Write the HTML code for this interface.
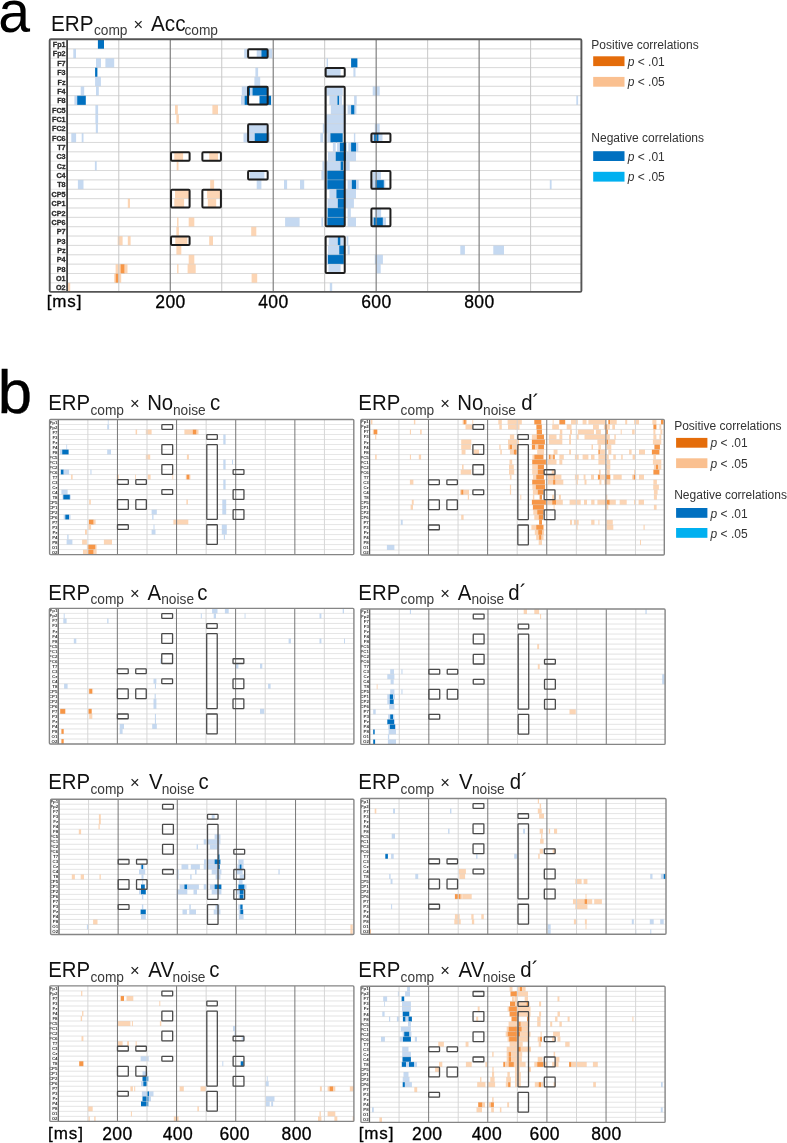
<!DOCTYPE html>
<html><head><meta charset="utf-8"><style>html,body{margin:0;padding:0;background:#fff;width:787px;height:1143px;overflow:hidden}svg{display:block;will-change:transform;font-family:"Liberation Sans",sans-serif}</style></head><body>
<svg width="787" height="1143" viewBox="0 0 787 1143">
<rect width="787" height="1143" fill="#fff"/>
<text x="-2.2" y="32.3" font-size="59" fill="#000" transform="translate(0.3 0) scale(0.97 1)">a</text>
<text transform="translate(50.9 0) scale(0.94 1)" x="0" y="30.7" font-size="22.05" fill="#111">ERP</text>
<text transform="translate(93.92 0) scale(0.955 1)" x="0" y="35.3" font-size="14.4" fill="#3a3a3a">comp</text>
<text transform="translate(133.45 0) scale(0.955 1)" x="0" y="29.7" font-size="17.32" fill="#222">×</text>
<text transform="translate(151.06 0) scale(0.94 1)" x="0" y="30.7" font-size="22.05" fill="#111">Acc</text>
<text transform="translate(184.42 0) scale(0.955 1)" x="0" y="35.3" font-size="14.4" fill="#3a3a3a">comp</text>
<rect x="49.7" y="39.2" width="531.7" height="252.7" fill="#fff"/>
<line x1="49.7" y1="48.86" x2="581.4" y2="48.86" stroke="#e4e4e4" stroke-width="1.0"/>
<line x1="49.7" y1="58.22" x2="581.4" y2="58.22" stroke="#e4e4e4" stroke-width="1.0"/>
<line x1="49.7" y1="67.58" x2="581.4" y2="67.58" stroke="#e4e4e4" stroke-width="1.0"/>
<line x1="49.7" y1="76.94" x2="581.4" y2="76.94" stroke="#e4e4e4" stroke-width="1.0"/>
<line x1="49.7" y1="86.3" x2="581.4" y2="86.3" stroke="#e4e4e4" stroke-width="1.0"/>
<line x1="49.7" y1="95.66" x2="581.4" y2="95.66" stroke="#e4e4e4" stroke-width="1.0"/>
<line x1="49.7" y1="105.01" x2="581.4" y2="105.01" stroke="#e4e4e4" stroke-width="1.0"/>
<line x1="49.7" y1="114.37" x2="581.4" y2="114.37" stroke="#e4e4e4" stroke-width="1.0"/>
<line x1="49.7" y1="123.73" x2="581.4" y2="123.73" stroke="#e4e4e4" stroke-width="1.0"/>
<line x1="49.7" y1="133.09" x2="581.4" y2="133.09" stroke="#e4e4e4" stroke-width="1.0"/>
<line x1="49.7" y1="142.45" x2="581.4" y2="142.45" stroke="#e4e4e4" stroke-width="1.0"/>
<line x1="49.7" y1="151.81" x2="581.4" y2="151.81" stroke="#e4e4e4" stroke-width="1.0"/>
<line x1="49.7" y1="161.17" x2="581.4" y2="161.17" stroke="#e4e4e4" stroke-width="1.0"/>
<line x1="49.7" y1="170.53" x2="581.4" y2="170.53" stroke="#e4e4e4" stroke-width="1.0"/>
<line x1="49.7" y1="179.89" x2="581.4" y2="179.89" stroke="#e4e4e4" stroke-width="1.0"/>
<line x1="49.7" y1="189.25" x2="581.4" y2="189.25" stroke="#e4e4e4" stroke-width="1.0"/>
<line x1="49.7" y1="198.61" x2="581.4" y2="198.61" stroke="#e4e4e4" stroke-width="1.0"/>
<line x1="49.7" y1="207.97" x2="581.4" y2="207.97" stroke="#e4e4e4" stroke-width="1.0"/>
<line x1="49.7" y1="217.33" x2="581.4" y2="217.33" stroke="#e4e4e4" stroke-width="1.0"/>
<line x1="49.7" y1="226.69" x2="581.4" y2="226.69" stroke="#e4e4e4" stroke-width="1.0"/>
<line x1="49.7" y1="236.04" x2="581.4" y2="236.04" stroke="#e4e4e4" stroke-width="1.0"/>
<line x1="49.7" y1="245.4" x2="581.4" y2="245.4" stroke="#e4e4e4" stroke-width="1.0"/>
<line x1="49.7" y1="254.76" x2="581.4" y2="254.76" stroke="#e4e4e4" stroke-width="1.0"/>
<line x1="49.7" y1="264.12" x2="581.4" y2="264.12" stroke="#e4e4e4" stroke-width="1.0"/>
<line x1="49.7" y1="273.48" x2="581.4" y2="273.48" stroke="#e4e4e4" stroke-width="1.0"/>
<line x1="49.7" y1="282.84" x2="581.4" y2="282.84" stroke="#e4e4e4" stroke-width="1.0"/>
<rect x="97.9" y="39.2" width="6.1" height="9.66" fill="#0070C0"/>
<rect x="73.3" y="48.86" width="2.7" height="9.36" fill="#C5D9F1"/>
<rect x="96" y="58.22" width="5" height="9.36" fill="#C5D9F1"/>
<rect x="105.4" y="58.22" width="8.8" height="9.36" fill="#C5D9F1"/>
<rect x="95.1" y="67.58" width="2.3" height="9.36" fill="#0070C0"/>
<rect x="95.1" y="76.94" width="5.8" height="9.36" fill="#C5D9F1"/>
<rect x="80.7" y="86.3" width="3.5" height="9.36" fill="#C5D9F1"/>
<rect x="96" y="86.3" width="2.8" height="9.36" fill="#C5D9F1"/>
<rect x="74.4" y="95.66" width="2.8" height="9.36" fill="#C5D9F1"/>
<rect x="77.2" y="95.66" width="8.6" height="9.36" fill="#0070C0"/>
<rect x="95.4" y="105.01" width="2.7" height="9.36" fill="#C5D9F1"/>
<rect x="95.4" y="114.37" width="2.7" height="9.36" fill="#C5D9F1"/>
<rect x="95.8" y="123.73" width="2.1" height="9.36" fill="#C5D9F1"/>
<rect x="71.3" y="133.09" width="4.8" height="9.36" fill="#C5D9F1"/>
<rect x="81.7" y="133.09" width="1.8" height="9.36" fill="#C5D9F1"/>
<rect x="94.9" y="161.17" width="1.8" height="9.36" fill="#C5D9F1"/>
<rect x="77.9" y="179.89" width="5.6" height="9.36" fill="#C5D9F1"/>
<rect x="127.8" y="198.61" width="2.2" height="9.36" fill="#FCD5B4"/>
<rect x="117.7" y="236.04" width="4.9" height="9.36" fill="#FCD5B4"/>
<rect x="127.8" y="236.04" width="2.8" height="9.36" fill="#FCD5B4"/>
<rect x="115.6" y="264.12" width="4.9" height="9.36" fill="#FCD5B4"/>
<rect x="120.5" y="264.12" width="4.2" height="9.36" fill="#F79646"/>
<rect x="124.7" y="264.12" width="2.8" height="9.36" fill="#FCD5B4"/>
<rect x="114.2" y="273.48" width="1.4" height="9.36" fill="#FCD5B4"/>
<rect x="115.6" y="273.48" width="3.2" height="9.36" fill="#F79646"/>
<rect x="118.8" y="273.48" width="2.4" height="9.36" fill="#FCD5B4"/>
<rect x="67.7" y="282.84" width="2.5" height="9.06" fill="#FCD5B4"/>
<rect x="244.2" y="48.86" width="2.8" height="9.36" fill="#C5D9F1"/>
<rect x="256.7" y="48.86" width="4.7" height="9.36" fill="#C5D9F1"/>
<rect x="261.4" y="48.86" width="6.1" height="9.36" fill="#0070C0"/>
<rect x="268.9" y="48.86" width="3.2" height="9.36" fill="#C5D9F1"/>
<rect x="255.4" y="67.58" width="2.7" height="9.36" fill="#C5D9F1"/>
<rect x="254.4" y="76.94" width="5.8" height="9.36" fill="#C5D9F1"/>
<rect x="241.8" y="86.3" width="5.2" height="9.36" fill="#C5D9F1"/>
<rect x="247" y="86.3" width="3" height="9.36" fill="#0070C0"/>
<rect x="250" y="86.3" width="2.5" height="9.36" fill="#C5D9F1"/>
<rect x="252.5" y="86.3" width="15.5" height="9.36" fill="#0070C0"/>
<rect x="241" y="95.66" width="3.6" height="9.36" fill="#C5D9F1"/>
<rect x="244.6" y="95.66" width="4.2" height="9.36" fill="#0070C0"/>
<rect x="259.5" y="95.66" width="11.6" height="9.36" fill="#0070C0"/>
<rect x="175" y="105.01" width="2.8" height="9.36" fill="#FCD5B4"/>
<rect x="212.4" y="105.01" width="5.6" height="9.36" fill="#FCD5B4"/>
<rect x="176.4" y="114.37" width="2.5" height="9.36" fill="#FCD5B4"/>
<rect x="249" y="123.73" width="18.5" height="9.36" fill="#C5D9F1"/>
<rect x="243.5" y="133.09" width="11.2" height="9.36" fill="#C5D9F1"/>
<rect x="254.7" y="133.09" width="12.3" height="9.36" fill="#0070C0"/>
<rect x="267" y="133.09" width="2.7" height="9.36" fill="#C5D9F1"/>
<rect x="174.3" y="151.81" width="8.8" height="9.36" fill="#FCD5B4"/>
<rect x="209.2" y="151.81" width="8.8" height="9.36" fill="#FCD5B4"/>
<rect x="176.7" y="161.17" width="1.8" height="9.36" fill="#FCD5B4"/>
<rect x="249.8" y="170.53" width="14.6" height="9.36" fill="#C5D9F1"/>
<rect x="210.2" y="179.89" width="3.9" height="9.36" fill="#FCD5B4"/>
<rect x="256.7" y="179.89" width="4.7" height="9.36" fill="#C5D9F1"/>
<rect x="175" y="189.25" width="14.2" height="9.36" fill="#FCD5B4"/>
<rect x="207.1" y="189.25" width="13.7" height="9.36" fill="#FCD5B4"/>
<rect x="174.3" y="198.61" width="9.8" height="9.36" fill="#FCD5B4"/>
<rect x="207.8" y="198.61" width="8.4" height="9.36" fill="#FCD5B4"/>
<rect x="177.1" y="217.33" width="1.4" height="9.36" fill="#FCD5B4"/>
<rect x="188.7" y="217.33" width="5.6" height="9.36" fill="#FCD5B4"/>
<rect x="176.4" y="226.69" width="2.5" height="9.36" fill="#FCD5B4"/>
<rect x="251.2" y="226.69" width="5.1" height="9.36" fill="#FCD5B4"/>
<rect x="175.3" y="236.04" width="12" height="9.36" fill="#FCD5B4"/>
<rect x="209.2" y="236.04" width="3.8" height="9.36" fill="#FCD5B4"/>
<rect x="176.4" y="245.4" width="4.9" height="9.36" fill="#FCD5B4"/>
<rect x="188.7" y="254.76" width="5.6" height="9.36" fill="#FCD5B4"/>
<rect x="177.1" y="264.12" width="1.4" height="9.36" fill="#FCD5B4"/>
<rect x="187.6" y="264.12" width="8.1" height="9.36" fill="#FCD5B4"/>
<rect x="251.6" y="273.48" width="5.6" height="9.36" fill="#FCD5B4"/>
<rect x="326.6" y="58.22" width="1.4" height="9.36" fill="#C5D9F1"/>
<rect x="351.1" y="58.22" width="6.3" height="9.36" fill="#0070C0"/>
<rect x="325.9" y="67.58" width="14.7" height="9.36" fill="#C5D9F1"/>
<rect x="353.4" y="67.58" width="2.1" height="9.36" fill="#C5D9F1"/>
<rect x="326.6" y="86.3" width="16.1" height="9.36" fill="#C5D9F1"/>
<rect x="372.7" y="86.3" width="7" height="9.36" fill="#C5D9F1"/>
<rect x="329.4" y="95.66" width="7.7" height="9.36" fill="#C5D9F1"/>
<rect x="337.4" y="95.66" width="1.8" height="9.36" fill="#0070C0"/>
<rect x="339.2" y="95.66" width="2.8" height="9.36" fill="#C5D9F1"/>
<rect x="354.1" y="95.66" width="2.6" height="9.36" fill="#C5D9F1"/>
<rect x="330.8" y="105.01" width="13.3" height="9.36" fill="#C5D9F1"/>
<rect x="347.6" y="105.01" width="3.5" height="9.36" fill="#C5D9F1"/>
<rect x="351.1" y="105.01" width="3.5" height="9.36" fill="#0070C0"/>
<rect x="354.6" y="105.01" width="1.8" height="9.36" fill="#C5D9F1"/>
<rect x="325.9" y="114.37" width="19.6" height="9.36" fill="#C5D9F1"/>
<rect x="322.8" y="123.73" width="21.3" height="9.36" fill="#C5D9F1"/>
<rect x="374.8" y="123.73" width="4.9" height="9.36" fill="#C5D9F1"/>
<rect x="320.3" y="133.09" width="2.8" height="9.36" fill="#C5D9F1"/>
<rect x="327.3" y="133.09" width="3.1" height="9.36" fill="#C5D9F1"/>
<rect x="330.4" y="133.09" width="12.3" height="9.36" fill="#0070C0"/>
<rect x="353.9" y="133.09" width="1.4" height="9.36" fill="#C5D9F1"/>
<rect x="372" y="133.09" width="2.1" height="9.36" fill="#C5D9F1"/>
<rect x="374.1" y="133.09" width="4.6" height="9.36" fill="#0070C0"/>
<rect x="378.7" y="133.09" width="3.8" height="9.36" fill="#C5D9F1"/>
<rect x="332.9" y="142.45" width="2.8" height="9.36" fill="#C5D9F1"/>
<rect x="337.1" y="142.45" width="2.8" height="9.36" fill="#C5D9F1"/>
<rect x="339.9" y="142.45" width="6.3" height="9.36" fill="#0070C0"/>
<rect x="348.3" y="142.45" width="2.8" height="9.36" fill="#C5D9F1"/>
<rect x="351.1" y="142.45" width="4.9" height="9.36" fill="#0070C0"/>
<rect x="356" y="142.45" width="2.3" height="9.36" fill="#C5D9F1"/>
<rect x="328" y="151.81" width="7.7" height="9.36" fill="#C5D9F1"/>
<rect x="335.7" y="151.81" width="10.5" height="9.36" fill="#0070C0"/>
<rect x="346.2" y="151.81" width="9.8" height="9.36" fill="#C5D9F1"/>
<rect x="322.4" y="161.17" width="18.2" height="9.36" fill="#C5D9F1"/>
<rect x="340.6" y="161.17" width="2.8" height="9.36" fill="#0070C0"/>
<rect x="343.4" y="161.17" width="6.3" height="9.36" fill="#C5D9F1"/>
<rect x="321.4" y="170.53" width="5.9" height="9.36" fill="#C5D9F1"/>
<rect x="327.3" y="170.53" width="16.8" height="9.36" fill="#0070C0"/>
<rect x="372.7" y="170.53" width="8.3" height="9.36" fill="#C5D9F1"/>
<rect x="284" y="179.89" width="3.1" height="9.36" fill="#C5D9F1"/>
<rect x="300" y="179.89" width="4.2" height="9.36" fill="#C5D9F1"/>
<rect x="323.8" y="179.89" width="3.5" height="9.36" fill="#C5D9F1"/>
<rect x="327.3" y="179.89" width="16.8" height="9.36" fill="#0070C0"/>
<rect x="347.6" y="179.89" width="4.2" height="9.36" fill="#C5D9F1"/>
<rect x="351.8" y="179.89" width="4.2" height="9.36" fill="#0070C0"/>
<rect x="356" y="179.89" width="2.7" height="9.36" fill="#C5D9F1"/>
<rect x="372" y="179.89" width="3.5" height="9.36" fill="#C5D9F1"/>
<rect x="375.5" y="179.89" width="8.4" height="9.36" fill="#0070C0"/>
<rect x="383.9" y="179.89" width="1.4" height="9.36" fill="#C5D9F1"/>
<rect x="329.4" y="189.25" width="7" height="9.36" fill="#C5D9F1"/>
<rect x="336.4" y="189.25" width="7.7" height="9.36" fill="#0070C0"/>
<rect x="344.1" y="189.25" width="11.9" height="9.36" fill="#C5D9F1"/>
<rect x="327.6" y="198.61" width="10.2" height="9.36" fill="#C5D9F1"/>
<rect x="337.8" y="198.61" width="6.3" height="9.36" fill="#0070C0"/>
<rect x="344.1" y="198.61" width="9.8" height="9.36" fill="#C5D9F1"/>
<rect x="327.6" y="207.97" width="16.8" height="9.36" fill="#0070C0"/>
<rect x="347.6" y="207.97" width="3.2" height="9.36" fill="#C5D9F1"/>
<rect x="374.8" y="207.97" width="6.3" height="9.36" fill="#C5D9F1"/>
<rect x="285.1" y="217.33" width="14.5" height="9.36" fill="#C5D9F1"/>
<rect x="321.4" y="217.33" width="1.7" height="9.36" fill="#C5D9F1"/>
<rect x="327.3" y="217.33" width="17.1" height="9.36" fill="#0070C0"/>
<rect x="347.6" y="217.33" width="8.4" height="9.36" fill="#C5D9F1"/>
<rect x="372" y="217.33" width="1.7" height="9.36" fill="#C5D9F1"/>
<rect x="373.7" y="217.33" width="9.2" height="9.36" fill="#0070C0"/>
<rect x="382.9" y="217.33" width="3.1" height="9.36" fill="#C5D9F1"/>
<rect x="328.7" y="236.04" width="9.1" height="9.36" fill="#C5D9F1"/>
<rect x="337.8" y="236.04" width="2.8" height="9.36" fill="#0070C0"/>
<rect x="340.6" y="236.04" width="3.2" height="9.36" fill="#C5D9F1"/>
<rect x="346.6" y="236.04" width="1.7" height="9.36" fill="#C5D9F1"/>
<rect x="328" y="245.4" width="11.2" height="9.36" fill="#C5D9F1"/>
<rect x="339.2" y="245.4" width="4.9" height="9.36" fill="#0070C0"/>
<rect x="347.6" y="245.4" width="2.1" height="9.36" fill="#C5D9F1"/>
<rect x="325.2" y="254.76" width="2.8" height="9.36" fill="#C5D9F1"/>
<rect x="328" y="254.76" width="15.8" height="9.36" fill="#0070C0"/>
<rect x="374.8" y="254.76" width="8.1" height="9.36" fill="#C5D9F1"/>
<rect x="328.4" y="264.12" width="12.2" height="9.36" fill="#C5D9F1"/>
<rect x="376.2" y="264.12" width="4.5" height="9.36" fill="#C5D9F1"/>
<rect x="329.8" y="282.84" width="2.4" height="9.06" fill="#C5D9F1"/>
<rect x="460.3" y="245.4" width="4.6" height="9.36" fill="#C5D9F1"/>
<rect x="493.3" y="245.4" width="10.7" height="9.36" fill="#C5D9F1"/>
<rect x="549.8" y="179.89" width="1.8" height="9.36" fill="#C5D9F1"/>
<rect x="576.3" y="95.66" width="1.8" height="9.36" fill="#C5D9F1"/>
<line x1="67.1" y1="48.86" x2="581.4" y2="48.86" stroke="rgba(200,200,200,0.35)" stroke-width="1.0"/>
<line x1="67.1" y1="58.22" x2="581.4" y2="58.22" stroke="rgba(200,200,200,0.35)" stroke-width="1.0"/>
<line x1="67.1" y1="67.58" x2="581.4" y2="67.58" stroke="rgba(200,200,200,0.35)" stroke-width="1.0"/>
<line x1="67.1" y1="76.94" x2="581.4" y2="76.94" stroke="rgba(200,200,200,0.35)" stroke-width="1.0"/>
<line x1="67.1" y1="86.3" x2="581.4" y2="86.3" stroke="rgba(200,200,200,0.35)" stroke-width="1.0"/>
<line x1="67.1" y1="95.66" x2="581.4" y2="95.66" stroke="rgba(200,200,200,0.35)" stroke-width="1.0"/>
<line x1="67.1" y1="105.01" x2="581.4" y2="105.01" stroke="rgba(200,200,200,0.35)" stroke-width="1.0"/>
<line x1="67.1" y1="114.37" x2="581.4" y2="114.37" stroke="rgba(200,200,200,0.35)" stroke-width="1.0"/>
<line x1="67.1" y1="123.73" x2="581.4" y2="123.73" stroke="rgba(200,200,200,0.35)" stroke-width="1.0"/>
<line x1="67.1" y1="133.09" x2="581.4" y2="133.09" stroke="rgba(200,200,200,0.35)" stroke-width="1.0"/>
<line x1="67.1" y1="142.45" x2="581.4" y2="142.45" stroke="rgba(200,200,200,0.35)" stroke-width="1.0"/>
<line x1="67.1" y1="151.81" x2="581.4" y2="151.81" stroke="rgba(200,200,200,0.35)" stroke-width="1.0"/>
<line x1="67.1" y1="161.17" x2="581.4" y2="161.17" stroke="rgba(200,200,200,0.35)" stroke-width="1.0"/>
<line x1="67.1" y1="170.53" x2="581.4" y2="170.53" stroke="rgba(200,200,200,0.35)" stroke-width="1.0"/>
<line x1="67.1" y1="179.89" x2="581.4" y2="179.89" stroke="rgba(200,200,200,0.35)" stroke-width="1.0"/>
<line x1="67.1" y1="189.25" x2="581.4" y2="189.25" stroke="rgba(200,200,200,0.35)" stroke-width="1.0"/>
<line x1="67.1" y1="198.61" x2="581.4" y2="198.61" stroke="rgba(200,200,200,0.35)" stroke-width="1.0"/>
<line x1="67.1" y1="207.97" x2="581.4" y2="207.97" stroke="rgba(200,200,200,0.35)" stroke-width="1.0"/>
<line x1="67.1" y1="217.33" x2="581.4" y2="217.33" stroke="rgba(200,200,200,0.35)" stroke-width="1.0"/>
<line x1="67.1" y1="226.69" x2="581.4" y2="226.69" stroke="rgba(200,200,200,0.35)" stroke-width="1.0"/>
<line x1="67.1" y1="236.04" x2="581.4" y2="236.04" stroke="rgba(200,200,200,0.35)" stroke-width="1.0"/>
<line x1="67.1" y1="245.4" x2="581.4" y2="245.4" stroke="rgba(200,200,200,0.35)" stroke-width="1.0"/>
<line x1="67.1" y1="254.76" x2="581.4" y2="254.76" stroke="rgba(200,200,200,0.35)" stroke-width="1.0"/>
<line x1="67.1" y1="264.12" x2="581.4" y2="264.12" stroke="rgba(200,200,200,0.35)" stroke-width="1.0"/>
<line x1="67.1" y1="273.48" x2="581.4" y2="273.48" stroke="rgba(200,200,200,0.35)" stroke-width="1.0"/>
<line x1="67.1" y1="282.84" x2="581.4" y2="282.84" stroke="rgba(200,200,200,0.35)" stroke-width="1.0"/>
<line x1="118.81" y1="39.2" x2="118.81" y2="291.9" stroke="#c8c8c8" stroke-width="1"/>
<line x1="170.28" y1="39.2" x2="170.28" y2="291.9" stroke="#808080" stroke-width="1.2"/>
<line x1="221.75" y1="39.2" x2="221.75" y2="291.9" stroke="#c8c8c8" stroke-width="1"/>
<line x1="273.23" y1="39.2" x2="273.23" y2="291.9" stroke="#808080" stroke-width="1.2"/>
<line x1="324.7" y1="39.2" x2="324.7" y2="291.9" stroke="#c8c8c8" stroke-width="1"/>
<line x1="376.18" y1="39.2" x2="376.18" y2="291.9" stroke="#808080" stroke-width="1.2"/>
<line x1="427.66" y1="39.2" x2="427.66" y2="291.9" stroke="#c8c8c8" stroke-width="1"/>
<line x1="479.13" y1="39.2" x2="479.13" y2="291.9" stroke="#808080" stroke-width="1.2"/>
<line x1="530.61" y1="39.2" x2="530.61" y2="291.9" stroke="#c8c8c8" stroke-width="1"/>
<rect x="248.1" y="49.36" width="19.58" height="8.36" fill="none" stroke="#1e1e1e" stroke-width="2.0" rx="1"/>
<rect x="325.66" y="68.08" width="19.06" height="8.36" fill="none" stroke="#1e1e1e" stroke-width="2.0" rx="1"/>
<rect x="248.1" y="86.8" width="19.58" height="17.72" fill="none" stroke="#1e1e1e" stroke-width="2.0" rx="1"/>
<rect x="248.1" y="124.23" width="19.58" height="17.72" fill="none" stroke="#1e1e1e" stroke-width="2.0" rx="1"/>
<rect x="371.38" y="133.59" width="19.06" height="8.36" fill="none" stroke="#1e1e1e" stroke-width="2.0" rx="1"/>
<rect x="171.04" y="152.31" width="18.55" height="8.36" fill="none" stroke="#1e1e1e" stroke-width="2.0" rx="1"/>
<rect x="202.38" y="152.31" width="18.55" height="8.36" fill="none" stroke="#1e1e1e" stroke-width="2.0" rx="1"/>
<rect x="248.1" y="171.03" width="19.58" height="8.36" fill="none" stroke="#1e1e1e" stroke-width="2.0" rx="1"/>
<rect x="371.38" y="171.03" width="19.06" height="17.72" fill="none" stroke="#1e1e1e" stroke-width="2.0" rx="1"/>
<rect x="171.04" y="189.75" width="18.55" height="17.72" fill="none" stroke="#1e1e1e" stroke-width="2.0" rx="1"/>
<rect x="202.38" y="189.75" width="18.55" height="17.72" fill="none" stroke="#1e1e1e" stroke-width="2.0" rx="1"/>
<rect x="325.66" y="86.8" width="19.06" height="139.39" fill="none" stroke="#1e1e1e" stroke-width="2.0" rx="1"/>
<rect x="371.38" y="208.47" width="19.06" height="17.72" fill="none" stroke="#1e1e1e" stroke-width="2.0" rx="1"/>
<rect x="171.04" y="236.54" width="18.55" height="8.36" fill="none" stroke="#1e1e1e" stroke-width="2.0" rx="1"/>
<rect x="325.66" y="236.54" width="19.06" height="36.44" fill="none" stroke="#1e1e1e" stroke-width="2.0" rx="1"/>
<line x1="67.1" y1="39.2" x2="67.1" y2="291.9" stroke="#454545" stroke-width="1.8"/>
<text x="65.6" y="46.93" font-size="7.2" font-weight="bold" text-anchor="end" fill="#2a2a2a" stroke="#2a2a2a" stroke-width="0.3">Fp1</text>
<text x="65.6" y="56.44" font-size="7.2" font-weight="bold" text-anchor="end" fill="#2a2a2a" stroke="#2a2a2a" stroke-width="0.3">Fp2</text>
<text x="65.6" y="65.8" font-size="7.2" font-weight="bold" text-anchor="end" fill="#2a2a2a" stroke="#2a2a2a" stroke-width="0.3">F7</text>
<text x="65.6" y="75.16" font-size="7.2" font-weight="bold" text-anchor="end" fill="#2a2a2a" stroke="#2a2a2a" stroke-width="0.3">F3</text>
<text x="65.6" y="84.52" font-size="7.2" font-weight="bold" text-anchor="end" fill="#2a2a2a" stroke="#2a2a2a" stroke-width="0.3">Fz</text>
<text x="65.6" y="93.88" font-size="7.2" font-weight="bold" text-anchor="end" fill="#2a2a2a" stroke="#2a2a2a" stroke-width="0.3">F4</text>
<text x="65.6" y="103.24" font-size="7.2" font-weight="bold" text-anchor="end" fill="#2a2a2a" stroke="#2a2a2a" stroke-width="0.3">F8</text>
<text x="65.6" y="112.59" font-size="7.2" font-weight="bold" text-anchor="end" fill="#2a2a2a" stroke="#2a2a2a" stroke-width="0.3">FC5</text>
<text x="65.6" y="121.95" font-size="7.2" font-weight="bold" text-anchor="end" fill="#2a2a2a" stroke="#2a2a2a" stroke-width="0.3">FC1</text>
<text x="65.6" y="131.31" font-size="7.2" font-weight="bold" text-anchor="end" fill="#2a2a2a" stroke="#2a2a2a" stroke-width="0.3">FC2</text>
<text x="65.6" y="140.67" font-size="7.2" font-weight="bold" text-anchor="end" fill="#2a2a2a" stroke="#2a2a2a" stroke-width="0.3">FC6</text>
<text x="65.6" y="150.03" font-size="7.2" font-weight="bold" text-anchor="end" fill="#2a2a2a" stroke="#2a2a2a" stroke-width="0.3">T7</text>
<text x="65.6" y="159.39" font-size="7.2" font-weight="bold" text-anchor="end" fill="#2a2a2a" stroke="#2a2a2a" stroke-width="0.3">C3</text>
<text x="65.6" y="168.75" font-size="7.2" font-weight="bold" text-anchor="end" fill="#2a2a2a" stroke="#2a2a2a" stroke-width="0.3">Cz</text>
<text x="65.6" y="178.11" font-size="7.2" font-weight="bold" text-anchor="end" fill="#2a2a2a" stroke="#2a2a2a" stroke-width="0.3">C4</text>
<text x="65.6" y="187.47" font-size="7.2" font-weight="bold" text-anchor="end" fill="#2a2a2a" stroke="#2a2a2a" stroke-width="0.3">T8</text>
<text x="65.6" y="196.83" font-size="7.2" font-weight="bold" text-anchor="end" fill="#2a2a2a" stroke="#2a2a2a" stroke-width="0.3">CP5</text>
<text x="65.6" y="206.19" font-size="7.2" font-weight="bold" text-anchor="end" fill="#2a2a2a" stroke="#2a2a2a" stroke-width="0.3">CP1</text>
<text x="65.6" y="215.55" font-size="7.2" font-weight="bold" text-anchor="end" fill="#2a2a2a" stroke="#2a2a2a" stroke-width="0.3">CP2</text>
<text x="65.6" y="224.91" font-size="7.2" font-weight="bold" text-anchor="end" fill="#2a2a2a" stroke="#2a2a2a" stroke-width="0.3">CP6</text>
<text x="65.6" y="234.26" font-size="7.2" font-weight="bold" text-anchor="end" fill="#2a2a2a" stroke="#2a2a2a" stroke-width="0.3">P7</text>
<text x="65.6" y="243.62" font-size="7.2" font-weight="bold" text-anchor="end" fill="#2a2a2a" stroke="#2a2a2a" stroke-width="0.3">P3</text>
<text x="65.6" y="252.98" font-size="7.2" font-weight="bold" text-anchor="end" fill="#2a2a2a" stroke="#2a2a2a" stroke-width="0.3">Pz</text>
<text x="65.6" y="262.34" font-size="7.2" font-weight="bold" text-anchor="end" fill="#2a2a2a" stroke="#2a2a2a" stroke-width="0.3">P4</text>
<text x="65.6" y="271.7" font-size="7.2" font-weight="bold" text-anchor="end" fill="#2a2a2a" stroke="#2a2a2a" stroke-width="0.3">P8</text>
<text x="65.6" y="281.06" font-size="7.2" font-weight="bold" text-anchor="end" fill="#2a2a2a" stroke="#2a2a2a" stroke-width="0.3">O1</text>
<text x="65.6" y="290.27" font-size="7.2" font-weight="bold" text-anchor="end" fill="#2a2a2a" stroke="#2a2a2a" stroke-width="0.3">O2</text>
<rect x="49.7" y="39.2" width="531.7" height="252.7" fill="none" stroke="#555" stroke-width="1.9" rx="1.2"/>
<text x="591.3" y="49" font-size="12" fill="#333">Positive correlations</text>
<text x="591.3" y="141.8" font-size="12" fill="#333">Negative correlations</text>
<rect x="593.2" y="56.3" width="31.3" height="9.8" fill="#E46C0A"/>
<text x="627.7" y="65.8" font-size="12" fill="#333"><tspan font-style="italic">p</tspan> &lt; .01</text>
<rect x="593.2" y="76.9" width="31.3" height="9.8" fill="#FAC090"/>
<text x="627.7" y="86.4" font-size="12" fill="#333"><tspan font-style="italic">p</tspan> &lt; .05</text>
<rect x="593.2" y="151.2" width="31.3" height="9.8" fill="#0070C0"/>
<text x="627.7" y="160.7" font-size="12" fill="#333"><tspan font-style="italic">p</tspan> &lt; .01</text>
<rect x="593.2" y="171.8" width="31.3" height="9.8" fill="#00B0F0"/>
<text x="627.7" y="181.3" font-size="12" fill="#333"><tspan font-style="italic">p</tspan> &lt; .05</text>
<text x="46.7" y="306.6" font-size="17" letter-spacing="0.9" fill="#000" stroke="#000" stroke-width="0.3">[ms]</text>
<text x="170.48" y="308.2" font-size="17.5" letter-spacing="0.4" fill="#000" stroke="#000" stroke-width="0.3" text-anchor="middle">200</text>
<text x="273.43" y="308.2" font-size="17.5" letter-spacing="0.4" fill="#000" stroke="#000" stroke-width="0.3" text-anchor="middle">400</text>
<text x="376.38" y="308.2" font-size="17.5" letter-spacing="0.4" fill="#000" stroke="#000" stroke-width="0.3" text-anchor="middle">600</text>
<text x="479.33" y="308.2" font-size="17.5" letter-spacing="0.4" fill="#000" stroke="#000" stroke-width="0.3" text-anchor="middle">800</text>
<text x="-2.2" y="413.2" font-size="61.6" fill="#000" stroke="#000" stroke-width="0.4">b</text>
<text transform="translate(48.13 0) scale(0.925 1)" x="0" y="410.4" font-size="22.05" fill="#111">ERP</text>
<text transform="translate(90.42 0) scale(0.955 1)" x="0" y="415" font-size="14.4" fill="#3a3a3a">comp</text>
<text transform="translate(130.05 0) scale(0.955 1)" x="0" y="409.4" font-size="17.32" fill="#222">×</text>
<text transform="translate(147.13 0) scale(0.925 1)" x="0" y="410.4" font-size="22.05" fill="#111">No</text>
<text transform="translate(172.89 0) scale(0.955 1)" x="0" y="415" font-size="14.4" fill="#3a3a3a">noise</text>
<text transform="translate(209.93 0) scale(0.925 1)" x="0" y="410.4" font-size="22.05" fill="#111">c</text>
<rect x="49.6" y="419.5" width="304.2" height="135.1" fill="#fff"/>
<line x1="49.6" y1="424.5" x2="353.8" y2="424.5" stroke="#ededed" stroke-width="0.8"/>
<line x1="49.6" y1="429.51" x2="353.8" y2="429.51" stroke="#ededed" stroke-width="0.8"/>
<line x1="49.6" y1="434.51" x2="353.8" y2="434.51" stroke="#ededed" stroke-width="0.8"/>
<line x1="49.6" y1="439.51" x2="353.8" y2="439.51" stroke="#ededed" stroke-width="0.8"/>
<line x1="49.6" y1="444.52" x2="353.8" y2="444.52" stroke="#ededed" stroke-width="0.8"/>
<line x1="49.6" y1="449.52" x2="353.8" y2="449.52" stroke="#ededed" stroke-width="0.8"/>
<line x1="49.6" y1="454.53" x2="353.8" y2="454.53" stroke="#ededed" stroke-width="0.8"/>
<line x1="49.6" y1="459.53" x2="353.8" y2="459.53" stroke="#ededed" stroke-width="0.8"/>
<line x1="49.6" y1="464.53" x2="353.8" y2="464.53" stroke="#ededed" stroke-width="0.8"/>
<line x1="49.6" y1="469.54" x2="353.8" y2="469.54" stroke="#ededed" stroke-width="0.8"/>
<line x1="49.6" y1="474.54" x2="353.8" y2="474.54" stroke="#ededed" stroke-width="0.8"/>
<line x1="49.6" y1="479.54" x2="353.8" y2="479.54" stroke="#ededed" stroke-width="0.8"/>
<line x1="49.6" y1="484.55" x2="353.8" y2="484.55" stroke="#ededed" stroke-width="0.8"/>
<line x1="49.6" y1="489.55" x2="353.8" y2="489.55" stroke="#ededed" stroke-width="0.8"/>
<line x1="49.6" y1="494.56" x2="353.8" y2="494.56" stroke="#ededed" stroke-width="0.8"/>
<line x1="49.6" y1="499.56" x2="353.8" y2="499.56" stroke="#ededed" stroke-width="0.8"/>
<line x1="49.6" y1="504.56" x2="353.8" y2="504.56" stroke="#ededed" stroke-width="0.8"/>
<line x1="49.6" y1="509.57" x2="353.8" y2="509.57" stroke="#ededed" stroke-width="0.8"/>
<line x1="49.6" y1="514.57" x2="353.8" y2="514.57" stroke="#ededed" stroke-width="0.8"/>
<line x1="49.6" y1="519.57" x2="353.8" y2="519.57" stroke="#ededed" stroke-width="0.8"/>
<line x1="49.6" y1="524.58" x2="353.8" y2="524.58" stroke="#ededed" stroke-width="0.8"/>
<line x1="49.6" y1="529.58" x2="353.8" y2="529.58" stroke="#ededed" stroke-width="0.8"/>
<line x1="49.6" y1="534.59" x2="353.8" y2="534.59" stroke="#ededed" stroke-width="0.8"/>
<line x1="49.6" y1="539.59" x2="353.8" y2="539.59" stroke="#ededed" stroke-width="0.8"/>
<line x1="49.6" y1="544.59" x2="353.8" y2="544.59" stroke="#ededed" stroke-width="0.8"/>
<line x1="49.6" y1="549.6" x2="353.8" y2="549.6" stroke="#ededed" stroke-width="0.8"/>
<rect x="107.8" y="419.5" width="0.8" height="5" fill="#C5D9F1"/>
<rect x="107.2" y="424.5" width="1.9" height="5" fill="#C5D9F1"/>
<rect x="135.6" y="429.51" width="1.5" height="5" fill="#FCD5B4"/>
<rect x="145.8" y="429.51" width="5.8" height="5" fill="#FCD5B4"/>
<rect x="184.4" y="429.51" width="8.3" height="5" fill="#FCD5B4"/>
<rect x="192.7" y="429.51" width="3.9" height="5" fill="#F79646"/>
<rect x="196.6" y="429.51" width="1.9" height="5" fill="#FCD5B4"/>
<rect x="66.3" y="444.52" width="0.8" height="5" fill="#C5D9F1"/>
<rect x="59.9" y="449.52" width="2.3" height="5" fill="#C5D9F1"/>
<rect x="62.2" y="449.52" width="6.4" height="5" fill="#0070C0"/>
<rect x="107.2" y="449.52" width="3.8" height="5" fill="#C5D9F1"/>
<rect x="145.8" y="454.53" width="4.4" height="5" fill="#FCD5B4"/>
<rect x="186.9" y="454.53" width="2" height="5" fill="#FCD5B4"/>
<rect x="60.8" y="469.54" width="2.9" height="5" fill="#0070C0"/>
<rect x="63.7" y="469.54" width="5.4" height="5" fill="#C5D9F1"/>
<rect x="90.4" y="469.54" width="1.1" height="5" fill="#C5D9F1"/>
<rect x="71.1" y="474.54" width="1.5" height="5" fill="#FCD5B4"/>
<rect x="116.8" y="474.54" width="2" height="5" fill="#FCD5B4"/>
<rect x="135.2" y="474.54" width="0.8" height="5" fill="#FCD5B4"/>
<rect x="147.7" y="474.54" width="2.9" height="5" fill="#FCD5B4"/>
<rect x="172.3" y="474.54" width="0.9" height="5" fill="#FCD5B4"/>
<rect x="185.8" y="474.54" width="0.8" height="5" fill="#FCD5B4"/>
<rect x="186.6" y="474.54" width="3" height="5" fill="#F79646"/>
<rect x="189.6" y="474.54" width="0.8" height="5" fill="#FCD5B4"/>
<rect x="61.4" y="489.55" width="6.2" height="5" fill="#C5D9F1"/>
<rect x="62.5" y="494.56" width="0.8" height="5" fill="#C5D9F1"/>
<rect x="63.3" y="494.56" width="6.6" height="5" fill="#0070C0"/>
<rect x="69.9" y="494.56" width="0.8" height="5" fill="#C5D9F1"/>
<rect x="89.2" y="499.56" width="1.6" height="5" fill="#FCD5B4"/>
<rect x="186.4" y="499.56" width="1.5" height="5" fill="#FCD5B4"/>
<rect x="151.6" y="509.57" width="5.2" height="5" fill="#C5D9F1"/>
<rect x="63.7" y="514.57" width="1.6" height="5" fill="#C5D9F1"/>
<rect x="65.3" y="514.57" width="3.8" height="5" fill="#0070C0"/>
<rect x="69.1" y="514.57" width="1.4" height="5" fill="#C5D9F1"/>
<rect x="152.2" y="514.57" width="1.3" height="5" fill="#C5D9F1"/>
<rect x="88.8" y="519.57" width="4.9" height="5" fill="#F79646"/>
<rect x="93.7" y="519.57" width="1.9" height="5" fill="#FCD5B4"/>
<rect x="173.4" y="519.57" width="14.9" height="5" fill="#FCD5B4"/>
<rect x="88.4" y="524.58" width="2.7" height="5" fill="#FCD5B4"/>
<rect x="153.5" y="524.58" width="1" height="5" fill="#C5D9F1"/>
<rect x="85" y="529.58" width="1.9" height="5" fill="#FCD5B4"/>
<rect x="151.6" y="529.58" width="3.9" height="5" fill="#C5D9F1"/>
<rect x="67.2" y="534.59" width="1.4" height="5" fill="#C5D9F1"/>
<rect x="66.6" y="539.59" width="5.8" height="5" fill="#C5D9F1"/>
<rect x="82.1" y="539.59" width="4.8" height="5" fill="#FCD5B4"/>
<rect x="103.9" y="539.59" width="8.1" height="5" fill="#FCD5B4"/>
<rect x="86.9" y="544.59" width="1" height="5" fill="#FCD5B4"/>
<rect x="87.9" y="544.59" width="7.7" height="5" fill="#F79646"/>
<rect x="95.6" y="544.59" width="1" height="5" fill="#FCD5B4"/>
<rect x="83" y="549.6" width="4.9" height="5" fill="#FCD5B4"/>
<rect x="87.9" y="549.6" width="5.8" height="5" fill="#F79646"/>
<rect x="93.7" y="549.6" width="2.9" height="5" fill="#FCD5B4"/>
<rect x="223.3" y="434.51" width="2.3" height="10.01" fill="#C5D9F1"/>
<rect x="223.3" y="459.53" width="2.3" height="10.01" fill="#C5D9F1"/>
<rect x="232" y="459.53" width="1" height="5" fill="#C5D9F1"/>
<rect x="223.3" y="479.54" width="2.3" height="10.01" fill="#C5D9F1"/>
<rect x="222.3" y="499.56" width="3.9" height="15.01" fill="#C5D9F1"/>
<rect x="221.8" y="524.58" width="5" height="10.01" fill="#C5D9F1"/>
<rect x="223.8" y="534.59" width="1.2" height="5" fill="#C5D9F1"/>
<line x1="58.3" y1="424.5" x2="353.8" y2="424.5" stroke="rgba(200,200,200,0.35)" stroke-width="0.8"/>
<line x1="58.3" y1="429.51" x2="353.8" y2="429.51" stroke="rgba(200,200,200,0.35)" stroke-width="0.8"/>
<line x1="58.3" y1="434.51" x2="353.8" y2="434.51" stroke="rgba(200,200,200,0.35)" stroke-width="0.8"/>
<line x1="58.3" y1="439.51" x2="353.8" y2="439.51" stroke="rgba(200,200,200,0.35)" stroke-width="0.8"/>
<line x1="58.3" y1="444.52" x2="353.8" y2="444.52" stroke="rgba(200,200,200,0.35)" stroke-width="0.8"/>
<line x1="58.3" y1="449.52" x2="353.8" y2="449.52" stroke="rgba(200,200,200,0.35)" stroke-width="0.8"/>
<line x1="58.3" y1="454.53" x2="353.8" y2="454.53" stroke="rgba(200,200,200,0.35)" stroke-width="0.8"/>
<line x1="58.3" y1="459.53" x2="353.8" y2="459.53" stroke="rgba(200,200,200,0.35)" stroke-width="0.8"/>
<line x1="58.3" y1="464.53" x2="353.8" y2="464.53" stroke="rgba(200,200,200,0.35)" stroke-width="0.8"/>
<line x1="58.3" y1="469.54" x2="353.8" y2="469.54" stroke="rgba(200,200,200,0.35)" stroke-width="0.8"/>
<line x1="58.3" y1="474.54" x2="353.8" y2="474.54" stroke="rgba(200,200,200,0.35)" stroke-width="0.8"/>
<line x1="58.3" y1="479.54" x2="353.8" y2="479.54" stroke="rgba(200,200,200,0.35)" stroke-width="0.8"/>
<line x1="58.3" y1="484.55" x2="353.8" y2="484.55" stroke="rgba(200,200,200,0.35)" stroke-width="0.8"/>
<line x1="58.3" y1="489.55" x2="353.8" y2="489.55" stroke="rgba(200,200,200,0.35)" stroke-width="0.8"/>
<line x1="58.3" y1="494.56" x2="353.8" y2="494.56" stroke="rgba(200,200,200,0.35)" stroke-width="0.8"/>
<line x1="58.3" y1="499.56" x2="353.8" y2="499.56" stroke="rgba(200,200,200,0.35)" stroke-width="0.8"/>
<line x1="58.3" y1="504.56" x2="353.8" y2="504.56" stroke="rgba(200,200,200,0.35)" stroke-width="0.8"/>
<line x1="58.3" y1="509.57" x2="353.8" y2="509.57" stroke="rgba(200,200,200,0.35)" stroke-width="0.8"/>
<line x1="58.3" y1="514.57" x2="353.8" y2="514.57" stroke="rgba(200,200,200,0.35)" stroke-width="0.8"/>
<line x1="58.3" y1="519.57" x2="353.8" y2="519.57" stroke="rgba(200,200,200,0.35)" stroke-width="0.8"/>
<line x1="58.3" y1="524.58" x2="353.8" y2="524.58" stroke="rgba(200,200,200,0.35)" stroke-width="0.8"/>
<line x1="58.3" y1="529.58" x2="353.8" y2="529.58" stroke="rgba(200,200,200,0.35)" stroke-width="0.8"/>
<line x1="58.3" y1="534.59" x2="353.8" y2="534.59" stroke="rgba(200,200,200,0.35)" stroke-width="0.8"/>
<line x1="58.3" y1="539.59" x2="353.8" y2="539.59" stroke="rgba(200,200,200,0.35)" stroke-width="0.8"/>
<line x1="58.3" y1="544.59" x2="353.8" y2="544.59" stroke="rgba(200,200,200,0.35)" stroke-width="0.8"/>
<line x1="58.3" y1="549.6" x2="353.8" y2="549.6" stroke="rgba(200,200,200,0.35)" stroke-width="0.8"/>
<line x1="87.87" y1="419.5" x2="87.87" y2="554.6" stroke="#d6d6d6" stroke-width="1"/>
<line x1="117.44" y1="419.5" x2="117.44" y2="554.6" stroke="#777" stroke-width="1.0"/>
<line x1="147.01" y1="419.5" x2="147.01" y2="554.6" stroke="#d6d6d6" stroke-width="1"/>
<line x1="176.58" y1="419.5" x2="176.58" y2="554.6" stroke="#777" stroke-width="1.0"/>
<line x1="206.15" y1="419.5" x2="206.15" y2="554.6" stroke="#d6d6d6" stroke-width="1"/>
<line x1="235.72" y1="419.5" x2="235.72" y2="554.6" stroke="#777" stroke-width="1.0"/>
<line x1="265.29" y1="419.5" x2="265.29" y2="554.6" stroke="#d6d6d6" stroke-width="1"/>
<line x1="294.86" y1="419.5" x2="294.86" y2="554.6" stroke="#777" stroke-width="1.0"/>
<line x1="324.43" y1="419.5" x2="324.43" y2="554.6" stroke="#d6d6d6" stroke-width="1"/>
<rect x="161.85" y="424.65" width="10.82" height="4.7" fill="none" stroke="#4a4a4a" stroke-width="1.3" rx="0.6"/>
<rect x="206.8" y="434.66" width="10.53" height="4.7" fill="none" stroke="#4a4a4a" stroke-width="1.3" rx="0.6"/>
<rect x="161.85" y="444.67" width="10.82" height="9.71" fill="none" stroke="#4a4a4a" stroke-width="1.3" rx="0.6"/>
<rect x="161.85" y="464.68" width="10.82" height="9.71" fill="none" stroke="#4a4a4a" stroke-width="1.3" rx="0.6"/>
<rect x="233.12" y="469.69" width="10.82" height="4.7" fill="none" stroke="#4a4a4a" stroke-width="1.3" rx="0.6"/>
<rect x="117.5" y="479.69" width="10.82" height="4.7" fill="none" stroke="#4a4a4a" stroke-width="1.3" rx="0.6"/>
<rect x="135.83" y="479.69" width="10.53" height="4.7" fill="none" stroke="#4a4a4a" stroke-width="1.3" rx="0.6"/>
<rect x="161.85" y="489.7" width="10.82" height="4.7" fill="none" stroke="#4a4a4a" stroke-width="1.3" rx="0.6"/>
<rect x="233.12" y="489.7" width="10.82" height="9.71" fill="none" stroke="#4a4a4a" stroke-width="1.3" rx="0.6"/>
<rect x="117.5" y="499.71" width="10.82" height="9.71" fill="none" stroke="#4a4a4a" stroke-width="1.3" rx="0.6"/>
<rect x="135.83" y="499.71" width="10.53" height="9.71" fill="none" stroke="#4a4a4a" stroke-width="1.3" rx="0.6"/>
<rect x="206.8" y="444.67" width="10.53" height="74.76" fill="none" stroke="#4a4a4a" stroke-width="1.3" rx="0.6"/>
<rect x="233.12" y="509.72" width="10.82" height="9.71" fill="none" stroke="#4a4a4a" stroke-width="1.3" rx="0.6"/>
<rect x="117.5" y="524.73" width="10.82" height="4.7" fill="none" stroke="#4a4a4a" stroke-width="1.3" rx="0.6"/>
<rect x="206.8" y="524.73" width="10.53" height="19.71" fill="none" stroke="#4a4a4a" stroke-width="1.3" rx="0.6"/>
<line x1="58.3" y1="419.5" x2="58.3" y2="554.6" stroke="#555" stroke-width="1.2"/>
<text x="57.5" y="423.5" font-size="4.4" font-weight="bold" text-anchor="end" fill="#333">Fp1</text>
<text x="57.5" y="428.51" font-size="4.4" font-weight="bold" text-anchor="end" fill="#333">Fp2</text>
<text x="57.5" y="433.51" font-size="4.4" font-weight="bold" text-anchor="end" fill="#333">F7</text>
<text x="57.5" y="438.51" font-size="4.4" font-weight="bold" text-anchor="end" fill="#333">F3</text>
<text x="57.5" y="443.52" font-size="4.4" font-weight="bold" text-anchor="end" fill="#333">Fz</text>
<text x="57.5" y="448.52" font-size="4.4" font-weight="bold" text-anchor="end" fill="#333">F4</text>
<text x="57.5" y="453.52" font-size="4.4" font-weight="bold" text-anchor="end" fill="#333">F8</text>
<text x="57.5" y="458.53" font-size="4.4" font-weight="bold" text-anchor="end" fill="#333">FC5</text>
<text x="57.5" y="463.53" font-size="4.4" font-weight="bold" text-anchor="end" fill="#333">FC1</text>
<text x="57.5" y="468.54" font-size="4.4" font-weight="bold" text-anchor="end" fill="#333">FC2</text>
<text x="57.5" y="473.54" font-size="4.4" font-weight="bold" text-anchor="end" fill="#333">FC6</text>
<text x="57.5" y="478.54" font-size="4.4" font-weight="bold" text-anchor="end" fill="#333">T7</text>
<text x="57.5" y="483.55" font-size="4.4" font-weight="bold" text-anchor="end" fill="#333">C3</text>
<text x="57.5" y="488.55" font-size="4.4" font-weight="bold" text-anchor="end" fill="#333">Cz</text>
<text x="57.5" y="493.55" font-size="4.4" font-weight="bold" text-anchor="end" fill="#333">C4</text>
<text x="57.5" y="498.56" font-size="4.4" font-weight="bold" text-anchor="end" fill="#333">T8</text>
<text x="57.5" y="503.56" font-size="4.4" font-weight="bold" text-anchor="end" fill="#333">CP5</text>
<text x="57.5" y="508.56" font-size="4.4" font-weight="bold" text-anchor="end" fill="#333">CP1</text>
<text x="57.5" y="513.57" font-size="4.4" font-weight="bold" text-anchor="end" fill="#333">CP2</text>
<text x="57.5" y="518.57" font-size="4.4" font-weight="bold" text-anchor="end" fill="#333">CP6</text>
<text x="57.5" y="523.58" font-size="4.4" font-weight="bold" text-anchor="end" fill="#333">P7</text>
<text x="57.5" y="528.58" font-size="4.4" font-weight="bold" text-anchor="end" fill="#333">P3</text>
<text x="57.5" y="533.58" font-size="4.4" font-weight="bold" text-anchor="end" fill="#333">Pz</text>
<text x="57.5" y="538.59" font-size="4.4" font-weight="bold" text-anchor="end" fill="#333">P4</text>
<text x="57.5" y="543.59" font-size="4.4" font-weight="bold" text-anchor="end" fill="#333">P8</text>
<text x="57.5" y="548.59" font-size="4.4" font-weight="bold" text-anchor="end" fill="#333">O1</text>
<text x="57.5" y="553.6" font-size="4.4" font-weight="bold" text-anchor="end" fill="#333">O2</text>
<rect x="49.6" y="419.5" width="304.2" height="135.1" fill="none" stroke="#858585" stroke-width="1.4" rx="1.0"/>
<text transform="translate(358.33 0) scale(0.925 1)" x="0" y="410.4" font-size="22.05" fill="#111">ERP</text>
<text transform="translate(400.62 0) scale(0.955 1)" x="0" y="415" font-size="14.4" fill="#3a3a3a">comp</text>
<text transform="translate(440.25 0) scale(0.955 1)" x="0" y="409.4" font-size="17.32" fill="#222">×</text>
<text transform="translate(457.33 0) scale(0.925 1)" x="0" y="410.4" font-size="22.05" fill="#111">No</text>
<text transform="translate(483.09 0) scale(0.955 1)" x="0" y="415" font-size="14.4" fill="#3a3a3a">noise</text>
<text transform="translate(521.14 0) scale(0.925 1)" x="0" y="410.4" font-size="22.05" fill="#111">d´</text>
<rect x="360.8" y="419.4" width="303.5" height="135.6" fill="#fff"/>
<line x1="360.8" y1="424.42" x2="664.3" y2="424.42" stroke="#ededed" stroke-width="0.8"/>
<line x1="360.8" y1="429.44" x2="664.3" y2="429.44" stroke="#ededed" stroke-width="0.8"/>
<line x1="360.8" y1="434.47" x2="664.3" y2="434.47" stroke="#ededed" stroke-width="0.8"/>
<line x1="360.8" y1="439.49" x2="664.3" y2="439.49" stroke="#ededed" stroke-width="0.8"/>
<line x1="360.8" y1="444.51" x2="664.3" y2="444.51" stroke="#ededed" stroke-width="0.8"/>
<line x1="360.8" y1="449.53" x2="664.3" y2="449.53" stroke="#ededed" stroke-width="0.8"/>
<line x1="360.8" y1="454.56" x2="664.3" y2="454.56" stroke="#ededed" stroke-width="0.8"/>
<line x1="360.8" y1="459.58" x2="664.3" y2="459.58" stroke="#ededed" stroke-width="0.8"/>
<line x1="360.8" y1="464.6" x2="664.3" y2="464.6" stroke="#ededed" stroke-width="0.8"/>
<line x1="360.8" y1="469.62" x2="664.3" y2="469.62" stroke="#ededed" stroke-width="0.8"/>
<line x1="360.8" y1="474.64" x2="664.3" y2="474.64" stroke="#ededed" stroke-width="0.8"/>
<line x1="360.8" y1="479.67" x2="664.3" y2="479.67" stroke="#ededed" stroke-width="0.8"/>
<line x1="360.8" y1="484.69" x2="664.3" y2="484.69" stroke="#ededed" stroke-width="0.8"/>
<line x1="360.8" y1="489.71" x2="664.3" y2="489.71" stroke="#ededed" stroke-width="0.8"/>
<line x1="360.8" y1="494.73" x2="664.3" y2="494.73" stroke="#ededed" stroke-width="0.8"/>
<line x1="360.8" y1="499.76" x2="664.3" y2="499.76" stroke="#ededed" stroke-width="0.8"/>
<line x1="360.8" y1="504.78" x2="664.3" y2="504.78" stroke="#ededed" stroke-width="0.8"/>
<line x1="360.8" y1="509.8" x2="664.3" y2="509.8" stroke="#ededed" stroke-width="0.8"/>
<line x1="360.8" y1="514.82" x2="664.3" y2="514.82" stroke="#ededed" stroke-width="0.8"/>
<line x1="360.8" y1="519.84" x2="664.3" y2="519.84" stroke="#ededed" stroke-width="0.8"/>
<line x1="360.8" y1="524.87" x2="664.3" y2="524.87" stroke="#ededed" stroke-width="0.8"/>
<line x1="360.8" y1="529.89" x2="664.3" y2="529.89" stroke="#ededed" stroke-width="0.8"/>
<line x1="360.8" y1="534.91" x2="664.3" y2="534.91" stroke="#ededed" stroke-width="0.8"/>
<line x1="360.8" y1="539.93" x2="664.3" y2="539.93" stroke="#ededed" stroke-width="0.8"/>
<line x1="360.8" y1="544.96" x2="664.3" y2="544.96" stroke="#ededed" stroke-width="0.8"/>
<line x1="360.8" y1="549.98" x2="664.3" y2="549.98" stroke="#ededed" stroke-width="0.8"/>
<rect x="370.9" y="419.4" width="1.5" height="5.02" fill="#FCD5B4"/>
<rect x="413.9" y="419.4" width="1.4" height="5.02" fill="#FCD5B4"/>
<rect x="462.6" y="419.4" width="1" height="5.02" fill="#FCD5B4"/>
<rect x="463.6" y="419.4" width="2.3" height="5.02" fill="#F79646"/>
<rect x="465.9" y="419.4" width="1.1" height="5.02" fill="#FCD5B4"/>
<rect x="472.3" y="419.4" width="0.9" height="5.02" fill="#FCD5B4"/>
<rect x="498.3" y="419.4" width="3.5" height="5.02" fill="#FCD5B4"/>
<rect x="507.6" y="419.4" width="14.2" height="5.02" fill="#FCD5B4"/>
<rect x="465.5" y="424.42" width="6.8" height="5.02" fill="#FCD5B4"/>
<rect x="499.3" y="424.42" width="2.5" height="5.02" fill="#FCD5B4"/>
<rect x="508" y="424.42" width="11.3" height="5.02" fill="#FCD5B4"/>
<rect x="372.8" y="429.44" width="1" height="5.02" fill="#FCD5B4"/>
<rect x="373.8" y="429.44" width="3.2" height="5.02" fill="#F79646"/>
<rect x="377" y="429.44" width="0.8" height="5.02" fill="#FCD5B4"/>
<rect x="409.9" y="429.44" width="1.1" height="5.02" fill="#FCD5B4"/>
<rect x="420.1" y="429.44" width="1.6" height="5.02" fill="#FCD5B4"/>
<rect x="375.1" y="434.47" width="1.2" height="5.02" fill="#FCD5B4"/>
<rect x="509.9" y="434.47" width="4.3" height="5.02" fill="#FCD5B4"/>
<rect x="461.2" y="439.49" width="10.1" height="5.02" fill="#FCD5B4"/>
<rect x="508" y="439.49" width="11" height="5.02" fill="#FCD5B4"/>
<rect x="461.2" y="444.51" width="9.7" height="5.02" fill="#FCD5B4"/>
<rect x="499.3" y="444.51" width="1.3" height="5.02" fill="#FCD5B4"/>
<rect x="508" y="444.51" width="1.5" height="5.02" fill="#FCD5B4"/>
<rect x="509.5" y="444.51" width="2.7" height="5.02" fill="#F79646"/>
<rect x="512.2" y="444.51" width="6.8" height="5.02" fill="#FCD5B4"/>
<rect x="461.6" y="449.53" width="3.9" height="5.02" fill="#FCD5B4"/>
<rect x="473.6" y="449.53" width="5.4" height="5.02" fill="#FCD5B4"/>
<rect x="500.3" y="449.53" width="1.5" height="5.02" fill="#FCD5B4"/>
<rect x="509.9" y="449.53" width="3.9" height="5.02" fill="#FCD5B4"/>
<rect x="513.8" y="449.53" width="2.9" height="5.02" fill="#F79646"/>
<rect x="375.1" y="454.56" width="1.6" height="5.02" fill="#FCD5B4"/>
<rect x="409.9" y="454.56" width="1.1" height="5.02" fill="#FCD5B4"/>
<rect x="418.8" y="454.56" width="2.3" height="5.02" fill="#FCD5B4"/>
<rect x="509.5" y="459.58" width="2.7" height="5.02" fill="#FCD5B4"/>
<rect x="462" y="464.6" width="1.6" height="5.02" fill="#FCD5B4"/>
<rect x="509" y="464.6" width="4.8" height="5.02" fill="#FCD5B4"/>
<rect x="460.7" y="469.62" width="10.6" height="5.02" fill="#FCD5B4"/>
<rect x="509" y="469.62" width="5.2" height="5.02" fill="#FCD5B4"/>
<rect x="509.9" y="474.64" width="1.6" height="5.02" fill="#FCD5B4"/>
<rect x="409.9" y="479.67" width="3.5" height="5.02" fill="#FCD5B4"/>
<rect x="509.9" y="484.69" width="1.2" height="5.02" fill="#FCD5B4"/>
<rect x="460.1" y="489.71" width="1.1" height="5.02" fill="#FCD5B4"/>
<rect x="461.2" y="489.71" width="2.4" height="5.02" fill="#F79646"/>
<rect x="463.6" y="489.71" width="5.4" height="5.02" fill="#FCD5B4"/>
<rect x="509.9" y="489.71" width="1.2" height="5.02" fill="#FCD5B4"/>
<rect x="467.8" y="494.73" width="1.2" height="5.02" fill="#FCD5B4"/>
<rect x="411.8" y="499.76" width="1.9" height="5.02" fill="#FCD5B4"/>
<rect x="410.6" y="504.78" width="2.4" height="5.02" fill="#FCD5B4"/>
<rect x="461.2" y="514.82" width="2.4" height="5.02" fill="#FCD5B4"/>
<rect x="400.8" y="519.84" width="1.9" height="5.02" fill="#C5D9F1"/>
<rect x="386.9" y="544.96" width="7.5" height="5.02" fill="#C5D9F1"/>
<rect x="534.3" y="419.4" width="7" height="5.02" fill="#F79646"/>
<rect x="552.7" y="419.4" width="0.9" height="5.02" fill="#FCD5B4"/>
<rect x="559.4" y="419.4" width="5.8" height="5.02" fill="#F79646"/>
<rect x="571" y="419.4" width="6.8" height="5.02" fill="#FCD5B4"/>
<rect x="582.6" y="419.4" width="3.9" height="5.02" fill="#FCD5B4"/>
<rect x="588.4" y="419.4" width="17" height="5.02" fill="#FCD5B4"/>
<rect x="515" y="424.42" width="4.3" height="5.02" fill="#FCD5B4"/>
<rect x="536.4" y="424.42" width="5.4" height="5.02" fill="#F79646"/>
<rect x="552.2" y="424.42" width="6.7" height="5.02" fill="#FCD5B4"/>
<rect x="566.7" y="424.42" width="4.8" height="5.02" fill="#FCD5B4"/>
<rect x="536.7" y="429.44" width="5.3" height="5.02" fill="#F79646"/>
<rect x="559.9" y="429.44" width="2.4" height="5.02" fill="#FCD5B4"/>
<rect x="570" y="429.44" width="2" height="5.02" fill="#FCD5B4"/>
<rect x="577.8" y="429.44" width="16.2" height="5.02" fill="#FCD5B4"/>
<rect x="531.9" y="434.47" width="4.8" height="5.02" fill="#FCD5B4"/>
<rect x="536.7" y="434.47" width="7.3" height="5.02" fill="#F79646"/>
<rect x="548.8" y="434.47" width="7.7" height="5.02" fill="#FCD5B4"/>
<rect x="559.4" y="434.47" width="2.9" height="5.02" fill="#FCD5B4"/>
<rect x="569.1" y="434.47" width="1.9" height="5.02" fill="#FCD5B4"/>
<rect x="576.8" y="434.47" width="1.9" height="5.02" fill="#FCD5B4"/>
<rect x="584.5" y="434.47" width="20.9" height="5.02" fill="#FCD5B4"/>
<rect x="515" y="439.49" width="2.9" height="5.02" fill="#FCD5B4"/>
<rect x="531.9" y="439.49" width="13" height="5.02" fill="#F79646"/>
<rect x="548.8" y="439.49" width="13.5" height="5.02" fill="#FCD5B4"/>
<rect x="569.1" y="439.49" width="1.9" height="5.02" fill="#FCD5B4"/>
<rect x="531.9" y="444.51" width="3.4" height="5.02" fill="#F79646"/>
<rect x="535.3" y="444.51" width="2.9" height="5.02" fill="#FCD5B4"/>
<rect x="538.2" y="444.51" width="5.8" height="5.02" fill="#F79646"/>
<rect x="515" y="449.53" width="1.4" height="5.02" fill="#F79646"/>
<rect x="537.2" y="449.53" width="6.8" height="5.02" fill="#FCD5B4"/>
<rect x="553.6" y="449.53" width="3.9" height="5.02" fill="#FCD5B4"/>
<rect x="569.1" y="449.53" width="1.9" height="5.02" fill="#FCD5B4"/>
<rect x="532.4" y="454.56" width="1.9" height="5.02" fill="#FCD5B4"/>
<rect x="534.3" y="454.56" width="9.2" height="5.02" fill="#F79646"/>
<rect x="548.8" y="454.56" width="1.9" height="5.02" fill="#F79646"/>
<rect x="550.7" y="454.56" width="2.4" height="5.02" fill="#FCD5B4"/>
<rect x="553.1" y="454.56" width="1.7" height="5.02" fill="#F79646"/>
<rect x="559.4" y="454.56" width="4.4" height="5.02" fill="#FCD5B4"/>
<rect x="574.9" y="454.56" width="3.8" height="5.02" fill="#FCD5B4"/>
<rect x="582.6" y="454.56" width="5.8" height="5.02" fill="#FCD5B4"/>
<rect x="532.2" y="459.58" width="13.7" height="5.02" fill="#F79646"/>
<rect x="547.8" y="459.58" width="8.7" height="5.02" fill="#FCD5B4"/>
<rect x="559.4" y="459.58" width="2.9" height="5.02" fill="#FCD5B4"/>
<rect x="532.2" y="464.6" width="5.5" height="5.02" fill="#FCD5B4"/>
<rect x="537.7" y="464.6" width="6.3" height="5.02" fill="#F79646"/>
<rect x="532.2" y="469.62" width="5.5" height="5.02" fill="#FCD5B4"/>
<rect x="537.7" y="469.62" width="6.3" height="5.02" fill="#F79646"/>
<rect x="551.7" y="469.62" width="2.9" height="5.02" fill="#FCD5B4"/>
<rect x="532.9" y="474.64" width="3.3" height="5.02" fill="#FCD5B4"/>
<rect x="536.2" y="474.64" width="7.8" height="5.02" fill="#F79646"/>
<rect x="547.8" y="474.64" width="5.8" height="5.02" fill="#FCD5B4"/>
<rect x="553.6" y="474.64" width="1.2" height="5.02" fill="#F79646"/>
<rect x="554.8" y="474.64" width="6.6" height="5.02" fill="#FCD5B4"/>
<rect x="574.9" y="474.64" width="3.8" height="5.02" fill="#FCD5B4"/>
<rect x="583.6" y="474.64" width="1.9" height="5.02" fill="#FCD5B4"/>
<rect x="532.2" y="479.67" width="12.7" height="5.02" fill="#F79646"/>
<rect x="547.8" y="479.67" width="5.3" height="5.02" fill="#FCD5B4"/>
<rect x="553.1" y="479.67" width="2.5" height="5.02" fill="#F79646"/>
<rect x="555.6" y="479.67" width="7.7" height="5.02" fill="#FCD5B4"/>
<rect x="575.8" y="479.67" width="2" height="5.02" fill="#FCD5B4"/>
<rect x="584.5" y="479.67" width="2" height="5.02" fill="#FCD5B4"/>
<rect x="532.4" y="484.69" width="3.4" height="5.02" fill="#FCD5B4"/>
<rect x="535.8" y="484.69" width="9.2" height="5.02" fill="#F79646"/>
<rect x="532.9" y="489.71" width="4.8" height="5.02" fill="#FCD5B4"/>
<rect x="537.7" y="489.71" width="5.8" height="5.02" fill="#F79646"/>
<rect x="520.3" y="494.73" width="1" height="5.02" fill="#FCD5B4"/>
<rect x="532.9" y="494.73" width="1.4" height="5.02" fill="#FCD5B4"/>
<rect x="539.6" y="494.73" width="2.4" height="5.02" fill="#F79646"/>
<rect x="552.2" y="494.73" width="1.9" height="5.02" fill="#FCD5B4"/>
<rect x="558.9" y="494.73" width="2" height="5.02" fill="#FCD5B4"/>
<rect x="531.9" y="499.76" width="14" height="5.02" fill="#F79646"/>
<rect x="547.4" y="499.76" width="4.8" height="5.02" fill="#FCD5B4"/>
<rect x="552.2" y="499.76" width="3.8" height="5.02" fill="#F79646"/>
<rect x="556" y="499.76" width="6.8" height="5.02" fill="#FCD5B4"/>
<rect x="569.6" y="499.76" width="11.1" height="5.02" fill="#FCD5B4"/>
<rect x="584" y="499.76" width="3" height="5.02" fill="#FCD5B4"/>
<rect x="532.9" y="504.78" width="11.1" height="5.02" fill="#F79646"/>
<rect x="553.6" y="504.78" width="1" height="5.02" fill="#FCD5B4"/>
<rect x="533.3" y="509.8" width="3.9" height="5.02" fill="#FCD5B4"/>
<rect x="537.2" y="509.8" width="6.3" height="5.02" fill="#F79646"/>
<rect x="534.3" y="514.82" width="4.4" height="5.02" fill="#FCD5B4"/>
<rect x="538.7" y="514.82" width="4.3" height="5.02" fill="#F79646"/>
<rect x="539.1" y="519.84" width="2.9" height="5.02" fill="#F79646"/>
<rect x="570" y="519.84" width="2" height="5.02" fill="#FCD5B4"/>
<rect x="573.9" y="519.84" width="4.8" height="5.02" fill="#FCD5B4"/>
<rect x="531.4" y="524.87" width="4.8" height="5.02" fill="#FCD5B4"/>
<rect x="536.2" y="524.87" width="7.3" height="5.02" fill="#F79646"/>
<rect x="576.3" y="524.87" width="1.3" height="5.02" fill="#FCD5B4"/>
<rect x="534.8" y="529.89" width="3.4" height="5.02" fill="#FCD5B4"/>
<rect x="538.2" y="529.89" width="4.3" height="5.02" fill="#F79646"/>
<rect x="542.5" y="529.89" width="1.5" height="5.02" fill="#FCD5B4"/>
<rect x="536.2" y="534.91" width="2.9" height="5.02" fill="#FCD5B4"/>
<rect x="539.1" y="534.91" width="2.5" height="5.02" fill="#F79646"/>
<rect x="541.6" y="534.91" width="1.9" height="5.02" fill="#FCD5B4"/>
<rect x="538.7" y="539.93" width="3.3" height="5.02" fill="#FCD5B4"/>
<rect x="608.3" y="419.4" width="2" height="5.02" fill="#F79646"/>
<rect x="610.3" y="419.4" width="6.4" height="5.02" fill="#FCD5B4"/>
<rect x="625.2" y="419.4" width="2" height="5.02" fill="#FCD5B4"/>
<rect x="634.1" y="419.4" width="4.9" height="5.02" fill="#FCD5B4"/>
<rect x="652.4" y="419.4" width="4" height="5.02" fill="#FCD5B4"/>
<rect x="660.9" y="419.4" width="2.6" height="5.02" fill="#F79646"/>
<rect x="593" y="424.42" width="5.9" height="5.02" fill="#FCD5B4"/>
<rect x="603.9" y="424.42" width="1.9" height="5.02" fill="#FCD5B4"/>
<rect x="605.8" y="424.42" width="1" height="5.02" fill="#F79646"/>
<rect x="606.8" y="424.42" width="3" height="5.02" fill="#FCD5B4"/>
<rect x="612.3" y="424.42" width="2.7" height="5.02" fill="#FCD5B4"/>
<rect x="653.4" y="424.42" width="3" height="5.02" fill="#F79646"/>
<rect x="659.4" y="424.42" width="1.9" height="5.02" fill="#FCD5B4"/>
<rect x="595.9" y="429.44" width="5" height="5.02" fill="#FCD5B4"/>
<rect x="606.3" y="429.44" width="1.5" height="5.02" fill="#F79646"/>
<rect x="620.7" y="429.44" width="1" height="5.02" fill="#FCD5B4"/>
<rect x="632.1" y="429.44" width="2.5" height="5.02" fill="#FCD5B4"/>
<rect x="653.4" y="429.44" width="2" height="5.02" fill="#FCD5B4"/>
<rect x="660.4" y="429.44" width="1.9" height="5.02" fill="#FCD5B4"/>
<rect x="606.3" y="434.47" width="3.5" height="5.02" fill="#FCD5B4"/>
<rect x="614.3" y="434.47" width="1.5" height="5.02" fill="#FCD5B4"/>
<rect x="653.4" y="434.47" width="3" height="5.02" fill="#FCD5B4"/>
<rect x="659.4" y="434.47" width="1.9" height="5.02" fill="#FCD5B4"/>
<rect x="597.4" y="439.49" width="9.4" height="5.02" fill="#FCD5B4"/>
<rect x="606.8" y="439.49" width="1.5" height="5.02" fill="#F79646"/>
<rect x="608.3" y="439.49" width="7" height="5.02" fill="#FCD5B4"/>
<rect x="652.9" y="439.49" width="8.4" height="5.02" fill="#FCD5B4"/>
<rect x="591.5" y="444.51" width="1.5" height="5.02" fill="#FCD5B4"/>
<rect x="598.4" y="444.51" width="2.5" height="5.02" fill="#FCD5B4"/>
<rect x="606.8" y="444.51" width="4.5" height="5.02" fill="#FCD5B4"/>
<rect x="654.4" y="444.51" width="5.5" height="5.02" fill="#F79646"/>
<rect x="598.4" y="449.53" width="1.5" height="5.02" fill="#F79646"/>
<rect x="599.9" y="449.53" width="5" height="5.02" fill="#FCD5B4"/>
<rect x="608.3" y="449.53" width="3" height="5.02" fill="#FCD5B4"/>
<rect x="629.1" y="449.53" width="2.5" height="5.02" fill="#FCD5B4"/>
<rect x="639" y="449.53" width="6" height="5.02" fill="#FCD5B4"/>
<rect x="651.9" y="449.53" width="7.5" height="5.02" fill="#F79646"/>
<rect x="591" y="454.56" width="3.5" height="5.02" fill="#FCD5B4"/>
<rect x="598.4" y="454.56" width="7" height="5.02" fill="#FCD5B4"/>
<rect x="606.8" y="454.56" width="2" height="5.02" fill="#FCD5B4"/>
<rect x="613.3" y="454.56" width="2.5" height="5.02" fill="#FCD5B4"/>
<rect x="621.2" y="454.56" width="1.5" height="5.02" fill="#FCD5B4"/>
<rect x="632.6" y="454.56" width="2.5" height="5.02" fill="#FCD5B4"/>
<rect x="653.4" y="454.56" width="2.5" height="5.02" fill="#FCD5B4"/>
<rect x="598.4" y="459.58" width="6.5" height="5.02" fill="#FCD5B4"/>
<rect x="606.8" y="459.58" width="3.5" height="5.02" fill="#FCD5B4"/>
<rect x="652.9" y="459.58" width="8.4" height="5.02" fill="#FCD5B4"/>
<rect x="606.3" y="464.6" width="4" height="5.02" fill="#FCD5B4"/>
<rect x="653.9" y="464.6" width="2" height="5.02" fill="#FCD5B4"/>
<rect x="655.9" y="464.6" width="2.1" height="5.02" fill="#F79646"/>
<rect x="658" y="464.6" width="3.3" height="5.02" fill="#FCD5B4"/>
<rect x="598.9" y="469.62" width="1.8" height="5.02" fill="#FCD5B4"/>
<rect x="606.8" y="469.62" width="3" height="5.02" fill="#FCD5B4"/>
<rect x="634.1" y="469.62" width="1" height="5.02" fill="#FCD5B4"/>
<rect x="653.4" y="469.62" width="6" height="5.02" fill="#F79646"/>
<rect x="591" y="474.64" width="3" height="5.02" fill="#FCD5B4"/>
<rect x="597.9" y="474.64" width="2.5" height="5.02" fill="#F79646"/>
<rect x="600.4" y="474.64" width="4.5" height="5.02" fill="#FCD5B4"/>
<rect x="606.3" y="474.64" width="4" height="5.02" fill="#F79646"/>
<rect x="613.3" y="474.64" width="8.4" height="5.02" fill="#FCD5B4"/>
<rect x="632.1" y="474.64" width="1.5" height="5.02" fill="#FCD5B4"/>
<rect x="633.6" y="474.64" width="2.5" height="5.02" fill="#F79646"/>
<rect x="639" y="474.64" width="5" height="5.02" fill="#FCD5B4"/>
<rect x="599.4" y="479.67" width="2" height="5.02" fill="#FCD5B4"/>
<rect x="604.4" y="479.67" width="5.9" height="5.02" fill="#FCD5B4"/>
<rect x="653.4" y="479.67" width="3.5" height="5.02" fill="#FCD5B4"/>
<rect x="653.2" y="484.69" width="5.7" height="5.02" fill="#FCD5B4"/>
<rect x="653.9" y="489.71" width="3.7" height="5.02" fill="#FCD5B4"/>
<rect x="606.3" y="494.73" width="1" height="5.02" fill="#FCD5B4"/>
<rect x="653.9" y="494.73" width="3" height="5.02" fill="#FCD5B4"/>
<rect x="591.2" y="499.76" width="3.3" height="5.02" fill="#FCD5B4"/>
<rect x="597.4" y="499.76" width="8.4" height="5.02" fill="#FCD5B4"/>
<rect x="606.6" y="499.76" width="3.2" height="5.02" fill="#F79646"/>
<rect x="609.8" y="499.76" width="6" height="5.02" fill="#FCD5B4"/>
<rect x="619.7" y="499.76" width="7" height="5.02" fill="#FCD5B4"/>
<rect x="634.1" y="499.76" width="2" height="5.02" fill="#FCD5B4"/>
<rect x="638.6" y="499.76" width="5.4" height="5.02" fill="#FCD5B4"/>
<rect x="606.6" y="504.78" width="1.7" height="5.02" fill="#FCD5B4"/>
<rect x="653.9" y="504.78" width="2.7" height="5.02" fill="#FCD5B4"/>
<rect x="591.2" y="519.84" width="3.3" height="5.02" fill="#FCD5B4"/>
<rect x="598.4" y="519.84" width="1" height="5.02" fill="#FCD5B4"/>
<rect x="606.6" y="519.84" width="6.2" height="5.02" fill="#FCD5B4"/>
<rect x="606.6" y="524.87" width="6.7" height="5.02" fill="#FCD5B4"/>
<rect x="643.5" y="524.87" width="1.2" height="5.02" fill="#FCD5B4"/>
<rect x="640" y="539.93" width="1" height="5.02" fill="#FCD5B4"/>
<line x1="369.6" y1="424.42" x2="664.3" y2="424.42" stroke="rgba(200,200,200,0.35)" stroke-width="0.8"/>
<line x1="369.6" y1="429.44" x2="664.3" y2="429.44" stroke="rgba(200,200,200,0.35)" stroke-width="0.8"/>
<line x1="369.6" y1="434.47" x2="664.3" y2="434.47" stroke="rgba(200,200,200,0.35)" stroke-width="0.8"/>
<line x1="369.6" y1="439.49" x2="664.3" y2="439.49" stroke="rgba(200,200,200,0.35)" stroke-width="0.8"/>
<line x1="369.6" y1="444.51" x2="664.3" y2="444.51" stroke="rgba(200,200,200,0.35)" stroke-width="0.8"/>
<line x1="369.6" y1="449.53" x2="664.3" y2="449.53" stroke="rgba(200,200,200,0.35)" stroke-width="0.8"/>
<line x1="369.6" y1="454.56" x2="664.3" y2="454.56" stroke="rgba(200,200,200,0.35)" stroke-width="0.8"/>
<line x1="369.6" y1="459.58" x2="664.3" y2="459.58" stroke="rgba(200,200,200,0.35)" stroke-width="0.8"/>
<line x1="369.6" y1="464.6" x2="664.3" y2="464.6" stroke="rgba(200,200,200,0.35)" stroke-width="0.8"/>
<line x1="369.6" y1="469.62" x2="664.3" y2="469.62" stroke="rgba(200,200,200,0.35)" stroke-width="0.8"/>
<line x1="369.6" y1="474.64" x2="664.3" y2="474.64" stroke="rgba(200,200,200,0.35)" stroke-width="0.8"/>
<line x1="369.6" y1="479.67" x2="664.3" y2="479.67" stroke="rgba(200,200,200,0.35)" stroke-width="0.8"/>
<line x1="369.6" y1="484.69" x2="664.3" y2="484.69" stroke="rgba(200,200,200,0.35)" stroke-width="0.8"/>
<line x1="369.6" y1="489.71" x2="664.3" y2="489.71" stroke="rgba(200,200,200,0.35)" stroke-width="0.8"/>
<line x1="369.6" y1="494.73" x2="664.3" y2="494.73" stroke="rgba(200,200,200,0.35)" stroke-width="0.8"/>
<line x1="369.6" y1="499.76" x2="664.3" y2="499.76" stroke="rgba(200,200,200,0.35)" stroke-width="0.8"/>
<line x1="369.6" y1="504.78" x2="664.3" y2="504.78" stroke="rgba(200,200,200,0.35)" stroke-width="0.8"/>
<line x1="369.6" y1="509.8" x2="664.3" y2="509.8" stroke="rgba(200,200,200,0.35)" stroke-width="0.8"/>
<line x1="369.6" y1="514.82" x2="664.3" y2="514.82" stroke="rgba(200,200,200,0.35)" stroke-width="0.8"/>
<line x1="369.6" y1="519.84" x2="664.3" y2="519.84" stroke="rgba(200,200,200,0.35)" stroke-width="0.8"/>
<line x1="369.6" y1="524.87" x2="664.3" y2="524.87" stroke="rgba(200,200,200,0.35)" stroke-width="0.8"/>
<line x1="369.6" y1="529.89" x2="664.3" y2="529.89" stroke="rgba(200,200,200,0.35)" stroke-width="0.8"/>
<line x1="369.6" y1="534.91" x2="664.3" y2="534.91" stroke="rgba(200,200,200,0.35)" stroke-width="0.8"/>
<line x1="369.6" y1="539.93" x2="664.3" y2="539.93" stroke="rgba(200,200,200,0.35)" stroke-width="0.8"/>
<line x1="369.6" y1="544.96" x2="664.3" y2="544.96" stroke="rgba(200,200,200,0.35)" stroke-width="0.8"/>
<line x1="369.6" y1="549.98" x2="664.3" y2="549.98" stroke="rgba(200,200,200,0.35)" stroke-width="0.8"/>
<line x1="398.91" y1="419.4" x2="398.91" y2="555" stroke="#d6d6d6" stroke-width="1"/>
<line x1="428.48" y1="419.4" x2="428.48" y2="555" stroke="#777" stroke-width="1.0"/>
<line x1="458.05" y1="419.4" x2="458.05" y2="555" stroke="#d6d6d6" stroke-width="1"/>
<line x1="487.62" y1="419.4" x2="487.62" y2="555" stroke="#777" stroke-width="1.0"/>
<line x1="517.19" y1="419.4" x2="517.19" y2="555" stroke="#d6d6d6" stroke-width="1"/>
<line x1="546.76" y1="419.4" x2="546.76" y2="555" stroke="#777" stroke-width="1.0"/>
<line x1="576.33" y1="419.4" x2="576.33" y2="555" stroke="#d6d6d6" stroke-width="1"/>
<line x1="605.9" y1="419.4" x2="605.9" y2="555" stroke="#777" stroke-width="1.0"/>
<line x1="635.47" y1="419.4" x2="635.47" y2="555" stroke="#d6d6d6" stroke-width="1"/>
<rect x="472.89" y="424.57" width="10.82" height="4.72" fill="none" stroke="#4a4a4a" stroke-width="1.3" rx="0.6"/>
<rect x="517.84" y="434.62" width="10.53" height="4.72" fill="none" stroke="#4a4a4a" stroke-width="1.3" rx="0.6"/>
<rect x="472.89" y="444.66" width="10.82" height="9.74" fill="none" stroke="#4a4a4a" stroke-width="1.3" rx="0.6"/>
<rect x="472.89" y="464.75" width="10.82" height="9.74" fill="none" stroke="#4a4a4a" stroke-width="1.3" rx="0.6"/>
<rect x="544.16" y="469.77" width="10.82" height="4.72" fill="none" stroke="#4a4a4a" stroke-width="1.3" rx="0.6"/>
<rect x="428.54" y="479.82" width="10.82" height="4.72" fill="none" stroke="#4a4a4a" stroke-width="1.3" rx="0.6"/>
<rect x="446.87" y="479.82" width="10.53" height="4.72" fill="none" stroke="#4a4a4a" stroke-width="1.3" rx="0.6"/>
<rect x="472.89" y="489.86" width="10.82" height="4.72" fill="none" stroke="#4a4a4a" stroke-width="1.3" rx="0.6"/>
<rect x="544.16" y="489.86" width="10.82" height="9.74" fill="none" stroke="#4a4a4a" stroke-width="1.3" rx="0.6"/>
<rect x="428.54" y="499.91" width="10.82" height="9.74" fill="none" stroke="#4a4a4a" stroke-width="1.3" rx="0.6"/>
<rect x="446.87" y="499.91" width="10.53" height="9.74" fill="none" stroke="#4a4a4a" stroke-width="1.3" rx="0.6"/>
<rect x="517.84" y="444.66" width="10.53" height="75.03" fill="none" stroke="#4a4a4a" stroke-width="1.3" rx="0.6"/>
<rect x="544.16" y="509.95" width="10.82" height="9.74" fill="none" stroke="#4a4a4a" stroke-width="1.3" rx="0.6"/>
<rect x="428.54" y="525.02" width="10.82" height="4.72" fill="none" stroke="#4a4a4a" stroke-width="1.3" rx="0.6"/>
<rect x="517.84" y="525.02" width="10.53" height="19.79" fill="none" stroke="#4a4a4a" stroke-width="1.3" rx="0.6"/>
<line x1="369.6" y1="419.4" x2="369.6" y2="555" stroke="#555" stroke-width="1.2"/>
<text x="368.8" y="423.41" font-size="4.4" font-weight="bold" text-anchor="end" fill="#333">Fp1</text>
<text x="368.8" y="428.43" font-size="4.4" font-weight="bold" text-anchor="end" fill="#333">Fp2</text>
<text x="368.8" y="433.46" font-size="4.4" font-weight="bold" text-anchor="end" fill="#333">F7</text>
<text x="368.8" y="438.48" font-size="4.4" font-weight="bold" text-anchor="end" fill="#333">F3</text>
<text x="368.8" y="443.5" font-size="4.4" font-weight="bold" text-anchor="end" fill="#333">Fz</text>
<text x="368.8" y="448.52" font-size="4.4" font-weight="bold" text-anchor="end" fill="#333">F4</text>
<text x="368.8" y="453.54" font-size="4.4" font-weight="bold" text-anchor="end" fill="#333">F8</text>
<text x="368.8" y="458.57" font-size="4.4" font-weight="bold" text-anchor="end" fill="#333">FC5</text>
<text x="368.8" y="463.59" font-size="4.4" font-weight="bold" text-anchor="end" fill="#333">FC1</text>
<text x="368.8" y="468.61" font-size="4.4" font-weight="bold" text-anchor="end" fill="#333">FC2</text>
<text x="368.8" y="473.63" font-size="4.4" font-weight="bold" text-anchor="end" fill="#333">FC6</text>
<text x="368.8" y="478.66" font-size="4.4" font-weight="bold" text-anchor="end" fill="#333">T7</text>
<text x="368.8" y="483.68" font-size="4.4" font-weight="bold" text-anchor="end" fill="#333">C3</text>
<text x="368.8" y="488.7" font-size="4.4" font-weight="bold" text-anchor="end" fill="#333">Cz</text>
<text x="368.8" y="493.72" font-size="4.4" font-weight="bold" text-anchor="end" fill="#333">C4</text>
<text x="368.8" y="498.74" font-size="4.4" font-weight="bold" text-anchor="end" fill="#333">T8</text>
<text x="368.8" y="503.77" font-size="4.4" font-weight="bold" text-anchor="end" fill="#333">CP5</text>
<text x="368.8" y="508.79" font-size="4.4" font-weight="bold" text-anchor="end" fill="#333">CP1</text>
<text x="368.8" y="513.81" font-size="4.4" font-weight="bold" text-anchor="end" fill="#333">CP2</text>
<text x="368.8" y="518.83" font-size="4.4" font-weight="bold" text-anchor="end" fill="#333">CP6</text>
<text x="368.8" y="523.86" font-size="4.4" font-weight="bold" text-anchor="end" fill="#333">P7</text>
<text x="368.8" y="528.88" font-size="4.4" font-weight="bold" text-anchor="end" fill="#333">P3</text>
<text x="368.8" y="533.9" font-size="4.4" font-weight="bold" text-anchor="end" fill="#333">Pz</text>
<text x="368.8" y="538.92" font-size="4.4" font-weight="bold" text-anchor="end" fill="#333">P4</text>
<text x="368.8" y="543.94" font-size="4.4" font-weight="bold" text-anchor="end" fill="#333">P8</text>
<text x="368.8" y="548.97" font-size="4.4" font-weight="bold" text-anchor="end" fill="#333">O1</text>
<text x="368.8" y="553.99" font-size="4.4" font-weight="bold" text-anchor="end" fill="#333">O2</text>
<rect x="360.8" y="419.4" width="303.5" height="135.6" fill="none" stroke="#858585" stroke-width="1.4" rx="1.0"/>
<text transform="translate(48.13 0) scale(0.925 1)" x="0" y="599.8" font-size="22.05" fill="#111">ERP</text>
<text transform="translate(90.42 0) scale(0.955 1)" x="0" y="604.4" font-size="14.4" fill="#3a3a3a">comp</text>
<text transform="translate(130.05 0) scale(0.955 1)" x="0" y="598.8" font-size="17.32" fill="#222">×</text>
<text transform="translate(147.56 0) scale(0.925 1)" x="0" y="599.8" font-size="22.05" fill="#111">A</text>
<text transform="translate(161.19 0) scale(0.955 1)" x="0" y="604.4" font-size="14.4" fill="#3a3a3a">noise</text>
<text transform="translate(197.13 0) scale(0.925 1)" x="0" y="599.8" font-size="22.05" fill="#111">c</text>
<rect x="49.4" y="608.4" width="304.5" height="135.6" fill="#fff"/>
<line x1="49.4" y1="613.42" x2="353.9" y2="613.42" stroke="#ededed" stroke-width="0.8"/>
<line x1="49.4" y1="618.44" x2="353.9" y2="618.44" stroke="#ededed" stroke-width="0.8"/>
<line x1="49.4" y1="623.47" x2="353.9" y2="623.47" stroke="#ededed" stroke-width="0.8"/>
<line x1="49.4" y1="628.49" x2="353.9" y2="628.49" stroke="#ededed" stroke-width="0.8"/>
<line x1="49.4" y1="633.51" x2="353.9" y2="633.51" stroke="#ededed" stroke-width="0.8"/>
<line x1="49.4" y1="638.53" x2="353.9" y2="638.53" stroke="#ededed" stroke-width="0.8"/>
<line x1="49.4" y1="643.56" x2="353.9" y2="643.56" stroke="#ededed" stroke-width="0.8"/>
<line x1="49.4" y1="648.58" x2="353.9" y2="648.58" stroke="#ededed" stroke-width="0.8"/>
<line x1="49.4" y1="653.6" x2="353.9" y2="653.6" stroke="#ededed" stroke-width="0.8"/>
<line x1="49.4" y1="658.62" x2="353.9" y2="658.62" stroke="#ededed" stroke-width="0.8"/>
<line x1="49.4" y1="663.64" x2="353.9" y2="663.64" stroke="#ededed" stroke-width="0.8"/>
<line x1="49.4" y1="668.67" x2="353.9" y2="668.67" stroke="#ededed" stroke-width="0.8"/>
<line x1="49.4" y1="673.69" x2="353.9" y2="673.69" stroke="#ededed" stroke-width="0.8"/>
<line x1="49.4" y1="678.71" x2="353.9" y2="678.71" stroke="#ededed" stroke-width="0.8"/>
<line x1="49.4" y1="683.73" x2="353.9" y2="683.73" stroke="#ededed" stroke-width="0.8"/>
<line x1="49.4" y1="688.76" x2="353.9" y2="688.76" stroke="#ededed" stroke-width="0.8"/>
<line x1="49.4" y1="693.78" x2="353.9" y2="693.78" stroke="#ededed" stroke-width="0.8"/>
<line x1="49.4" y1="698.8" x2="353.9" y2="698.8" stroke="#ededed" stroke-width="0.8"/>
<line x1="49.4" y1="703.82" x2="353.9" y2="703.82" stroke="#ededed" stroke-width="0.8"/>
<line x1="49.4" y1="708.84" x2="353.9" y2="708.84" stroke="#ededed" stroke-width="0.8"/>
<line x1="49.4" y1="713.87" x2="353.9" y2="713.87" stroke="#ededed" stroke-width="0.8"/>
<line x1="49.4" y1="718.89" x2="353.9" y2="718.89" stroke="#ededed" stroke-width="0.8"/>
<line x1="49.4" y1="723.91" x2="353.9" y2="723.91" stroke="#ededed" stroke-width="0.8"/>
<line x1="49.4" y1="728.93" x2="353.9" y2="728.93" stroke="#ededed" stroke-width="0.8"/>
<line x1="49.4" y1="733.96" x2="353.9" y2="733.96" stroke="#ededed" stroke-width="0.8"/>
<line x1="49.4" y1="738.98" x2="353.9" y2="738.98" stroke="#ededed" stroke-width="0.8"/>
<rect x="63.7" y="613.42" width="1" height="5.02" fill="#C5D9F1"/>
<rect x="200.8" y="613.42" width="1" height="5.02" fill="#C5D9F1"/>
<rect x="63.3" y="618.44" width="3.3" height="5.02" fill="#C5D9F1"/>
<rect x="107.2" y="618.44" width="1.3" height="5.02" fill="#C5D9F1"/>
<rect x="73.8" y="638.53" width="2.5" height="5.02" fill="#C5D9F1"/>
<rect x="160.3" y="658.62" width="1" height="5.02" fill="#C5D9F1"/>
<rect x="153.5" y="678.71" width="2.9" height="5.02" fill="#C5D9F1"/>
<rect x="64.1" y="683.73" width="3.5" height="5.02" fill="#C5D9F1"/>
<rect x="154.9" y="683.73" width="1.1" height="5.02" fill="#C5D9F1"/>
<rect x="88.6" y="688.76" width="0.8" height="5.02" fill="#FCD5B4"/>
<rect x="89.2" y="688.76" width="3.1" height="5.02" fill="#F79646"/>
<rect x="92.3" y="688.76" width="0.8" height="5.02" fill="#FCD5B4"/>
<rect x="154.6" y="693.78" width="1.2" height="5.02" fill="#C5D9F1"/>
<rect x="153.5" y="698.8" width="2.9" height="10.04" fill="#C5D9F1"/>
<rect x="60.2" y="708.84" width="5.1" height="5.02" fill="#F79646"/>
<rect x="88.4" y="708.84" width="3.3" height="5.02" fill="#F79646"/>
<rect x="89.2" y="713.87" width="3.1" height="5.02" fill="#FCD5B4"/>
<rect x="154.9" y="713.87" width="1.1" height="10.04" fill="#C5D9F1"/>
<rect x="119.7" y="723.91" width="4.3" height="5.02" fill="#C5D9F1"/>
<rect x="152.2" y="723.91" width="4.6" height="5.02" fill="#C5D9F1"/>
<rect x="61.4" y="728.93" width="2.3" height="5.02" fill="#F79646"/>
<rect x="119.7" y="728.93" width="2.9" height="5.02" fill="#C5D9F1"/>
<rect x="61.4" y="738.98" width="2.3" height="5.02" fill="#F79646"/>
<rect x="212.1" y="608.4" width="5.4" height="5.02" fill="#C5D9F1"/>
<rect x="224.9" y="608.4" width="3.8" height="5.02" fill="#C5D9F1"/>
<rect x="342.7" y="608.4" width="1.3" height="5.02" fill="#C5D9F1"/>
<rect x="213.7" y="613.42" width="2.3" height="5.02" fill="#C5D9F1"/>
<rect x="244.6" y="613.42" width="0.9" height="5.02" fill="#C5D9F1"/>
<rect x="319.5" y="613.42" width="1.9" height="5.02" fill="#C5D9F1"/>
<rect x="288.6" y="638.53" width="2.3" height="5.02" fill="#C5D9F1"/>
<rect x="319.5" y="638.53" width="1.9" height="5.02" fill="#C5D9F1"/>
<rect x="344" y="638.53" width="1" height="5.02" fill="#C5D9F1"/>
<rect x="235.9" y="663.64" width="2.5" height="5.02" fill="#C5D9F1"/>
<rect x="260" y="663.64" width="2.3" height="5.02" fill="#C5D9F1"/>
<rect x="268.1" y="683.73" width="2.5" height="5.02" fill="#C5D9F1"/>
<rect x="260" y="708.84" width="4.3" height="5.02" fill="#C5D9F1"/>
<line x1="58.2" y1="613.42" x2="353.9" y2="613.42" stroke="rgba(200,200,200,0.35)" stroke-width="0.8"/>
<line x1="58.2" y1="618.44" x2="353.9" y2="618.44" stroke="rgba(200,200,200,0.35)" stroke-width="0.8"/>
<line x1="58.2" y1="623.47" x2="353.9" y2="623.47" stroke="rgba(200,200,200,0.35)" stroke-width="0.8"/>
<line x1="58.2" y1="628.49" x2="353.9" y2="628.49" stroke="rgba(200,200,200,0.35)" stroke-width="0.8"/>
<line x1="58.2" y1="633.51" x2="353.9" y2="633.51" stroke="rgba(200,200,200,0.35)" stroke-width="0.8"/>
<line x1="58.2" y1="638.53" x2="353.9" y2="638.53" stroke="rgba(200,200,200,0.35)" stroke-width="0.8"/>
<line x1="58.2" y1="643.56" x2="353.9" y2="643.56" stroke="rgba(200,200,200,0.35)" stroke-width="0.8"/>
<line x1="58.2" y1="648.58" x2="353.9" y2="648.58" stroke="rgba(200,200,200,0.35)" stroke-width="0.8"/>
<line x1="58.2" y1="653.6" x2="353.9" y2="653.6" stroke="rgba(200,200,200,0.35)" stroke-width="0.8"/>
<line x1="58.2" y1="658.62" x2="353.9" y2="658.62" stroke="rgba(200,200,200,0.35)" stroke-width="0.8"/>
<line x1="58.2" y1="663.64" x2="353.9" y2="663.64" stroke="rgba(200,200,200,0.35)" stroke-width="0.8"/>
<line x1="58.2" y1="668.67" x2="353.9" y2="668.67" stroke="rgba(200,200,200,0.35)" stroke-width="0.8"/>
<line x1="58.2" y1="673.69" x2="353.9" y2="673.69" stroke="rgba(200,200,200,0.35)" stroke-width="0.8"/>
<line x1="58.2" y1="678.71" x2="353.9" y2="678.71" stroke="rgba(200,200,200,0.35)" stroke-width="0.8"/>
<line x1="58.2" y1="683.73" x2="353.9" y2="683.73" stroke="rgba(200,200,200,0.35)" stroke-width="0.8"/>
<line x1="58.2" y1="688.76" x2="353.9" y2="688.76" stroke="rgba(200,200,200,0.35)" stroke-width="0.8"/>
<line x1="58.2" y1="693.78" x2="353.9" y2="693.78" stroke="rgba(200,200,200,0.35)" stroke-width="0.8"/>
<line x1="58.2" y1="698.8" x2="353.9" y2="698.8" stroke="rgba(200,200,200,0.35)" stroke-width="0.8"/>
<line x1="58.2" y1="703.82" x2="353.9" y2="703.82" stroke="rgba(200,200,200,0.35)" stroke-width="0.8"/>
<line x1="58.2" y1="708.84" x2="353.9" y2="708.84" stroke="rgba(200,200,200,0.35)" stroke-width="0.8"/>
<line x1="58.2" y1="713.87" x2="353.9" y2="713.87" stroke="rgba(200,200,200,0.35)" stroke-width="0.8"/>
<line x1="58.2" y1="718.89" x2="353.9" y2="718.89" stroke="rgba(200,200,200,0.35)" stroke-width="0.8"/>
<line x1="58.2" y1="723.91" x2="353.9" y2="723.91" stroke="rgba(200,200,200,0.35)" stroke-width="0.8"/>
<line x1="58.2" y1="728.93" x2="353.9" y2="728.93" stroke="rgba(200,200,200,0.35)" stroke-width="0.8"/>
<line x1="58.2" y1="733.96" x2="353.9" y2="733.96" stroke="rgba(200,200,200,0.35)" stroke-width="0.8"/>
<line x1="58.2" y1="738.98" x2="353.9" y2="738.98" stroke="rgba(200,200,200,0.35)" stroke-width="0.8"/>
<line x1="87.77" y1="608.4" x2="87.77" y2="744" stroke="#d6d6d6" stroke-width="1"/>
<line x1="117.34" y1="608.4" x2="117.34" y2="744" stroke="#777" stroke-width="1.0"/>
<line x1="146.91" y1="608.4" x2="146.91" y2="744" stroke="#d6d6d6" stroke-width="1"/>
<line x1="176.48" y1="608.4" x2="176.48" y2="744" stroke="#777" stroke-width="1.0"/>
<line x1="206.05" y1="608.4" x2="206.05" y2="744" stroke="#d6d6d6" stroke-width="1"/>
<line x1="235.62" y1="608.4" x2="235.62" y2="744" stroke="#777" stroke-width="1.0"/>
<line x1="265.19" y1="608.4" x2="265.19" y2="744" stroke="#d6d6d6" stroke-width="1"/>
<line x1="294.76" y1="608.4" x2="294.76" y2="744" stroke="#777" stroke-width="1.0"/>
<line x1="324.33" y1="608.4" x2="324.33" y2="744" stroke="#d6d6d6" stroke-width="1"/>
<rect x="161.75" y="613.57" width="10.82" height="4.72" fill="none" stroke="#4a4a4a" stroke-width="1.3" rx="0.6"/>
<rect x="206.7" y="623.62" width="10.53" height="4.72" fill="none" stroke="#4a4a4a" stroke-width="1.3" rx="0.6"/>
<rect x="161.75" y="633.66" width="10.82" height="9.74" fill="none" stroke="#4a4a4a" stroke-width="1.3" rx="0.6"/>
<rect x="161.75" y="653.75" width="10.82" height="9.74" fill="none" stroke="#4a4a4a" stroke-width="1.3" rx="0.6"/>
<rect x="233.02" y="658.77" width="10.82" height="4.72" fill="none" stroke="#4a4a4a" stroke-width="1.3" rx="0.6"/>
<rect x="117.4" y="668.82" width="10.82" height="4.72" fill="none" stroke="#4a4a4a" stroke-width="1.3" rx="0.6"/>
<rect x="135.73" y="668.82" width="10.53" height="4.72" fill="none" stroke="#4a4a4a" stroke-width="1.3" rx="0.6"/>
<rect x="161.75" y="678.86" width="10.82" height="4.72" fill="none" stroke="#4a4a4a" stroke-width="1.3" rx="0.6"/>
<rect x="233.02" y="678.86" width="10.82" height="9.74" fill="none" stroke="#4a4a4a" stroke-width="1.3" rx="0.6"/>
<rect x="117.4" y="688.91" width="10.82" height="9.74" fill="none" stroke="#4a4a4a" stroke-width="1.3" rx="0.6"/>
<rect x="135.73" y="688.91" width="10.53" height="9.74" fill="none" stroke="#4a4a4a" stroke-width="1.3" rx="0.6"/>
<rect x="206.7" y="633.66" width="10.53" height="75.03" fill="none" stroke="#4a4a4a" stroke-width="1.3" rx="0.6"/>
<rect x="233.02" y="698.95" width="10.82" height="9.74" fill="none" stroke="#4a4a4a" stroke-width="1.3" rx="0.6"/>
<rect x="117.4" y="714.02" width="10.82" height="4.72" fill="none" stroke="#4a4a4a" stroke-width="1.3" rx="0.6"/>
<rect x="206.7" y="714.02" width="10.53" height="19.79" fill="none" stroke="#4a4a4a" stroke-width="1.3" rx="0.6"/>
<line x1="58.2" y1="608.4" x2="58.2" y2="744" stroke="#555" stroke-width="1.2"/>
<text x="57.4" y="612.41" font-size="4.4" font-weight="bold" text-anchor="end" fill="#333">Fp1</text>
<text x="57.4" y="617.43" font-size="4.4" font-weight="bold" text-anchor="end" fill="#333">Fp2</text>
<text x="57.4" y="622.46" font-size="4.4" font-weight="bold" text-anchor="end" fill="#333">F7</text>
<text x="57.4" y="627.48" font-size="4.4" font-weight="bold" text-anchor="end" fill="#333">F3</text>
<text x="57.4" y="632.5" font-size="4.4" font-weight="bold" text-anchor="end" fill="#333">Fz</text>
<text x="57.4" y="637.52" font-size="4.4" font-weight="bold" text-anchor="end" fill="#333">F4</text>
<text x="57.4" y="642.54" font-size="4.4" font-weight="bold" text-anchor="end" fill="#333">F8</text>
<text x="57.4" y="647.57" font-size="4.4" font-weight="bold" text-anchor="end" fill="#333">FC5</text>
<text x="57.4" y="652.59" font-size="4.4" font-weight="bold" text-anchor="end" fill="#333">FC1</text>
<text x="57.4" y="657.61" font-size="4.4" font-weight="bold" text-anchor="end" fill="#333">FC2</text>
<text x="57.4" y="662.63" font-size="4.4" font-weight="bold" text-anchor="end" fill="#333">FC6</text>
<text x="57.4" y="667.66" font-size="4.4" font-weight="bold" text-anchor="end" fill="#333">T7</text>
<text x="57.4" y="672.68" font-size="4.4" font-weight="bold" text-anchor="end" fill="#333">C3</text>
<text x="57.4" y="677.7" font-size="4.4" font-weight="bold" text-anchor="end" fill="#333">Cz</text>
<text x="57.4" y="682.72" font-size="4.4" font-weight="bold" text-anchor="end" fill="#333">C4</text>
<text x="57.4" y="687.74" font-size="4.4" font-weight="bold" text-anchor="end" fill="#333">T8</text>
<text x="57.4" y="692.77" font-size="4.4" font-weight="bold" text-anchor="end" fill="#333">CP5</text>
<text x="57.4" y="697.79" font-size="4.4" font-weight="bold" text-anchor="end" fill="#333">CP1</text>
<text x="57.4" y="702.81" font-size="4.4" font-weight="bold" text-anchor="end" fill="#333">CP2</text>
<text x="57.4" y="707.83" font-size="4.4" font-weight="bold" text-anchor="end" fill="#333">CP6</text>
<text x="57.4" y="712.86" font-size="4.4" font-weight="bold" text-anchor="end" fill="#333">P7</text>
<text x="57.4" y="717.88" font-size="4.4" font-weight="bold" text-anchor="end" fill="#333">P3</text>
<text x="57.4" y="722.9" font-size="4.4" font-weight="bold" text-anchor="end" fill="#333">Pz</text>
<text x="57.4" y="727.92" font-size="4.4" font-weight="bold" text-anchor="end" fill="#333">P4</text>
<text x="57.4" y="732.94" font-size="4.4" font-weight="bold" text-anchor="end" fill="#333">P8</text>
<text x="57.4" y="737.97" font-size="4.4" font-weight="bold" text-anchor="end" fill="#333">O1</text>
<text x="57.4" y="742.99" font-size="4.4" font-weight="bold" text-anchor="end" fill="#333">O2</text>
<rect x="49.4" y="608.4" width="304.5" height="135.6" fill="none" stroke="#858585" stroke-width="1.4" rx="1.0"/>
<text transform="translate(358.33 0) scale(0.925 1)" x="0" y="599.8" font-size="22.05" fill="#111">ERP</text>
<text transform="translate(400.62 0) scale(0.955 1)" x="0" y="604.4" font-size="14.4" fill="#3a3a3a">comp</text>
<text transform="translate(440.25 0) scale(0.955 1)" x="0" y="598.8" font-size="17.32" fill="#222">×</text>
<text transform="translate(457.76 0) scale(0.925 1)" x="0" y="599.8" font-size="22.05" fill="#111">A</text>
<text transform="translate(471.39 0) scale(0.955 1)" x="0" y="604.4" font-size="14.4" fill="#3a3a3a">noise</text>
<text transform="translate(508.34 0) scale(0.925 1)" x="0" y="599.8" font-size="22.05" fill="#111">d´</text>
<rect x="360.8" y="609" width="304.3" height="135.4" fill="#fff"/>
<line x1="360.8" y1="614.01" x2="665.1" y2="614.01" stroke="#ededed" stroke-width="0.8"/>
<line x1="360.8" y1="619.03" x2="665.1" y2="619.03" stroke="#ededed" stroke-width="0.8"/>
<line x1="360.8" y1="624.04" x2="665.1" y2="624.04" stroke="#ededed" stroke-width="0.8"/>
<line x1="360.8" y1="629.06" x2="665.1" y2="629.06" stroke="#ededed" stroke-width="0.8"/>
<line x1="360.8" y1="634.07" x2="665.1" y2="634.07" stroke="#ededed" stroke-width="0.8"/>
<line x1="360.8" y1="639.09" x2="665.1" y2="639.09" stroke="#ededed" stroke-width="0.8"/>
<line x1="360.8" y1="644.1" x2="665.1" y2="644.1" stroke="#ededed" stroke-width="0.8"/>
<line x1="360.8" y1="649.12" x2="665.1" y2="649.12" stroke="#ededed" stroke-width="0.8"/>
<line x1="360.8" y1="654.13" x2="665.1" y2="654.13" stroke="#ededed" stroke-width="0.8"/>
<line x1="360.8" y1="659.15" x2="665.1" y2="659.15" stroke="#ededed" stroke-width="0.8"/>
<line x1="360.8" y1="664.16" x2="665.1" y2="664.16" stroke="#ededed" stroke-width="0.8"/>
<line x1="360.8" y1="669.18" x2="665.1" y2="669.18" stroke="#ededed" stroke-width="0.8"/>
<line x1="360.8" y1="674.19" x2="665.1" y2="674.19" stroke="#ededed" stroke-width="0.8"/>
<line x1="360.8" y1="679.21" x2="665.1" y2="679.21" stroke="#ededed" stroke-width="0.8"/>
<line x1="360.8" y1="684.22" x2="665.1" y2="684.22" stroke="#ededed" stroke-width="0.8"/>
<line x1="360.8" y1="689.24" x2="665.1" y2="689.24" stroke="#ededed" stroke-width="0.8"/>
<line x1="360.8" y1="694.25" x2="665.1" y2="694.25" stroke="#ededed" stroke-width="0.8"/>
<line x1="360.8" y1="699.27" x2="665.1" y2="699.27" stroke="#ededed" stroke-width="0.8"/>
<line x1="360.8" y1="704.28" x2="665.1" y2="704.28" stroke="#ededed" stroke-width="0.8"/>
<line x1="360.8" y1="709.3" x2="665.1" y2="709.3" stroke="#ededed" stroke-width="0.8"/>
<line x1="360.8" y1="714.31" x2="665.1" y2="714.31" stroke="#ededed" stroke-width="0.8"/>
<line x1="360.8" y1="719.33" x2="665.1" y2="719.33" stroke="#ededed" stroke-width="0.8"/>
<line x1="360.8" y1="724.34" x2="665.1" y2="724.34" stroke="#ededed" stroke-width="0.8"/>
<line x1="360.8" y1="729.36" x2="665.1" y2="729.36" stroke="#ededed" stroke-width="0.8"/>
<line x1="360.8" y1="734.37" x2="665.1" y2="734.37" stroke="#ededed" stroke-width="0.8"/>
<line x1="360.8" y1="739.39" x2="665.1" y2="739.39" stroke="#ededed" stroke-width="0.8"/>
<rect x="409.9" y="609" width="1.1" height="5.01" fill="#C5D9F1"/>
<rect x="390.2" y="669.18" width="3.8" height="5.01" fill="#C5D9F1"/>
<rect x="401.4" y="669.18" width="1.1" height="5.01" fill="#C5D9F1"/>
<rect x="387.3" y="674.19" width="7.1" height="5.01" fill="#C5D9F1"/>
<rect x="390.6" y="679.21" width="3.1" height="5.01" fill="#C5D9F1"/>
<rect x="376.7" y="684.22" width="0.9" height="5.01" fill="#FCD5B4"/>
<rect x="390.2" y="689.24" width="4.2" height="5.01" fill="#C5D9F1"/>
<rect x="401.4" y="689.24" width="1.1" height="5.01" fill="#C5D9F1"/>
<rect x="387.3" y="694.25" width="2.5" height="5.01" fill="#C5D9F1"/>
<rect x="389.8" y="694.25" width="3.3" height="5.01" fill="#0070C0"/>
<rect x="393.1" y="694.25" width="1.9" height="5.01" fill="#C5D9F1"/>
<rect x="387.3" y="699.27" width="2.5" height="5.01" fill="#C5D9F1"/>
<rect x="389.8" y="699.27" width="3.9" height="5.01" fill="#0070C0"/>
<rect x="389.2" y="704.28" width="5.2" height="5.01" fill="#C5D9F1"/>
<rect x="373.2" y="709.3" width="2.5" height="5.01" fill="#C5D9F1"/>
<rect x="388.2" y="714.31" width="2" height="5.01" fill="#C5D9F1"/>
<rect x="390.2" y="714.31" width="2.9" height="5.01" fill="#0070C0"/>
<rect x="393.1" y="714.31" width="1.3" height="5.01" fill="#C5D9F1"/>
<rect x="387.3" y="719.33" width="6.7" height="5.01" fill="#0070C0"/>
<rect x="394" y="719.33" width="1" height="5.01" fill="#C5D9F1"/>
<rect x="388.2" y="724.34" width="1.6" height="5.01" fill="#C5D9F1"/>
<rect x="389.8" y="724.34" width="5.2" height="5.01" fill="#0070C0"/>
<rect x="395" y="724.34" width="1" height="5.01" fill="#C5D9F1"/>
<rect x="373.2" y="729.36" width="1.5" height="5.01" fill="#0070C0"/>
<rect x="388.6" y="729.36" width="7.4" height="5.01" fill="#C5D9F1"/>
<rect x="387.9" y="734.37" width="1.3" height="5.01" fill="#C5D9F1"/>
<rect x="373.2" y="739.39" width="1.9" height="5.01" fill="#0070C0"/>
<rect x="387.9" y="739.39" width="8.1" height="5.01" fill="#C5D9F1"/>
<rect x="523.7" y="609" width="3.3" height="5.01" fill="#FCD5B4"/>
<rect x="534.3" y="609" width="4.8" height="5.01" fill="#FCD5B4"/>
<rect x="645.4" y="609" width="1.3" height="5.01" fill="#C5D9F1"/>
<rect x="540.1" y="614.01" width="1" height="5.01" fill="#FCD5B4"/>
<rect x="537.2" y="644.1" width="1.9" height="5.01" fill="#FCD5B4"/>
<rect x="537.8" y="664.16" width="1.9" height="5.01" fill="#FCD5B4"/>
<rect x="662.2" y="674.19" width="2.5" height="10.03" fill="#C5D9F1"/>
<rect x="569.5" y="709.3" width="6.3" height="5.01" fill="#FCD5B4"/>
<line x1="369.7" y1="614.01" x2="665.1" y2="614.01" stroke="rgba(200,200,200,0.35)" stroke-width="0.8"/>
<line x1="369.7" y1="619.03" x2="665.1" y2="619.03" stroke="rgba(200,200,200,0.35)" stroke-width="0.8"/>
<line x1="369.7" y1="624.04" x2="665.1" y2="624.04" stroke="rgba(200,200,200,0.35)" stroke-width="0.8"/>
<line x1="369.7" y1="629.06" x2="665.1" y2="629.06" stroke="rgba(200,200,200,0.35)" stroke-width="0.8"/>
<line x1="369.7" y1="634.07" x2="665.1" y2="634.07" stroke="rgba(200,200,200,0.35)" stroke-width="0.8"/>
<line x1="369.7" y1="639.09" x2="665.1" y2="639.09" stroke="rgba(200,200,200,0.35)" stroke-width="0.8"/>
<line x1="369.7" y1="644.1" x2="665.1" y2="644.1" stroke="rgba(200,200,200,0.35)" stroke-width="0.8"/>
<line x1="369.7" y1="649.12" x2="665.1" y2="649.12" stroke="rgba(200,200,200,0.35)" stroke-width="0.8"/>
<line x1="369.7" y1="654.13" x2="665.1" y2="654.13" stroke="rgba(200,200,200,0.35)" stroke-width="0.8"/>
<line x1="369.7" y1="659.15" x2="665.1" y2="659.15" stroke="rgba(200,200,200,0.35)" stroke-width="0.8"/>
<line x1="369.7" y1="664.16" x2="665.1" y2="664.16" stroke="rgba(200,200,200,0.35)" stroke-width="0.8"/>
<line x1="369.7" y1="669.18" x2="665.1" y2="669.18" stroke="rgba(200,200,200,0.35)" stroke-width="0.8"/>
<line x1="369.7" y1="674.19" x2="665.1" y2="674.19" stroke="rgba(200,200,200,0.35)" stroke-width="0.8"/>
<line x1="369.7" y1="679.21" x2="665.1" y2="679.21" stroke="rgba(200,200,200,0.35)" stroke-width="0.8"/>
<line x1="369.7" y1="684.22" x2="665.1" y2="684.22" stroke="rgba(200,200,200,0.35)" stroke-width="0.8"/>
<line x1="369.7" y1="689.24" x2="665.1" y2="689.24" stroke="rgba(200,200,200,0.35)" stroke-width="0.8"/>
<line x1="369.7" y1="694.25" x2="665.1" y2="694.25" stroke="rgba(200,200,200,0.35)" stroke-width="0.8"/>
<line x1="369.7" y1="699.27" x2="665.1" y2="699.27" stroke="rgba(200,200,200,0.35)" stroke-width="0.8"/>
<line x1="369.7" y1="704.28" x2="665.1" y2="704.28" stroke="rgba(200,200,200,0.35)" stroke-width="0.8"/>
<line x1="369.7" y1="709.3" x2="665.1" y2="709.3" stroke="rgba(200,200,200,0.35)" stroke-width="0.8"/>
<line x1="369.7" y1="714.31" x2="665.1" y2="714.31" stroke="rgba(200,200,200,0.35)" stroke-width="0.8"/>
<line x1="369.7" y1="719.33" x2="665.1" y2="719.33" stroke="rgba(200,200,200,0.35)" stroke-width="0.8"/>
<line x1="369.7" y1="724.34" x2="665.1" y2="724.34" stroke="rgba(200,200,200,0.35)" stroke-width="0.8"/>
<line x1="369.7" y1="729.36" x2="665.1" y2="729.36" stroke="rgba(200,200,200,0.35)" stroke-width="0.8"/>
<line x1="369.7" y1="734.37" x2="665.1" y2="734.37" stroke="rgba(200,200,200,0.35)" stroke-width="0.8"/>
<line x1="369.7" y1="739.39" x2="665.1" y2="739.39" stroke="rgba(200,200,200,0.35)" stroke-width="0.8"/>
<line x1="399.27" y1="609" x2="399.27" y2="744.4" stroke="#d6d6d6" stroke-width="1"/>
<line x1="428.84" y1="609" x2="428.84" y2="744.4" stroke="#777" stroke-width="1.0"/>
<line x1="458.41" y1="609" x2="458.41" y2="744.4" stroke="#d6d6d6" stroke-width="1"/>
<line x1="487.98" y1="609" x2="487.98" y2="744.4" stroke="#777" stroke-width="1.0"/>
<line x1="517.55" y1="609" x2="517.55" y2="744.4" stroke="#d6d6d6" stroke-width="1"/>
<line x1="547.12" y1="609" x2="547.12" y2="744.4" stroke="#777" stroke-width="1.0"/>
<line x1="576.69" y1="609" x2="576.69" y2="744.4" stroke="#d6d6d6" stroke-width="1"/>
<line x1="606.26" y1="609" x2="606.26" y2="744.4" stroke="#777" stroke-width="1.0"/>
<line x1="635.83" y1="609" x2="635.83" y2="744.4" stroke="#d6d6d6" stroke-width="1"/>
<rect x="473.25" y="614.16" width="10.82" height="4.71" fill="none" stroke="#4a4a4a" stroke-width="1.3" rx="0.6"/>
<rect x="518.2" y="624.19" width="10.53" height="4.71" fill="none" stroke="#4a4a4a" stroke-width="1.3" rx="0.6"/>
<rect x="473.25" y="634.22" width="10.82" height="9.73" fill="none" stroke="#4a4a4a" stroke-width="1.3" rx="0.6"/>
<rect x="473.25" y="654.28" width="10.82" height="9.73" fill="none" stroke="#4a4a4a" stroke-width="1.3" rx="0.6"/>
<rect x="544.52" y="659.3" width="10.82" height="4.71" fill="none" stroke="#4a4a4a" stroke-width="1.3" rx="0.6"/>
<rect x="428.9" y="669.33" width="10.82" height="4.71" fill="none" stroke="#4a4a4a" stroke-width="1.3" rx="0.6"/>
<rect x="447.23" y="669.33" width="10.53" height="4.71" fill="none" stroke="#4a4a4a" stroke-width="1.3" rx="0.6"/>
<rect x="473.25" y="679.36" width="10.82" height="4.71" fill="none" stroke="#4a4a4a" stroke-width="1.3" rx="0.6"/>
<rect x="544.52" y="679.36" width="10.82" height="9.73" fill="none" stroke="#4a4a4a" stroke-width="1.3" rx="0.6"/>
<rect x="428.9" y="689.39" width="10.82" height="9.73" fill="none" stroke="#4a4a4a" stroke-width="1.3" rx="0.6"/>
<rect x="447.23" y="689.39" width="10.53" height="9.73" fill="none" stroke="#4a4a4a" stroke-width="1.3" rx="0.6"/>
<rect x="518.2" y="634.22" width="10.53" height="74.92" fill="none" stroke="#4a4a4a" stroke-width="1.3" rx="0.6"/>
<rect x="544.52" y="699.42" width="10.82" height="9.73" fill="none" stroke="#4a4a4a" stroke-width="1.3" rx="0.6"/>
<rect x="428.9" y="714.46" width="10.82" height="4.71" fill="none" stroke="#4a4a4a" stroke-width="1.3" rx="0.6"/>
<rect x="518.2" y="714.46" width="10.53" height="19.76" fill="none" stroke="#4a4a4a" stroke-width="1.3" rx="0.6"/>
<line x1="369.7" y1="609" x2="369.7" y2="744.4" stroke="#555" stroke-width="1.2"/>
<text x="368.9" y="613.01" font-size="4.4" font-weight="bold" text-anchor="end" fill="#333">Fp1</text>
<text x="368.9" y="618.02" font-size="4.4" font-weight="bold" text-anchor="end" fill="#333">Fp2</text>
<text x="368.9" y="623.04" font-size="4.4" font-weight="bold" text-anchor="end" fill="#333">F7</text>
<text x="368.9" y="628.05" font-size="4.4" font-weight="bold" text-anchor="end" fill="#333">F3</text>
<text x="368.9" y="633.07" font-size="4.4" font-weight="bold" text-anchor="end" fill="#333">Fz</text>
<text x="368.9" y="638.08" font-size="4.4" font-weight="bold" text-anchor="end" fill="#333">F4</text>
<text x="368.9" y="643.1" font-size="4.4" font-weight="bold" text-anchor="end" fill="#333">F8</text>
<text x="368.9" y="648.11" font-size="4.4" font-weight="bold" text-anchor="end" fill="#333">FC5</text>
<text x="368.9" y="653.13" font-size="4.4" font-weight="bold" text-anchor="end" fill="#333">FC1</text>
<text x="368.9" y="658.14" font-size="4.4" font-weight="bold" text-anchor="end" fill="#333">FC2</text>
<text x="368.9" y="663.16" font-size="4.4" font-weight="bold" text-anchor="end" fill="#333">FC6</text>
<text x="368.9" y="668.17" font-size="4.4" font-weight="bold" text-anchor="end" fill="#333">T7</text>
<text x="368.9" y="673.19" font-size="4.4" font-weight="bold" text-anchor="end" fill="#333">C3</text>
<text x="368.9" y="678.2" font-size="4.4" font-weight="bold" text-anchor="end" fill="#333">Cz</text>
<text x="368.9" y="683.21" font-size="4.4" font-weight="bold" text-anchor="end" fill="#333">C4</text>
<text x="368.9" y="688.23" font-size="4.4" font-weight="bold" text-anchor="end" fill="#333">T8</text>
<text x="368.9" y="693.24" font-size="4.4" font-weight="bold" text-anchor="end" fill="#333">CP5</text>
<text x="368.9" y="698.26" font-size="4.4" font-weight="bold" text-anchor="end" fill="#333">CP1</text>
<text x="368.9" y="703.27" font-size="4.4" font-weight="bold" text-anchor="end" fill="#333">CP2</text>
<text x="368.9" y="708.29" font-size="4.4" font-weight="bold" text-anchor="end" fill="#333">CP6</text>
<text x="368.9" y="713.3" font-size="4.4" font-weight="bold" text-anchor="end" fill="#333">P7</text>
<text x="368.9" y="718.32" font-size="4.4" font-weight="bold" text-anchor="end" fill="#333">P3</text>
<text x="368.9" y="723.33" font-size="4.4" font-weight="bold" text-anchor="end" fill="#333">Pz</text>
<text x="368.9" y="728.35" font-size="4.4" font-weight="bold" text-anchor="end" fill="#333">P4</text>
<text x="368.9" y="733.36" font-size="4.4" font-weight="bold" text-anchor="end" fill="#333">P8</text>
<text x="368.9" y="738.38" font-size="4.4" font-weight="bold" text-anchor="end" fill="#333">O1</text>
<text x="368.9" y="743.39" font-size="4.4" font-weight="bold" text-anchor="end" fill="#333">O2</text>
<rect x="360.8" y="609" width="304.3" height="135.4" fill="none" stroke="#858585" stroke-width="1.4" rx="1.0"/>
<text transform="translate(48.13 0) scale(0.925 1)" x="0" y="789.2" font-size="22.05" fill="#111">ERP</text>
<text transform="translate(90.42 0) scale(0.955 1)" x="0" y="793.8" font-size="14.4" fill="#3a3a3a">comp</text>
<text transform="translate(130.05 0) scale(0.955 1)" x="0" y="788.2" font-size="17.32" fill="#222">×</text>
<text transform="translate(148.91 0) scale(0.925 1)" x="0" y="789.2" font-size="22.05" fill="#111">V</text>
<text transform="translate(161.69 0) scale(0.955 1)" x="0" y="793.8" font-size="14.4" fill="#3a3a3a">noise</text>
<text transform="translate(198.53 0) scale(0.925 1)" x="0" y="789.2" font-size="22.05" fill="#111">c</text>
<rect x="50.6" y="799.2" width="303.3" height="135.3" fill="#fff"/>
<line x1="50.6" y1="804.21" x2="353.9" y2="804.21" stroke="#ededed" stroke-width="0.8"/>
<line x1="50.6" y1="809.22" x2="353.9" y2="809.22" stroke="#ededed" stroke-width="0.8"/>
<line x1="50.6" y1="814.23" x2="353.9" y2="814.23" stroke="#ededed" stroke-width="0.8"/>
<line x1="50.6" y1="819.24" x2="353.9" y2="819.24" stroke="#ededed" stroke-width="0.8"/>
<line x1="50.6" y1="824.26" x2="353.9" y2="824.26" stroke="#ededed" stroke-width="0.8"/>
<line x1="50.6" y1="829.27" x2="353.9" y2="829.27" stroke="#ededed" stroke-width="0.8"/>
<line x1="50.6" y1="834.28" x2="353.9" y2="834.28" stroke="#ededed" stroke-width="0.8"/>
<line x1="50.6" y1="839.29" x2="353.9" y2="839.29" stroke="#ededed" stroke-width="0.8"/>
<line x1="50.6" y1="844.3" x2="353.9" y2="844.3" stroke="#ededed" stroke-width="0.8"/>
<line x1="50.6" y1="849.31" x2="353.9" y2="849.31" stroke="#ededed" stroke-width="0.8"/>
<line x1="50.6" y1="854.32" x2="353.9" y2="854.32" stroke="#ededed" stroke-width="0.8"/>
<line x1="50.6" y1="859.33" x2="353.9" y2="859.33" stroke="#ededed" stroke-width="0.8"/>
<line x1="50.6" y1="864.34" x2="353.9" y2="864.34" stroke="#ededed" stroke-width="0.8"/>
<line x1="50.6" y1="869.36" x2="353.9" y2="869.36" stroke="#ededed" stroke-width="0.8"/>
<line x1="50.6" y1="874.37" x2="353.9" y2="874.37" stroke="#ededed" stroke-width="0.8"/>
<line x1="50.6" y1="879.38" x2="353.9" y2="879.38" stroke="#ededed" stroke-width="0.8"/>
<line x1="50.6" y1="884.39" x2="353.9" y2="884.39" stroke="#ededed" stroke-width="0.8"/>
<line x1="50.6" y1="889.4" x2="353.9" y2="889.4" stroke="#ededed" stroke-width="0.8"/>
<line x1="50.6" y1="894.41" x2="353.9" y2="894.41" stroke="#ededed" stroke-width="0.8"/>
<line x1="50.6" y1="899.42" x2="353.9" y2="899.42" stroke="#ededed" stroke-width="0.8"/>
<line x1="50.6" y1="904.43" x2="353.9" y2="904.43" stroke="#ededed" stroke-width="0.8"/>
<line x1="50.6" y1="909.44" x2="353.9" y2="909.44" stroke="#ededed" stroke-width="0.8"/>
<line x1="50.6" y1="914.46" x2="353.9" y2="914.46" stroke="#ededed" stroke-width="0.8"/>
<line x1="50.6" y1="919.47" x2="353.9" y2="919.47" stroke="#ededed" stroke-width="0.8"/>
<line x1="50.6" y1="924.48" x2="353.9" y2="924.48" stroke="#ededed" stroke-width="0.8"/>
<line x1="50.6" y1="929.49" x2="353.9" y2="929.49" stroke="#ededed" stroke-width="0.8"/>
<rect x="98.9" y="814.23" width="1.9" height="10.02" fill="#FCD5B4"/>
<rect x="98.5" y="824.26" width="1.2" height="5.01" fill="#FCD5B4"/>
<rect x="78.8" y="829.27" width="2.3" height="5.01" fill="#FCD5B4"/>
<rect x="196.6" y="844.3" width="1.4" height="5.01" fill="#C5D9F1"/>
<rect x="140.6" y="864.34" width="0.8" height="5.01" fill="#C5D9F1"/>
<rect x="141.4" y="864.34" width="1.9" height="5.01" fill="#0070C0"/>
<rect x="143.3" y="864.34" width="1.1" height="5.01" fill="#C5D9F1"/>
<rect x="181.5" y="864.34" width="6.8" height="5.01" fill="#C5D9F1"/>
<rect x="190.8" y="864.34" width="9.1" height="5.01" fill="#C5D9F1"/>
<rect x="139" y="869.36" width="6.2" height="5.01" fill="#C5D9F1"/>
<rect x="176.7" y="869.36" width="1.9" height="5.01" fill="#C5D9F1"/>
<rect x="195" y="869.36" width="1.6" height="5.01" fill="#C5D9F1"/>
<rect x="71.8" y="874.37" width="3.1" height="5.01" fill="#FCD5B4"/>
<rect x="80.7" y="874.37" width="3.3" height="5.01" fill="#FCD5B4"/>
<rect x="99.5" y="874.37" width="1.3" height="5.01" fill="#FCD5B4"/>
<rect x="141.5" y="874.37" width="2" height="5.01" fill="#C5D9F1"/>
<rect x="176.7" y="874.37" width="1.9" height="5.01" fill="#C5D9F1"/>
<rect x="190.2" y="874.37" width="1.4" height="5.01" fill="#C5D9F1"/>
<rect x="142.2" y="879.38" width="1" height="5.01" fill="#C5D9F1"/>
<rect x="141" y="884.39" width="3.8" height="5.01" fill="#0070C0"/>
<rect x="179.6" y="884.39" width="4.8" height="5.01" fill="#C5D9F1"/>
<rect x="184.4" y="884.39" width="2.9" height="5.01" fill="#0070C0"/>
<rect x="187.3" y="884.39" width="11.6" height="5.01" fill="#C5D9F1"/>
<rect x="139" y="889.4" width="2" height="5.01" fill="#C5D9F1"/>
<rect x="141" y="889.4" width="4.8" height="5.01" fill="#0070C0"/>
<rect x="176.7" y="889.4" width="10.6" height="5.01" fill="#C5D9F1"/>
<rect x="193.5" y="889.4" width="3.5" height="5.01" fill="#C5D9F1"/>
<rect x="141.9" y="894.41" width="1.4" height="5.01" fill="#C5D9F1"/>
<rect x="176.7" y="894.41" width="1.3" height="5.01" fill="#C5D9F1"/>
<rect x="141.9" y="904.43" width="1.4" height="5.01" fill="#C5D9F1"/>
<rect x="189.3" y="904.43" width="1.5" height="5.01" fill="#C5D9F1"/>
<rect x="140.6" y="909.44" width="5.2" height="5.01" fill="#0070C0"/>
<rect x="182.5" y="909.44" width="4.4" height="5.01" fill="#C5D9F1"/>
<rect x="189.3" y="909.44" width="6.7" height="5.01" fill="#C5D9F1"/>
<rect x="141" y="914.46" width="4.8" height="5.01" fill="#C5D9F1"/>
<rect x="93.1" y="919.47" width="4.4" height="5.01" fill="#FCD5B4"/>
<rect x="86.9" y="924.48" width="1.2" height="5.01" fill="#C5D9F1"/>
<rect x="203.7" y="839.29" width="4.3" height="5.01" fill="#C5D9F1"/>
<rect x="204.3" y="859.33" width="3.7" height="5.01" fill="#C5D9F1"/>
<rect x="203.7" y="864.34" width="4.3" height="5.01" fill="#C5D9F1"/>
<rect x="203.7" y="884.39" width="4.3" height="5.01" fill="#C5D9F1"/>
<rect x="211.7" y="814.23" width="2.9" height="5.01" fill="#C5D9F1"/>
<rect x="214.6" y="834.28" width="5.8" height="5.01" fill="#C5D9F1"/>
<rect x="204" y="839.29" width="16.4" height="5.01" fill="#C5D9F1"/>
<rect x="209.8" y="844.3" width="9.7" height="5.01" fill="#C5D9F1"/>
<rect x="217.5" y="849.31" width="2" height="5.01" fill="#C5D9F1"/>
<rect x="217.9" y="854.32" width="1.6" height="5.01" fill="#0070C0"/>
<rect x="204" y="859.33" width="10.6" height="5.01" fill="#C5D9F1"/>
<rect x="214.6" y="859.33" width="5.8" height="5.01" fill="#0070C0"/>
<rect x="238.4" y="859.33" width="5.2" height="5.01" fill="#C5D9F1"/>
<rect x="204" y="864.34" width="13.5" height="5.01" fill="#C5D9F1"/>
<rect x="217.9" y="864.34" width="1.9" height="5.01" fill="#0070C0"/>
<rect x="237.5" y="864.34" width="2.2" height="5.01" fill="#C5D9F1"/>
<rect x="239.7" y="864.34" width="2" height="5.01" fill="#0070C0"/>
<rect x="241.7" y="864.34" width="1.9" height="5.01" fill="#C5D9F1"/>
<rect x="211.7" y="869.36" width="9.7" height="5.01" fill="#C5D9F1"/>
<rect x="235.9" y="869.36" width="6.7" height="5.01" fill="#C5D9F1"/>
<rect x="278.4" y="869.36" width="1.3" height="5.01" fill="#C5D9F1"/>
<rect x="215.6" y="874.37" width="4.8" height="5.01" fill="#C5D9F1"/>
<rect x="239.7" y="874.37" width="4.9" height="5.01" fill="#C5D9F1"/>
<rect x="238.8" y="879.38" width="3.8" height="5.01" fill="#C5D9F1"/>
<rect x="204" y="884.39" width="2.9" height="5.01" fill="#C5D9F1"/>
<rect x="209.8" y="884.39" width="4.8" height="5.01" fill="#C5D9F1"/>
<rect x="214.6" y="884.39" width="6.8" height="5.01" fill="#0070C0"/>
<rect x="238.4" y="884.39" width="6.2" height="5.01" fill="#0070C0"/>
<rect x="244.6" y="884.39" width="1.9" height="5.01" fill="#C5D9F1"/>
<rect x="211.7" y="889.4" width="9.7" height="5.01" fill="#C5D9F1"/>
<rect x="236.8" y="889.4" width="2.9" height="5.01" fill="#C5D9F1"/>
<rect x="239.7" y="889.4" width="3.9" height="5.01" fill="#0070C0"/>
<rect x="238.5" y="894.41" width="1.2" height="5.01" fill="#C5D9F1"/>
<rect x="239.7" y="894.41" width="3.9" height="5.01" fill="#0070C0"/>
<rect x="243.6" y="894.41" width="0.9" height="5.01" fill="#C5D9F1"/>
<rect x="215.6" y="904.43" width="3.9" height="5.01" fill="#C5D9F1"/>
<rect x="238.4" y="904.43" width="1.9" height="5.01" fill="#C5D9F1"/>
<rect x="240.3" y="904.43" width="2.3" height="5.01" fill="#0070C0"/>
<rect x="213.7" y="909.44" width="6.7" height="5.01" fill="#C5D9F1"/>
<rect x="238.8" y="909.44" width="1.5" height="5.01" fill="#C5D9F1"/>
<rect x="240.3" y="909.44" width="2.7" height="5.01" fill="#0070C0"/>
<rect x="243" y="909.44" width="1" height="5.01" fill="#C5D9F1"/>
<rect x="238.8" y="914.46" width="4.8" height="5.01" fill="#C5D9F1"/>
<rect x="350.4" y="924.48" width="2.3" height="10.02" fill="#FCD5B4"/>
<line x1="59" y1="804.21" x2="353.9" y2="804.21" stroke="rgba(200,200,200,0.35)" stroke-width="0.8"/>
<line x1="59" y1="809.22" x2="353.9" y2="809.22" stroke="rgba(200,200,200,0.35)" stroke-width="0.8"/>
<line x1="59" y1="814.23" x2="353.9" y2="814.23" stroke="rgba(200,200,200,0.35)" stroke-width="0.8"/>
<line x1="59" y1="819.24" x2="353.9" y2="819.24" stroke="rgba(200,200,200,0.35)" stroke-width="0.8"/>
<line x1="59" y1="824.26" x2="353.9" y2="824.26" stroke="rgba(200,200,200,0.35)" stroke-width="0.8"/>
<line x1="59" y1="829.27" x2="353.9" y2="829.27" stroke="rgba(200,200,200,0.35)" stroke-width="0.8"/>
<line x1="59" y1="834.28" x2="353.9" y2="834.28" stroke="rgba(200,200,200,0.35)" stroke-width="0.8"/>
<line x1="59" y1="839.29" x2="353.9" y2="839.29" stroke="rgba(200,200,200,0.35)" stroke-width="0.8"/>
<line x1="59" y1="844.3" x2="353.9" y2="844.3" stroke="rgba(200,200,200,0.35)" stroke-width="0.8"/>
<line x1="59" y1="849.31" x2="353.9" y2="849.31" stroke="rgba(200,200,200,0.35)" stroke-width="0.8"/>
<line x1="59" y1="854.32" x2="353.9" y2="854.32" stroke="rgba(200,200,200,0.35)" stroke-width="0.8"/>
<line x1="59" y1="859.33" x2="353.9" y2="859.33" stroke="rgba(200,200,200,0.35)" stroke-width="0.8"/>
<line x1="59" y1="864.34" x2="353.9" y2="864.34" stroke="rgba(200,200,200,0.35)" stroke-width="0.8"/>
<line x1="59" y1="869.36" x2="353.9" y2="869.36" stroke="rgba(200,200,200,0.35)" stroke-width="0.8"/>
<line x1="59" y1="874.37" x2="353.9" y2="874.37" stroke="rgba(200,200,200,0.35)" stroke-width="0.8"/>
<line x1="59" y1="879.38" x2="353.9" y2="879.38" stroke="rgba(200,200,200,0.35)" stroke-width="0.8"/>
<line x1="59" y1="884.39" x2="353.9" y2="884.39" stroke="rgba(200,200,200,0.35)" stroke-width="0.8"/>
<line x1="59" y1="889.4" x2="353.9" y2="889.4" stroke="rgba(200,200,200,0.35)" stroke-width="0.8"/>
<line x1="59" y1="894.41" x2="353.9" y2="894.41" stroke="rgba(200,200,200,0.35)" stroke-width="0.8"/>
<line x1="59" y1="899.42" x2="353.9" y2="899.42" stroke="rgba(200,200,200,0.35)" stroke-width="0.8"/>
<line x1="59" y1="904.43" x2="353.9" y2="904.43" stroke="rgba(200,200,200,0.35)" stroke-width="0.8"/>
<line x1="59" y1="909.44" x2="353.9" y2="909.44" stroke="rgba(200,200,200,0.35)" stroke-width="0.8"/>
<line x1="59" y1="914.46" x2="353.9" y2="914.46" stroke="rgba(200,200,200,0.35)" stroke-width="0.8"/>
<line x1="59" y1="919.47" x2="353.9" y2="919.47" stroke="rgba(200,200,200,0.35)" stroke-width="0.8"/>
<line x1="59" y1="924.48" x2="353.9" y2="924.48" stroke="rgba(200,200,200,0.35)" stroke-width="0.8"/>
<line x1="59" y1="929.49" x2="353.9" y2="929.49" stroke="rgba(200,200,200,0.35)" stroke-width="0.8"/>
<line x1="88.57" y1="799.2" x2="88.57" y2="934.5" stroke="#d6d6d6" stroke-width="1"/>
<line x1="118.14" y1="799.2" x2="118.14" y2="934.5" stroke="#777" stroke-width="1.0"/>
<line x1="147.71" y1="799.2" x2="147.71" y2="934.5" stroke="#d6d6d6" stroke-width="1"/>
<line x1="177.28" y1="799.2" x2="177.28" y2="934.5" stroke="#777" stroke-width="1.0"/>
<line x1="206.85" y1="799.2" x2="206.85" y2="934.5" stroke="#d6d6d6" stroke-width="1"/>
<line x1="236.42" y1="799.2" x2="236.42" y2="934.5" stroke="#777" stroke-width="1.0"/>
<line x1="265.99" y1="799.2" x2="265.99" y2="934.5" stroke="#d6d6d6" stroke-width="1"/>
<line x1="295.56" y1="799.2" x2="295.56" y2="934.5" stroke="#777" stroke-width="1.0"/>
<line x1="325.13" y1="799.2" x2="325.13" y2="934.5" stroke="#d6d6d6" stroke-width="1"/>
<rect x="162.55" y="804.36" width="10.82" height="4.71" fill="none" stroke="#4a4a4a" stroke-width="1.3" rx="0.6"/>
<rect x="207.5" y="814.38" width="10.53" height="4.71" fill="none" stroke="#4a4a4a" stroke-width="1.3" rx="0.6"/>
<rect x="162.55" y="824.41" width="10.82" height="9.72" fill="none" stroke="#4a4a4a" stroke-width="1.3" rx="0.6"/>
<rect x="162.55" y="844.45" width="10.82" height="9.72" fill="none" stroke="#4a4a4a" stroke-width="1.3" rx="0.6"/>
<rect x="233.82" y="849.46" width="10.82" height="4.71" fill="none" stroke="#4a4a4a" stroke-width="1.3" rx="0.6"/>
<rect x="118.2" y="859.48" width="10.82" height="4.71" fill="none" stroke="#4a4a4a" stroke-width="1.3" rx="0.6"/>
<rect x="136.53" y="859.48" width="10.53" height="4.71" fill="none" stroke="#4a4a4a" stroke-width="1.3" rx="0.6"/>
<rect x="162.55" y="869.51" width="10.82" height="4.71" fill="none" stroke="#4a4a4a" stroke-width="1.3" rx="0.6"/>
<rect x="233.82" y="869.51" width="10.82" height="9.72" fill="none" stroke="#4a4a4a" stroke-width="1.3" rx="0.6"/>
<rect x="118.2" y="879.53" width="10.82" height="9.72" fill="none" stroke="#4a4a4a" stroke-width="1.3" rx="0.6"/>
<rect x="136.53" y="879.53" width="10.53" height="9.72" fill="none" stroke="#4a4a4a" stroke-width="1.3" rx="0.6"/>
<rect x="207.5" y="824.41" width="10.53" height="74.87" fill="none" stroke="#4a4a4a" stroke-width="1.3" rx="0.6"/>
<rect x="233.82" y="889.55" width="10.82" height="9.72" fill="none" stroke="#4a4a4a" stroke-width="1.3" rx="0.6"/>
<rect x="118.2" y="904.58" width="10.82" height="4.71" fill="none" stroke="#4a4a4a" stroke-width="1.3" rx="0.6"/>
<rect x="207.5" y="904.58" width="10.53" height="19.74" fill="none" stroke="#4a4a4a" stroke-width="1.3" rx="0.6"/>
<line x1="59" y1="799.2" x2="59" y2="934.5" stroke="#555" stroke-width="1.2"/>
<text x="58.2" y="803.21" font-size="4.4" font-weight="bold" text-anchor="end" fill="#333">Fp1</text>
<text x="58.2" y="808.22" font-size="4.4" font-weight="bold" text-anchor="end" fill="#333">Fp2</text>
<text x="58.2" y="813.23" font-size="4.4" font-weight="bold" text-anchor="end" fill="#333">F7</text>
<text x="58.2" y="818.24" font-size="4.4" font-weight="bold" text-anchor="end" fill="#333">F3</text>
<text x="58.2" y="823.25" font-size="4.4" font-weight="bold" text-anchor="end" fill="#333">Fz</text>
<text x="58.2" y="828.26" font-size="4.4" font-weight="bold" text-anchor="end" fill="#333">F4</text>
<text x="58.2" y="833.27" font-size="4.4" font-weight="bold" text-anchor="end" fill="#333">F8</text>
<text x="58.2" y="838.28" font-size="4.4" font-weight="bold" text-anchor="end" fill="#333">FC5</text>
<text x="58.2" y="843.29" font-size="4.4" font-weight="bold" text-anchor="end" fill="#333">FC1</text>
<text x="58.2" y="848.31" font-size="4.4" font-weight="bold" text-anchor="end" fill="#333">FC2</text>
<text x="58.2" y="853.32" font-size="4.4" font-weight="bold" text-anchor="end" fill="#333">FC6</text>
<text x="58.2" y="858.33" font-size="4.4" font-weight="bold" text-anchor="end" fill="#333">T7</text>
<text x="58.2" y="863.34" font-size="4.4" font-weight="bold" text-anchor="end" fill="#333">C3</text>
<text x="58.2" y="868.35" font-size="4.4" font-weight="bold" text-anchor="end" fill="#333">Cz</text>
<text x="58.2" y="873.36" font-size="4.4" font-weight="bold" text-anchor="end" fill="#333">C4</text>
<text x="58.2" y="878.37" font-size="4.4" font-weight="bold" text-anchor="end" fill="#333">T8</text>
<text x="58.2" y="883.38" font-size="4.4" font-weight="bold" text-anchor="end" fill="#333">CP5</text>
<text x="58.2" y="888.39" font-size="4.4" font-weight="bold" text-anchor="end" fill="#333">CP1</text>
<text x="58.2" y="893.41" font-size="4.4" font-weight="bold" text-anchor="end" fill="#333">CP2</text>
<text x="58.2" y="898.42" font-size="4.4" font-weight="bold" text-anchor="end" fill="#333">CP6</text>
<text x="58.2" y="903.43" font-size="4.4" font-weight="bold" text-anchor="end" fill="#333">P7</text>
<text x="58.2" y="908.44" font-size="4.4" font-weight="bold" text-anchor="end" fill="#333">P3</text>
<text x="58.2" y="913.45" font-size="4.4" font-weight="bold" text-anchor="end" fill="#333">Pz</text>
<text x="58.2" y="918.46" font-size="4.4" font-weight="bold" text-anchor="end" fill="#333">P4</text>
<text x="58.2" y="923.47" font-size="4.4" font-weight="bold" text-anchor="end" fill="#333">P8</text>
<text x="58.2" y="928.48" font-size="4.4" font-weight="bold" text-anchor="end" fill="#333">O1</text>
<text x="58.2" y="933.49" font-size="4.4" font-weight="bold" text-anchor="end" fill="#333">O2</text>
<rect x="50.6" y="799.2" width="303.3" height="135.3" fill="none" stroke="#858585" stroke-width="1.4" rx="1.0"/>
<text transform="translate(358.33 0) scale(0.925 1)" x="0" y="789.2" font-size="22.05" fill="#111">ERP</text>
<text transform="translate(400.62 0) scale(0.955 1)" x="0" y="793.8" font-size="14.4" fill="#3a3a3a">comp</text>
<text transform="translate(440.25 0) scale(0.955 1)" x="0" y="788.2" font-size="17.32" fill="#222">×</text>
<text transform="translate(459.11 0) scale(0.925 1)" x="0" y="789.2" font-size="22.05" fill="#111">V</text>
<text transform="translate(471.89 0) scale(0.955 1)" x="0" y="793.8" font-size="14.4" fill="#3a3a3a">noise</text>
<text transform="translate(509.74 0) scale(0.925 1)" x="0" y="789.2" font-size="22.05" fill="#111">d´</text>
<rect x="360.8" y="798.5" width="305.2" height="135.8" fill="#fff"/>
<line x1="360.8" y1="803.53" x2="666" y2="803.53" stroke="#ededed" stroke-width="0.8"/>
<line x1="360.8" y1="808.56" x2="666" y2="808.56" stroke="#ededed" stroke-width="0.8"/>
<line x1="360.8" y1="813.59" x2="666" y2="813.59" stroke="#ededed" stroke-width="0.8"/>
<line x1="360.8" y1="818.62" x2="666" y2="818.62" stroke="#ededed" stroke-width="0.8"/>
<line x1="360.8" y1="823.65" x2="666" y2="823.65" stroke="#ededed" stroke-width="0.8"/>
<line x1="360.8" y1="828.68" x2="666" y2="828.68" stroke="#ededed" stroke-width="0.8"/>
<line x1="360.8" y1="833.71" x2="666" y2="833.71" stroke="#ededed" stroke-width="0.8"/>
<line x1="360.8" y1="838.74" x2="666" y2="838.74" stroke="#ededed" stroke-width="0.8"/>
<line x1="360.8" y1="843.77" x2="666" y2="843.77" stroke="#ededed" stroke-width="0.8"/>
<line x1="360.8" y1="848.8" x2="666" y2="848.8" stroke="#ededed" stroke-width="0.8"/>
<line x1="360.8" y1="853.83" x2="666" y2="853.83" stroke="#ededed" stroke-width="0.8"/>
<line x1="360.8" y1="858.86" x2="666" y2="858.86" stroke="#ededed" stroke-width="0.8"/>
<line x1="360.8" y1="863.89" x2="666" y2="863.89" stroke="#ededed" stroke-width="0.8"/>
<line x1="360.8" y1="868.91" x2="666" y2="868.91" stroke="#ededed" stroke-width="0.8"/>
<line x1="360.8" y1="873.94" x2="666" y2="873.94" stroke="#ededed" stroke-width="0.8"/>
<line x1="360.8" y1="878.97" x2="666" y2="878.97" stroke="#ededed" stroke-width="0.8"/>
<line x1="360.8" y1="884" x2="666" y2="884" stroke="#ededed" stroke-width="0.8"/>
<line x1="360.8" y1="889.03" x2="666" y2="889.03" stroke="#ededed" stroke-width="0.8"/>
<line x1="360.8" y1="894.06" x2="666" y2="894.06" stroke="#ededed" stroke-width="0.8"/>
<line x1="360.8" y1="899.09" x2="666" y2="899.09" stroke="#ededed" stroke-width="0.8"/>
<line x1="360.8" y1="904.12" x2="666" y2="904.12" stroke="#ededed" stroke-width="0.8"/>
<line x1="360.8" y1="909.15" x2="666" y2="909.15" stroke="#ededed" stroke-width="0.8"/>
<line x1="360.8" y1="914.18" x2="666" y2="914.18" stroke="#ededed" stroke-width="0.8"/>
<line x1="360.8" y1="919.21" x2="666" y2="919.21" stroke="#ededed" stroke-width="0.8"/>
<line x1="360.8" y1="924.24" x2="666" y2="924.24" stroke="#ededed" stroke-width="0.8"/>
<line x1="360.8" y1="929.27" x2="666" y2="929.27" stroke="#ededed" stroke-width="0.8"/>
<rect x="374.7" y="808.56" width="1.6" height="5.03" fill="#FCD5B4"/>
<rect x="393.1" y="808.56" width="1.9" height="5.03" fill="#C5D9F1"/>
<rect x="450" y="808.56" width="1.4" height="5.03" fill="#C5D9F1"/>
<rect x="448.1" y="828.68" width="1.4" height="5.03" fill="#C5D9F1"/>
<rect x="391.7" y="833.71" width="3.3" height="5.03" fill="#C5D9F1"/>
<rect x="385.3" y="853.83" width="2.6" height="5.03" fill="#0070C0"/>
<rect x="391.1" y="853.83" width="2.6" height="5.03" fill="#C5D9F1"/>
<rect x="476.1" y="853.83" width="1.4" height="5.03" fill="#C5D9F1"/>
<rect x="514.2" y="853.83" width="3.1" height="5.03" fill="#C5D9F1"/>
<rect x="458.7" y="868.91" width="7.2" height="5.03" fill="#FCD5B4"/>
<rect x="389.2" y="873.94" width="1.4" height="5.03" fill="#C5D9F1"/>
<rect x="415.3" y="873.94" width="2.9" height="5.03" fill="#C5D9F1"/>
<rect x="459.3" y="873.94" width="5.8" height="5.03" fill="#FCD5B4"/>
<rect x="390.6" y="878.97" width="1.9" height="5.03" fill="#C5D9F1"/>
<rect x="454.9" y="894.06" width="5.8" height="5.03" fill="#F79646"/>
<rect x="460.7" y="894.06" width="1.9" height="5.03" fill="#FCD5B4"/>
<rect x="462.6" y="894.06" width="9.1" height="5.03" fill="#FCD5B4"/>
<rect x="391.1" y="904.12" width="1" height="5.03" fill="#C5D9F1"/>
<rect x="454.9" y="914.18" width="4.8" height="5.03" fill="#FCD5B4"/>
<rect x="471.3" y="914.18" width="2.3" height="5.03" fill="#FCD5B4"/>
<rect x="481.3" y="914.18" width="2.5" height="5.03" fill="#FCD5B4"/>
<rect x="454.3" y="919.21" width="6.4" height="5.03" fill="#FCD5B4"/>
<rect x="471.9" y="919.21" width="2.3" height="5.03" fill="#FCD5B4"/>
<rect x="368.9" y="929.27" width="1.6" height="5.03" fill="#F79646"/>
<rect x="537.8" y="798.5" width="1.2" height="5.03" fill="#FCD5B4"/>
<rect x="539.7" y="803.53" width="1.4" height="5.03" fill="#FCD5B4"/>
<rect x="537.8" y="808.56" width="3.9" height="5.03" fill="#FCD5B4"/>
<rect x="539.1" y="813.59" width="4.9" height="5.03" fill="#FCD5B4"/>
<rect x="523.1" y="828.68" width="1.9" height="5.03" fill="#C5D9F1"/>
<rect x="539.7" y="828.68" width="3.3" height="5.03" fill="#FCD5B4"/>
<rect x="548.8" y="828.68" width="1.3" height="5.03" fill="#FCD5B4"/>
<rect x="554" y="828.68" width="3.1" height="5.03" fill="#FCD5B4"/>
<rect x="541.1" y="833.71" width="1.3" height="5.03" fill="#FCD5B4"/>
<rect x="540.1" y="838.74" width="3.5" height="5.03" fill="#FCD5B4"/>
<rect x="539.7" y="848.8" width="3.3" height="5.03" fill="#FCD5B4"/>
<rect x="552.7" y="848.8" width="2.9" height="5.03" fill="#FCD5B4"/>
<rect x="538.2" y="853.83" width="1.5" height="5.03" fill="#FCD5B4"/>
<rect x="650.2" y="873.94" width="2.3" height="5.03" fill="#C5D9F1"/>
<rect x="660.8" y="873.94" width="2.9" height="5.03" fill="#C5D9F1"/>
<rect x="663.7" y="873.94" width="1.8" height="5.03" fill="#0070C0"/>
<rect x="575.3" y="878.97" width="6.3" height="5.03" fill="#FCD5B4"/>
<rect x="583.6" y="878.97" width="3.8" height="5.03" fill="#FCD5B4"/>
<rect x="585.5" y="894.06" width="1" height="5.03" fill="#FCD5B4"/>
<rect x="573" y="899.09" width="11.5" height="5.03" fill="#FCD5B4"/>
<rect x="584.5" y="899.09" width="2.9" height="5.03" fill="#F79646"/>
<rect x="587.4" y="899.09" width="4.8" height="5.03" fill="#FCD5B4"/>
<rect x="594.2" y="899.09" width="7.7" height="5.03" fill="#FCD5B4"/>
<rect x="575.3" y="904.12" width="12.1" height="5.03" fill="#FCD5B4"/>
<rect x="573.9" y="919.21" width="3.3" height="5.03" fill="#FCD5B4"/>
<rect x="584.9" y="919.21" width="1.9" height="5.03" fill="#FCD5B4"/>
<rect x="631.8" y="919.21" width="2" height="5.03" fill="#C5D9F1"/>
<rect x="649.8" y="919.21" width="3.9" height="5.03" fill="#C5D9F1"/>
<rect x="660.2" y="919.21" width="3.5" height="5.03" fill="#C5D9F1"/>
<rect x="547.8" y="924.24" width="2.9" height="5.03" fill="#C5D9F1"/>
<rect x="585.5" y="924.24" width="1" height="5.03" fill="#FCD5B4"/>
<rect x="547.8" y="929.27" width="2.9" height="5.03" fill="#C5D9F1"/>
<rect x="635.1" y="929.27" width="1.2" height="5.03" fill="#C5D9F1"/>
<rect x="650.2" y="929.27" width="1.1" height="5.03" fill="#C5D9F1"/>
<line x1="369.5" y1="803.53" x2="666" y2="803.53" stroke="rgba(200,200,200,0.35)" stroke-width="0.8"/>
<line x1="369.5" y1="808.56" x2="666" y2="808.56" stroke="rgba(200,200,200,0.35)" stroke-width="0.8"/>
<line x1="369.5" y1="813.59" x2="666" y2="813.59" stroke="rgba(200,200,200,0.35)" stroke-width="0.8"/>
<line x1="369.5" y1="818.62" x2="666" y2="818.62" stroke="rgba(200,200,200,0.35)" stroke-width="0.8"/>
<line x1="369.5" y1="823.65" x2="666" y2="823.65" stroke="rgba(200,200,200,0.35)" stroke-width="0.8"/>
<line x1="369.5" y1="828.68" x2="666" y2="828.68" stroke="rgba(200,200,200,0.35)" stroke-width="0.8"/>
<line x1="369.5" y1="833.71" x2="666" y2="833.71" stroke="rgba(200,200,200,0.35)" stroke-width="0.8"/>
<line x1="369.5" y1="838.74" x2="666" y2="838.74" stroke="rgba(200,200,200,0.35)" stroke-width="0.8"/>
<line x1="369.5" y1="843.77" x2="666" y2="843.77" stroke="rgba(200,200,200,0.35)" stroke-width="0.8"/>
<line x1="369.5" y1="848.8" x2="666" y2="848.8" stroke="rgba(200,200,200,0.35)" stroke-width="0.8"/>
<line x1="369.5" y1="853.83" x2="666" y2="853.83" stroke="rgba(200,200,200,0.35)" stroke-width="0.8"/>
<line x1="369.5" y1="858.86" x2="666" y2="858.86" stroke="rgba(200,200,200,0.35)" stroke-width="0.8"/>
<line x1="369.5" y1="863.89" x2="666" y2="863.89" stroke="rgba(200,200,200,0.35)" stroke-width="0.8"/>
<line x1="369.5" y1="868.91" x2="666" y2="868.91" stroke="rgba(200,200,200,0.35)" stroke-width="0.8"/>
<line x1="369.5" y1="873.94" x2="666" y2="873.94" stroke="rgba(200,200,200,0.35)" stroke-width="0.8"/>
<line x1="369.5" y1="878.97" x2="666" y2="878.97" stroke="rgba(200,200,200,0.35)" stroke-width="0.8"/>
<line x1="369.5" y1="884" x2="666" y2="884" stroke="rgba(200,200,200,0.35)" stroke-width="0.8"/>
<line x1="369.5" y1="889.03" x2="666" y2="889.03" stroke="rgba(200,200,200,0.35)" stroke-width="0.8"/>
<line x1="369.5" y1="894.06" x2="666" y2="894.06" stroke="rgba(200,200,200,0.35)" stroke-width="0.8"/>
<line x1="369.5" y1="899.09" x2="666" y2="899.09" stroke="rgba(200,200,200,0.35)" stroke-width="0.8"/>
<line x1="369.5" y1="904.12" x2="666" y2="904.12" stroke="rgba(200,200,200,0.35)" stroke-width="0.8"/>
<line x1="369.5" y1="909.15" x2="666" y2="909.15" stroke="rgba(200,200,200,0.35)" stroke-width="0.8"/>
<line x1="369.5" y1="914.18" x2="666" y2="914.18" stroke="rgba(200,200,200,0.35)" stroke-width="0.8"/>
<line x1="369.5" y1="919.21" x2="666" y2="919.21" stroke="rgba(200,200,200,0.35)" stroke-width="0.8"/>
<line x1="369.5" y1="924.24" x2="666" y2="924.24" stroke="rgba(200,200,200,0.35)" stroke-width="0.8"/>
<line x1="369.5" y1="929.27" x2="666" y2="929.27" stroke="rgba(200,200,200,0.35)" stroke-width="0.8"/>
<line x1="399.07" y1="798.5" x2="399.07" y2="934.3" stroke="#d6d6d6" stroke-width="1"/>
<line x1="428.64" y1="798.5" x2="428.64" y2="934.3" stroke="#777" stroke-width="1.0"/>
<line x1="458.21" y1="798.5" x2="458.21" y2="934.3" stroke="#d6d6d6" stroke-width="1"/>
<line x1="487.78" y1="798.5" x2="487.78" y2="934.3" stroke="#777" stroke-width="1.0"/>
<line x1="517.35" y1="798.5" x2="517.35" y2="934.3" stroke="#d6d6d6" stroke-width="1"/>
<line x1="546.92" y1="798.5" x2="546.92" y2="934.3" stroke="#777" stroke-width="1.0"/>
<line x1="576.49" y1="798.5" x2="576.49" y2="934.3" stroke="#d6d6d6" stroke-width="1"/>
<line x1="606.06" y1="798.5" x2="606.06" y2="934.3" stroke="#777" stroke-width="1.0"/>
<line x1="635.63" y1="798.5" x2="635.63" y2="934.3" stroke="#d6d6d6" stroke-width="1"/>
<rect x="473.05" y="803.68" width="10.82" height="4.73" fill="none" stroke="#4a4a4a" stroke-width="1.3" rx="0.6"/>
<rect x="518" y="813.74" width="10.53" height="4.73" fill="none" stroke="#4a4a4a" stroke-width="1.3" rx="0.6"/>
<rect x="473.05" y="823.8" width="10.82" height="9.76" fill="none" stroke="#4a4a4a" stroke-width="1.3" rx="0.6"/>
<rect x="473.05" y="843.92" width="10.82" height="9.76" fill="none" stroke="#4a4a4a" stroke-width="1.3" rx="0.6"/>
<rect x="544.32" y="848.95" width="10.82" height="4.73" fill="none" stroke="#4a4a4a" stroke-width="1.3" rx="0.6"/>
<rect x="428.7" y="859.01" width="10.82" height="4.73" fill="none" stroke="#4a4a4a" stroke-width="1.3" rx="0.6"/>
<rect x="447.03" y="859.01" width="10.53" height="4.73" fill="none" stroke="#4a4a4a" stroke-width="1.3" rx="0.6"/>
<rect x="473.05" y="869.06" width="10.82" height="4.73" fill="none" stroke="#4a4a4a" stroke-width="1.3" rx="0.6"/>
<rect x="544.32" y="869.06" width="10.82" height="9.76" fill="none" stroke="#4a4a4a" stroke-width="1.3" rx="0.6"/>
<rect x="428.7" y="879.12" width="10.82" height="9.76" fill="none" stroke="#4a4a4a" stroke-width="1.3" rx="0.6"/>
<rect x="447.03" y="879.12" width="10.53" height="9.76" fill="none" stroke="#4a4a4a" stroke-width="1.3" rx="0.6"/>
<rect x="518" y="823.8" width="10.53" height="75.14" fill="none" stroke="#4a4a4a" stroke-width="1.3" rx="0.6"/>
<rect x="544.32" y="889.18" width="10.82" height="9.76" fill="none" stroke="#4a4a4a" stroke-width="1.3" rx="0.6"/>
<rect x="428.7" y="904.27" width="10.82" height="4.73" fill="none" stroke="#4a4a4a" stroke-width="1.3" rx="0.6"/>
<rect x="518" y="904.27" width="10.53" height="19.82" fill="none" stroke="#4a4a4a" stroke-width="1.3" rx="0.6"/>
<line x1="369.5" y1="798.5" x2="369.5" y2="934.3" stroke="#555" stroke-width="1.2"/>
<text x="368.7" y="802.51" font-size="4.4" font-weight="bold" text-anchor="end" fill="#333">Fp1</text>
<text x="368.7" y="807.54" font-size="4.4" font-weight="bold" text-anchor="end" fill="#333">Fp2</text>
<text x="368.7" y="812.57" font-size="4.4" font-weight="bold" text-anchor="end" fill="#333">F7</text>
<text x="368.7" y="817.6" font-size="4.4" font-weight="bold" text-anchor="end" fill="#333">F3</text>
<text x="368.7" y="822.63" font-size="4.4" font-weight="bold" text-anchor="end" fill="#333">Fz</text>
<text x="368.7" y="827.66" font-size="4.4" font-weight="bold" text-anchor="end" fill="#333">F4</text>
<text x="368.7" y="832.69" font-size="4.4" font-weight="bold" text-anchor="end" fill="#333">F8</text>
<text x="368.7" y="837.72" font-size="4.4" font-weight="bold" text-anchor="end" fill="#333">FC5</text>
<text x="368.7" y="842.75" font-size="4.4" font-weight="bold" text-anchor="end" fill="#333">FC1</text>
<text x="368.7" y="847.78" font-size="4.4" font-weight="bold" text-anchor="end" fill="#333">FC2</text>
<text x="368.7" y="852.81" font-size="4.4" font-weight="bold" text-anchor="end" fill="#333">FC6</text>
<text x="368.7" y="857.84" font-size="4.4" font-weight="bold" text-anchor="end" fill="#333">T7</text>
<text x="368.7" y="862.87" font-size="4.4" font-weight="bold" text-anchor="end" fill="#333">C3</text>
<text x="368.7" y="867.9" font-size="4.4" font-weight="bold" text-anchor="end" fill="#333">Cz</text>
<text x="368.7" y="872.93" font-size="4.4" font-weight="bold" text-anchor="end" fill="#333">C4</text>
<text x="368.7" y="877.96" font-size="4.4" font-weight="bold" text-anchor="end" fill="#333">T8</text>
<text x="368.7" y="882.99" font-size="4.4" font-weight="bold" text-anchor="end" fill="#333">CP5</text>
<text x="368.7" y="888.02" font-size="4.4" font-weight="bold" text-anchor="end" fill="#333">CP1</text>
<text x="368.7" y="893.05" font-size="4.4" font-weight="bold" text-anchor="end" fill="#333">CP2</text>
<text x="368.7" y="898.08" font-size="4.4" font-weight="bold" text-anchor="end" fill="#333">CP6</text>
<text x="368.7" y="903.11" font-size="4.4" font-weight="bold" text-anchor="end" fill="#333">P7</text>
<text x="368.7" y="908.14" font-size="4.4" font-weight="bold" text-anchor="end" fill="#333">P3</text>
<text x="368.7" y="913.17" font-size="4.4" font-weight="bold" text-anchor="end" fill="#333">Pz</text>
<text x="368.7" y="918.2" font-size="4.4" font-weight="bold" text-anchor="end" fill="#333">P4</text>
<text x="368.7" y="923.23" font-size="4.4" font-weight="bold" text-anchor="end" fill="#333">P8</text>
<text x="368.7" y="928.26" font-size="4.4" font-weight="bold" text-anchor="end" fill="#333">O1</text>
<text x="368.7" y="933.29" font-size="4.4" font-weight="bold" text-anchor="end" fill="#333">O2</text>
<rect x="360.8" y="798.5" width="305.2" height="135.8" fill="none" stroke="#858585" stroke-width="1.4" rx="1.0"/>
<text transform="translate(48.13 0) scale(0.925 1)" x="0" y="977" font-size="22.05" fill="#111">ERP</text>
<text transform="translate(90.42 0) scale(0.955 1)" x="0" y="981.6" font-size="14.4" fill="#3a3a3a">comp</text>
<text transform="translate(130.05 0) scale(0.955 1)" x="0" y="976" font-size="17.32" fill="#222">×</text>
<text transform="translate(148.36 0) scale(0.925 1)" x="0" y="977" font-size="22.05" fill="#111">AV</text>
<text transform="translate(172.59 0) scale(0.955 1)" x="0" y="981.6" font-size="14.4" fill="#3a3a3a">noise</text>
<text transform="translate(209.13 0) scale(0.925 1)" x="0" y="977" font-size="22.05" fill="#111">c</text>
<rect x="49.8" y="985.9" width="304.1" height="135.5" fill="#fff"/>
<line x1="49.8" y1="990.92" x2="353.9" y2="990.92" stroke="#ededed" stroke-width="0.8"/>
<line x1="49.8" y1="995.94" x2="353.9" y2="995.94" stroke="#ededed" stroke-width="0.8"/>
<line x1="49.8" y1="1000.96" x2="353.9" y2="1000.96" stroke="#ededed" stroke-width="0.8"/>
<line x1="49.8" y1="1005.97" x2="353.9" y2="1005.97" stroke="#ededed" stroke-width="0.8"/>
<line x1="49.8" y1="1010.99" x2="353.9" y2="1010.99" stroke="#ededed" stroke-width="0.8"/>
<line x1="49.8" y1="1016.01" x2="353.9" y2="1016.01" stroke="#ededed" stroke-width="0.8"/>
<line x1="49.8" y1="1021.03" x2="353.9" y2="1021.03" stroke="#ededed" stroke-width="0.8"/>
<line x1="49.8" y1="1026.05" x2="353.9" y2="1026.05" stroke="#ededed" stroke-width="0.8"/>
<line x1="49.8" y1="1031.07" x2="353.9" y2="1031.07" stroke="#ededed" stroke-width="0.8"/>
<line x1="49.8" y1="1036.09" x2="353.9" y2="1036.09" stroke="#ededed" stroke-width="0.8"/>
<line x1="49.8" y1="1041.1" x2="353.9" y2="1041.1" stroke="#ededed" stroke-width="0.8"/>
<line x1="49.8" y1="1046.12" x2="353.9" y2="1046.12" stroke="#ededed" stroke-width="0.8"/>
<line x1="49.8" y1="1051.14" x2="353.9" y2="1051.14" stroke="#ededed" stroke-width="0.8"/>
<line x1="49.8" y1="1056.16" x2="353.9" y2="1056.16" stroke="#ededed" stroke-width="0.8"/>
<line x1="49.8" y1="1061.18" x2="353.9" y2="1061.18" stroke="#ededed" stroke-width="0.8"/>
<line x1="49.8" y1="1066.2" x2="353.9" y2="1066.2" stroke="#ededed" stroke-width="0.8"/>
<line x1="49.8" y1="1071.21" x2="353.9" y2="1071.21" stroke="#ededed" stroke-width="0.8"/>
<line x1="49.8" y1="1076.23" x2="353.9" y2="1076.23" stroke="#ededed" stroke-width="0.8"/>
<line x1="49.8" y1="1081.25" x2="353.9" y2="1081.25" stroke="#ededed" stroke-width="0.8"/>
<line x1="49.8" y1="1086.27" x2="353.9" y2="1086.27" stroke="#ededed" stroke-width="0.8"/>
<line x1="49.8" y1="1091.29" x2="353.9" y2="1091.29" stroke="#ededed" stroke-width="0.8"/>
<line x1="49.8" y1="1096.31" x2="353.9" y2="1096.31" stroke="#ededed" stroke-width="0.8"/>
<line x1="49.8" y1="1101.33" x2="353.9" y2="1101.33" stroke="#ededed" stroke-width="0.8"/>
<line x1="49.8" y1="1106.34" x2="353.9" y2="1106.34" stroke="#ededed" stroke-width="0.8"/>
<line x1="49.8" y1="1111.36" x2="353.9" y2="1111.36" stroke="#ededed" stroke-width="0.8"/>
<line x1="49.8" y1="1116.38" x2="353.9" y2="1116.38" stroke="#ededed" stroke-width="0.8"/>
<rect x="81.1" y="990.92" width="1.2" height="5.02" fill="#FCD5B4"/>
<rect x="120.7" y="995.94" width="3.3" height="5.02" fill="#F79646"/>
<rect x="126.5" y="995.94" width="6.8" height="5.02" fill="#FCD5B4"/>
<rect x="159.3" y="1000.96" width="1" height="5.02" fill="#FCD5B4"/>
<rect x="82.1" y="1010.99" width="1.3" height="5.02" fill="#FCD5B4"/>
<rect x="80.7" y="1016.01" width="1.4" height="5.02" fill="#FCD5B4"/>
<rect x="117.4" y="1021.03" width="13" height="5.02" fill="#FCD5B4"/>
<rect x="131.9" y="1021.03" width="1" height="5.02" fill="#FCD5B4"/>
<rect x="159.9" y="1021.03" width="1.4" height="5.02" fill="#FCD5B4"/>
<rect x="81.5" y="1036.09" width="1.9" height="5.02" fill="#FCD5B4"/>
<rect x="117.8" y="1041.1" width="4.8" height="5.02" fill="#FCD5B4"/>
<rect x="127.1" y="1041.1" width="1.9" height="5.02" fill="#FCD5B4"/>
<rect x="135.6" y="1041.1" width="1.1" height="5.02" fill="#FCD5B4"/>
<rect x="140.6" y="1056.16" width="8.1" height="5.02" fill="#C5D9F1"/>
<rect x="79.2" y="1061.18" width="4.2" height="5.02" fill="#F79646"/>
<rect x="142.5" y="1071.21" width="5.2" height="5.02" fill="#C5D9F1"/>
<rect x="142.5" y="1076.23" width="5.8" height="5.02" fill="#0070C0"/>
<rect x="141" y="1081.25" width="2.3" height="5.02" fill="#C5D9F1"/>
<rect x="143.3" y="1081.25" width="3.9" height="5.02" fill="#0070C0"/>
<rect x="130.4" y="1086.27" width="2.5" height="5.02" fill="#FCD5B4"/>
<rect x="134.2" y="1086.27" width="1" height="5.02" fill="#FCD5B4"/>
<rect x="179.6" y="1086.27" width="4.2" height="5.02" fill="#FCD5B4"/>
<rect x="200.5" y="1086.27" width="5.4" height="5.02" fill="#FCD5B4"/>
<rect x="141.9" y="1091.29" width="4.9" height="5.02" fill="#C5D9F1"/>
<rect x="146.8" y="1091.29" width="2.3" height="5.02" fill="#0070C0"/>
<rect x="149.1" y="1091.29" width="4.4" height="5.02" fill="#C5D9F1"/>
<rect x="142.5" y="1096.31" width="6.2" height="5.02" fill="#0070C0"/>
<rect x="148.7" y="1096.31" width="2.3" height="5.02" fill="#C5D9F1"/>
<rect x="141" y="1101.33" width="7.3" height="5.02" fill="#0070C0"/>
<rect x="87.9" y="1106.34" width="4.8" height="5.02" fill="#FCD5B4"/>
<rect x="197.4" y="1106.34" width="1.5" height="5.02" fill="#FCD5B4"/>
<rect x="130.9" y="1111.36" width="1" height="5.02" fill="#FCD5B4"/>
<rect x="88.4" y="1116.38" width="1.4" height="5.02" fill="#FCD5B4"/>
<rect x="94.2" y="1116.38" width="1.4" height="5.02" fill="#FCD5B4"/>
<rect x="173.8" y="1116.38" width="4.8" height="5.02" fill="#FCD5B4"/>
<rect x="233" y="1026.05" width="2.3" height="5.02" fill="#C5D9F1"/>
<rect x="234.5" y="1031.07" width="1.2" height="5.02" fill="#C5D9F1"/>
<rect x="241.7" y="1036.09" width="2.5" height="5.02" fill="#C5D9F1"/>
<rect x="222.3" y="1061.18" width="1" height="5.02" fill="#C5D9F1"/>
<rect x="240.7" y="1061.18" width="2.9" height="5.02" fill="#0070C0"/>
<rect x="266.8" y="1076.23" width="0.9" height="5.02" fill="#C5D9F1"/>
<rect x="265.4" y="1081.25" width="3.3" height="5.02" fill="#C5D9F1"/>
<rect x="319.9" y="1086.27" width="1.9" height="5.02" fill="#FCD5B4"/>
<rect x="327.6" y="1086.27" width="1.9" height="5.02" fill="#FCD5B4"/>
<rect x="329.5" y="1086.27" width="3.9" height="5.02" fill="#F79646"/>
<rect x="333.4" y="1086.27" width="1.9" height="5.02" fill="#FCD5B4"/>
<rect x="349.8" y="1086.27" width="3.9" height="5.02" fill="#FCD5B4"/>
<rect x="265.8" y="1096.31" width="8.7" height="5.02" fill="#C5D9F1"/>
<rect x="265.8" y="1101.33" width="3.9" height="5.02" fill="#C5D9F1"/>
<rect x="271.2" y="1101.33" width="1.9" height="5.02" fill="#C5D9F1"/>
<rect x="319.5" y="1111.36" width="1.3" height="5.02" fill="#FCD5B4"/>
<rect x="327.6" y="1111.36" width="7.7" height="5.02" fill="#FCD5B4"/>
<rect x="318" y="1116.38" width="3.4" height="5.02" fill="#FCD5B4"/>
<rect x="334.4" y="1116.38" width="2.9" height="5.02" fill="#FCD5B4"/>
<rect x="352.7" y="1116.38" width="1" height="5.02" fill="#FCD5B4"/>
<line x1="58.3" y1="990.92" x2="353.9" y2="990.92" stroke="rgba(200,200,200,0.35)" stroke-width="0.8"/>
<line x1="58.3" y1="995.94" x2="353.9" y2="995.94" stroke="rgba(200,200,200,0.35)" stroke-width="0.8"/>
<line x1="58.3" y1="1000.96" x2="353.9" y2="1000.96" stroke="rgba(200,200,200,0.35)" stroke-width="0.8"/>
<line x1="58.3" y1="1005.97" x2="353.9" y2="1005.97" stroke="rgba(200,200,200,0.35)" stroke-width="0.8"/>
<line x1="58.3" y1="1010.99" x2="353.9" y2="1010.99" stroke="rgba(200,200,200,0.35)" stroke-width="0.8"/>
<line x1="58.3" y1="1016.01" x2="353.9" y2="1016.01" stroke="rgba(200,200,200,0.35)" stroke-width="0.8"/>
<line x1="58.3" y1="1021.03" x2="353.9" y2="1021.03" stroke="rgba(200,200,200,0.35)" stroke-width="0.8"/>
<line x1="58.3" y1="1026.05" x2="353.9" y2="1026.05" stroke="rgba(200,200,200,0.35)" stroke-width="0.8"/>
<line x1="58.3" y1="1031.07" x2="353.9" y2="1031.07" stroke="rgba(200,200,200,0.35)" stroke-width="0.8"/>
<line x1="58.3" y1="1036.09" x2="353.9" y2="1036.09" stroke="rgba(200,200,200,0.35)" stroke-width="0.8"/>
<line x1="58.3" y1="1041.1" x2="353.9" y2="1041.1" stroke="rgba(200,200,200,0.35)" stroke-width="0.8"/>
<line x1="58.3" y1="1046.12" x2="353.9" y2="1046.12" stroke="rgba(200,200,200,0.35)" stroke-width="0.8"/>
<line x1="58.3" y1="1051.14" x2="353.9" y2="1051.14" stroke="rgba(200,200,200,0.35)" stroke-width="0.8"/>
<line x1="58.3" y1="1056.16" x2="353.9" y2="1056.16" stroke="rgba(200,200,200,0.35)" stroke-width="0.8"/>
<line x1="58.3" y1="1061.18" x2="353.9" y2="1061.18" stroke="rgba(200,200,200,0.35)" stroke-width="0.8"/>
<line x1="58.3" y1="1066.2" x2="353.9" y2="1066.2" stroke="rgba(200,200,200,0.35)" stroke-width="0.8"/>
<line x1="58.3" y1="1071.21" x2="353.9" y2="1071.21" stroke="rgba(200,200,200,0.35)" stroke-width="0.8"/>
<line x1="58.3" y1="1076.23" x2="353.9" y2="1076.23" stroke="rgba(200,200,200,0.35)" stroke-width="0.8"/>
<line x1="58.3" y1="1081.25" x2="353.9" y2="1081.25" stroke="rgba(200,200,200,0.35)" stroke-width="0.8"/>
<line x1="58.3" y1="1086.27" x2="353.9" y2="1086.27" stroke="rgba(200,200,200,0.35)" stroke-width="0.8"/>
<line x1="58.3" y1="1091.29" x2="353.9" y2="1091.29" stroke="rgba(200,200,200,0.35)" stroke-width="0.8"/>
<line x1="58.3" y1="1096.31" x2="353.9" y2="1096.31" stroke="rgba(200,200,200,0.35)" stroke-width="0.8"/>
<line x1="58.3" y1="1101.33" x2="353.9" y2="1101.33" stroke="rgba(200,200,200,0.35)" stroke-width="0.8"/>
<line x1="58.3" y1="1106.34" x2="353.9" y2="1106.34" stroke="rgba(200,200,200,0.35)" stroke-width="0.8"/>
<line x1="58.3" y1="1111.36" x2="353.9" y2="1111.36" stroke="rgba(200,200,200,0.35)" stroke-width="0.8"/>
<line x1="58.3" y1="1116.38" x2="353.9" y2="1116.38" stroke="rgba(200,200,200,0.35)" stroke-width="0.8"/>
<line x1="87.87" y1="985.9" x2="87.87" y2="1121.4" stroke="#d6d6d6" stroke-width="1"/>
<line x1="117.44" y1="985.9" x2="117.44" y2="1121.4" stroke="#777" stroke-width="1.0"/>
<line x1="147.01" y1="985.9" x2="147.01" y2="1121.4" stroke="#d6d6d6" stroke-width="1"/>
<line x1="176.58" y1="985.9" x2="176.58" y2="1121.4" stroke="#777" stroke-width="1.0"/>
<line x1="206.15" y1="985.9" x2="206.15" y2="1121.4" stroke="#d6d6d6" stroke-width="1"/>
<line x1="235.72" y1="985.9" x2="235.72" y2="1121.4" stroke="#777" stroke-width="1.0"/>
<line x1="265.29" y1="985.9" x2="265.29" y2="1121.4" stroke="#d6d6d6" stroke-width="1"/>
<line x1="294.86" y1="985.9" x2="294.86" y2="1121.4" stroke="#777" stroke-width="1.0"/>
<line x1="324.43" y1="985.9" x2="324.43" y2="1121.4" stroke="#d6d6d6" stroke-width="1"/>
<rect x="161.85" y="991.07" width="10.82" height="4.72" fill="none" stroke="#4a4a4a" stroke-width="1.3" rx="0.6"/>
<rect x="206.8" y="1001.11" width="10.53" height="4.72" fill="none" stroke="#4a4a4a" stroke-width="1.3" rx="0.6"/>
<rect x="161.85" y="1011.14" width="10.82" height="9.74" fill="none" stroke="#4a4a4a" stroke-width="1.3" rx="0.6"/>
<rect x="161.85" y="1031.22" width="10.82" height="9.74" fill="none" stroke="#4a4a4a" stroke-width="1.3" rx="0.6"/>
<rect x="233.12" y="1036.24" width="10.82" height="4.72" fill="none" stroke="#4a4a4a" stroke-width="1.3" rx="0.6"/>
<rect x="117.5" y="1046.27" width="10.82" height="4.72" fill="none" stroke="#4a4a4a" stroke-width="1.3" rx="0.6"/>
<rect x="135.83" y="1046.27" width="10.53" height="4.72" fill="none" stroke="#4a4a4a" stroke-width="1.3" rx="0.6"/>
<rect x="161.85" y="1056.31" width="10.82" height="4.72" fill="none" stroke="#4a4a4a" stroke-width="1.3" rx="0.6"/>
<rect x="233.12" y="1056.31" width="10.82" height="9.74" fill="none" stroke="#4a4a4a" stroke-width="1.3" rx="0.6"/>
<rect x="117.5" y="1066.35" width="10.82" height="9.74" fill="none" stroke="#4a4a4a" stroke-width="1.3" rx="0.6"/>
<rect x="135.83" y="1066.35" width="10.53" height="9.74" fill="none" stroke="#4a4a4a" stroke-width="1.3" rx="0.6"/>
<rect x="206.8" y="1011.14" width="10.53" height="74.98" fill="none" stroke="#4a4a4a" stroke-width="1.3" rx="0.6"/>
<rect x="233.12" y="1076.38" width="10.82" height="9.74" fill="none" stroke="#4a4a4a" stroke-width="1.3" rx="0.6"/>
<rect x="117.5" y="1091.44" width="10.82" height="4.72" fill="none" stroke="#4a4a4a" stroke-width="1.3" rx="0.6"/>
<rect x="206.8" y="1091.44" width="10.53" height="19.77" fill="none" stroke="#4a4a4a" stroke-width="1.3" rx="0.6"/>
<line x1="58.3" y1="985.9" x2="58.3" y2="1121.4" stroke="#555" stroke-width="1.2"/>
<text x="57.5" y="989.91" font-size="4.4" font-weight="bold" text-anchor="end" fill="#333">Fp1</text>
<text x="57.5" y="994.93" font-size="4.4" font-weight="bold" text-anchor="end" fill="#333">Fp2</text>
<text x="57.5" y="999.95" font-size="4.4" font-weight="bold" text-anchor="end" fill="#333">F7</text>
<text x="57.5" y="1004.96" font-size="4.4" font-weight="bold" text-anchor="end" fill="#333">F3</text>
<text x="57.5" y="1009.98" font-size="4.4" font-weight="bold" text-anchor="end" fill="#333">Fz</text>
<text x="57.5" y="1015" font-size="4.4" font-weight="bold" text-anchor="end" fill="#333">F4</text>
<text x="57.5" y="1020.02" font-size="4.4" font-weight="bold" text-anchor="end" fill="#333">F8</text>
<text x="57.5" y="1025.04" font-size="4.4" font-weight="bold" text-anchor="end" fill="#333">FC5</text>
<text x="57.5" y="1030.06" font-size="4.4" font-weight="bold" text-anchor="end" fill="#333">FC1</text>
<text x="57.5" y="1035.08" font-size="4.4" font-weight="bold" text-anchor="end" fill="#333">FC2</text>
<text x="57.5" y="1040.09" font-size="4.4" font-weight="bold" text-anchor="end" fill="#333">FC6</text>
<text x="57.5" y="1045.11" font-size="4.4" font-weight="bold" text-anchor="end" fill="#333">T7</text>
<text x="57.5" y="1050.13" font-size="4.4" font-weight="bold" text-anchor="end" fill="#333">C3</text>
<text x="57.5" y="1055.15" font-size="4.4" font-weight="bold" text-anchor="end" fill="#333">Cz</text>
<text x="57.5" y="1060.17" font-size="4.4" font-weight="bold" text-anchor="end" fill="#333">C4</text>
<text x="57.5" y="1065.19" font-size="4.4" font-weight="bold" text-anchor="end" fill="#333">T8</text>
<text x="57.5" y="1070.21" font-size="4.4" font-weight="bold" text-anchor="end" fill="#333">CP5</text>
<text x="57.5" y="1075.22" font-size="4.4" font-weight="bold" text-anchor="end" fill="#333">CP1</text>
<text x="57.5" y="1080.24" font-size="4.4" font-weight="bold" text-anchor="end" fill="#333">CP2</text>
<text x="57.5" y="1085.26" font-size="4.4" font-weight="bold" text-anchor="end" fill="#333">CP6</text>
<text x="57.5" y="1090.28" font-size="4.4" font-weight="bold" text-anchor="end" fill="#333">P7</text>
<text x="57.5" y="1095.3" font-size="4.4" font-weight="bold" text-anchor="end" fill="#333">P3</text>
<text x="57.5" y="1100.32" font-size="4.4" font-weight="bold" text-anchor="end" fill="#333">Pz</text>
<text x="57.5" y="1105.34" font-size="4.4" font-weight="bold" text-anchor="end" fill="#333">P4</text>
<text x="57.5" y="1110.35" font-size="4.4" font-weight="bold" text-anchor="end" fill="#333">P8</text>
<text x="57.5" y="1115.37" font-size="4.4" font-weight="bold" text-anchor="end" fill="#333">O1</text>
<text x="57.5" y="1120.39" font-size="4.4" font-weight="bold" text-anchor="end" fill="#333">O2</text>
<rect x="49.8" y="985.9" width="304.1" height="135.5" fill="none" stroke="#858585" stroke-width="1.4" rx="1.0"/>
<text transform="translate(358.33 0) scale(0.925 1)" x="0" y="977" font-size="22.05" fill="#111">ERP</text>
<text transform="translate(400.62 0) scale(0.955 1)" x="0" y="981.6" font-size="14.4" fill="#3a3a3a">comp</text>
<text transform="translate(440.25 0) scale(0.955 1)" x="0" y="976" font-size="17.32" fill="#222">×</text>
<text transform="translate(458.56 0) scale(0.925 1)" x="0" y="977" font-size="22.05" fill="#111">AV</text>
<text transform="translate(482.79 0) scale(0.955 1)" x="0" y="981.6" font-size="14.4" fill="#3a3a3a">noise</text>
<text transform="translate(520.34 0) scale(0.925 1)" x="0" y="977" font-size="22.05" fill="#111">d´</text>
<rect x="360.9" y="986.3" width="304.2" height="136.1" fill="#fff"/>
<line x1="360.9" y1="991.34" x2="665.1" y2="991.34" stroke="#ededed" stroke-width="0.8"/>
<line x1="360.9" y1="996.38" x2="665.1" y2="996.38" stroke="#ededed" stroke-width="0.8"/>
<line x1="360.9" y1="1001.42" x2="665.1" y2="1001.42" stroke="#ededed" stroke-width="0.8"/>
<line x1="360.9" y1="1006.46" x2="665.1" y2="1006.46" stroke="#ededed" stroke-width="0.8"/>
<line x1="360.9" y1="1011.5" x2="665.1" y2="1011.5" stroke="#ededed" stroke-width="0.8"/>
<line x1="360.9" y1="1016.54" x2="665.1" y2="1016.54" stroke="#ededed" stroke-width="0.8"/>
<line x1="360.9" y1="1021.59" x2="665.1" y2="1021.59" stroke="#ededed" stroke-width="0.8"/>
<line x1="360.9" y1="1026.63" x2="665.1" y2="1026.63" stroke="#ededed" stroke-width="0.8"/>
<line x1="360.9" y1="1031.67" x2="665.1" y2="1031.67" stroke="#ededed" stroke-width="0.8"/>
<line x1="360.9" y1="1036.71" x2="665.1" y2="1036.71" stroke="#ededed" stroke-width="0.8"/>
<line x1="360.9" y1="1041.75" x2="665.1" y2="1041.75" stroke="#ededed" stroke-width="0.8"/>
<line x1="360.9" y1="1046.79" x2="665.1" y2="1046.79" stroke="#ededed" stroke-width="0.8"/>
<line x1="360.9" y1="1051.83" x2="665.1" y2="1051.83" stroke="#ededed" stroke-width="0.8"/>
<line x1="360.9" y1="1056.87" x2="665.1" y2="1056.87" stroke="#ededed" stroke-width="0.8"/>
<line x1="360.9" y1="1061.91" x2="665.1" y2="1061.91" stroke="#ededed" stroke-width="0.8"/>
<line x1="360.9" y1="1066.95" x2="665.1" y2="1066.95" stroke="#ededed" stroke-width="0.8"/>
<line x1="360.9" y1="1071.99" x2="665.1" y2="1071.99" stroke="#ededed" stroke-width="0.8"/>
<line x1="360.9" y1="1077.03" x2="665.1" y2="1077.03" stroke="#ededed" stroke-width="0.8"/>
<line x1="360.9" y1="1082.07" x2="665.1" y2="1082.07" stroke="#ededed" stroke-width="0.8"/>
<line x1="360.9" y1="1087.11" x2="665.1" y2="1087.11" stroke="#ededed" stroke-width="0.8"/>
<line x1="360.9" y1="1092.16" x2="665.1" y2="1092.16" stroke="#ededed" stroke-width="0.8"/>
<line x1="360.9" y1="1097.2" x2="665.1" y2="1097.2" stroke="#ededed" stroke-width="0.8"/>
<line x1="360.9" y1="1102.24" x2="665.1" y2="1102.24" stroke="#ededed" stroke-width="0.8"/>
<line x1="360.9" y1="1107.28" x2="665.1" y2="1107.28" stroke="#ededed" stroke-width="0.8"/>
<line x1="360.9" y1="1112.32" x2="665.1" y2="1112.32" stroke="#ededed" stroke-width="0.8"/>
<line x1="360.9" y1="1117.36" x2="665.1" y2="1117.36" stroke="#ededed" stroke-width="0.8"/>
<rect x="407.1" y="986.3" width="2.9" height="5.04" fill="#C5D9F1"/>
<rect x="397.9" y="991.34" width="1" height="5.04" fill="#C5D9F1"/>
<rect x="405.1" y="991.34" width="4.9" height="5.04" fill="#C5D9F1"/>
<rect x="383.2" y="996.38" width="3.9" height="5.04" fill="#C5D9F1"/>
<rect x="401.6" y="996.38" width="2.6" height="5.04" fill="#0070C0"/>
<rect x="384.2" y="1001.42" width="0.8" height="5.04" fill="#C5D9F1"/>
<rect x="402" y="1001.42" width="8.9" height="5.04" fill="#C5D9F1"/>
<rect x="402" y="1006.46" width="8.9" height="5.04" fill="#C5D9F1"/>
<rect x="382.3" y="1011.5" width="2.3" height="5.04" fill="#C5D9F1"/>
<rect x="402.2" y="1011.5" width="0.8" height="5.04" fill="#C5D9F1"/>
<rect x="402.9" y="1011.5" width="6.4" height="5.04" fill="#0070C0"/>
<rect x="389" y="1016.54" width="1.2" height="5.04" fill="#C5D9F1"/>
<rect x="396.9" y="1016.54" width="2.5" height="5.04" fill="#C5D9F1"/>
<rect x="402.9" y="1016.54" width="2.7" height="5.04" fill="#0070C0"/>
<rect x="405.6" y="1016.54" width="2.9" height="5.04" fill="#C5D9F1"/>
<rect x="408.5" y="1016.54" width="3.4" height="5.04" fill="#0070C0"/>
<rect x="408" y="1021.59" width="2.9" height="5.04" fill="#C5D9F1"/>
<rect x="400.8" y="1026.63" width="10.1" height="5.04" fill="#C5D9F1"/>
<rect x="402.7" y="1031.67" width="1.5" height="5.04" fill="#C5D9F1"/>
<rect x="404.2" y="1031.67" width="5.3" height="5.04" fill="#0070C0"/>
<rect x="409.5" y="1031.67" width="1.9" height="5.04" fill="#C5D9F1"/>
<rect x="381" y="1036.71" width="3.9" height="5.04" fill="#C5D9F1"/>
<rect x="399.4" y="1036.71" width="3.3" height="5.04" fill="#C5D9F1"/>
<rect x="402.9" y="1036.71" width="8" height="5.04" fill="#0070C0"/>
<rect x="414.8" y="1036.71" width="2.2" height="5.04" fill="#C5D9F1"/>
<rect x="438.3" y="1041.75" width="5.6" height="5.04" fill="#FCD5B4"/>
<rect x="402.2" y="1046.79" width="6.3" height="5.04" fill="#C5D9F1"/>
<rect x="402.2" y="1051.83" width="8.7" height="5.04" fill="#C5D9F1"/>
<rect x="402.5" y="1056.87" width="8.4" height="5.04" fill="#0070C0"/>
<rect x="401.8" y="1061.91" width="4.3" height="5.04" fill="#0070C0"/>
<rect x="406.1" y="1061.91" width="2.9" height="5.04" fill="#C5D9F1"/>
<rect x="409" y="1061.91" width="5.3" height="5.04" fill="#0070C0"/>
<rect x="414.3" y="1061.91" width="2.7" height="5.04" fill="#C5D9F1"/>
<rect x="439" y="1061.91" width="3.3" height="5.04" fill="#FCD5B4"/>
<rect x="435.1" y="1066.95" width="4.3" height="5.04" fill="#FCD5B4"/>
<rect x="403.5" y="1071.99" width="5" height="5.04" fill="#C5D9F1"/>
<rect x="402.7" y="1077.03" width="6.8" height="5.04" fill="#C5D9F1"/>
<rect x="402.7" y="1082.07" width="2.2" height="5.04" fill="#0070C0"/>
<rect x="404.9" y="1082.07" width="7" height="5.04" fill="#C5D9F1"/>
<rect x="414.3" y="1087.11" width="2.9" height="5.04" fill="#FCD5B4"/>
<rect x="372" y="1107.28" width="1.8" height="5.04" fill="#C5D9F1"/>
<rect x="379.4" y="1117.36" width="2.6" height="5.04" fill="#FCD5B4"/>
<rect x="509.6" y="986.3" width="2.9" height="5.04" fill="#FCD5B4"/>
<rect x="510.5" y="991.34" width="6.4" height="5.04" fill="#F79646"/>
<rect x="512" y="996.38" width="1.9" height="5.04" fill="#FCD5B4"/>
<rect x="514.4" y="996.38" width="2.6" height="5.04" fill="#FCD5B4"/>
<rect x="510" y="1001.42" width="7" height="5.04" fill="#F79646"/>
<rect x="477.7" y="1006.46" width="1.9" height="5.04" fill="#FCD5B4"/>
<rect x="507.6" y="1006.46" width="1.5" height="5.04" fill="#FCD5B4"/>
<rect x="509.1" y="1006.46" width="7.9" height="5.04" fill="#F79646"/>
<rect x="509.6" y="1011.5" width="7.4" height="5.04" fill="#F79646"/>
<rect x="476.2" y="1016.54" width="2" height="5.04" fill="#FCD5B4"/>
<rect x="511.5" y="1016.54" width="5.5" height="5.04" fill="#F79646"/>
<rect x="508.6" y="1021.59" width="8.4" height="5.04" fill="#FCD5B4"/>
<rect x="506.7" y="1026.63" width="1.9" height="5.04" fill="#FCD5B4"/>
<rect x="508.6" y="1026.63" width="8.4" height="5.04" fill="#F79646"/>
<rect x="505.7" y="1031.67" width="1.9" height="5.04" fill="#FCD5B4"/>
<rect x="507.6" y="1031.67" width="9.4" height="5.04" fill="#F79646"/>
<rect x="507.6" y="1036.71" width="1.5" height="5.04" fill="#FCD5B4"/>
<rect x="509.1" y="1036.71" width="7.9" height="5.04" fill="#F79646"/>
<rect x="465.6" y="1041.75" width="2.9" height="5.04" fill="#FCD5B4"/>
<rect x="509.6" y="1041.75" width="7.4" height="5.04" fill="#FCD5B4"/>
<rect x="506.7" y="1046.79" width="10.3" height="5.04" fill="#FCD5B4"/>
<rect x="492.2" y="1051.83" width="1.4" height="5.04" fill="#FCD5B4"/>
<rect x="506.7" y="1051.83" width="1.9" height="5.04" fill="#FCD5B4"/>
<rect x="508.6" y="1051.83" width="2.4" height="5.04" fill="#F79646"/>
<rect x="511" y="1051.83" width="6" height="5.04" fill="#FCD5B4"/>
<rect x="506.7" y="1056.87" width="1.9" height="5.04" fill="#FCD5B4"/>
<rect x="508.6" y="1056.87" width="2.4" height="5.04" fill="#F79646"/>
<rect x="511" y="1056.87" width="6" height="5.04" fill="#FCD5B4"/>
<rect x="441" y="1061.91" width="1" height="5.04" fill="#FCD5B4"/>
<rect x="465.9" y="1061.91" width="5.8" height="5.04" fill="#FCD5B4"/>
<rect x="485.4" y="1061.91" width="1.5" height="5.04" fill="#FCD5B4"/>
<rect x="503.3" y="1061.91" width="1.9" height="5.04" fill="#F79646"/>
<rect x="505.2" y="1061.91" width="3.4" height="5.04" fill="#FCD5B4"/>
<rect x="508.6" y="1061.91" width="5.3" height="5.04" fill="#F79646"/>
<rect x="513.9" y="1061.91" width="11.7" height="5.04" fill="#FCD5B4"/>
<rect x="492.4" y="1066.95" width="1.2" height="5.04" fill="#FCD5B4"/>
<rect x="492" y="1071.99" width="2.1" height="5.04" fill="#FCD5B4"/>
<rect x="507.4" y="1071.99" width="2.4" height="5.04" fill="#FCD5B4"/>
<rect x="480.1" y="1077.03" width="1.3" height="5.04" fill="#FCD5B4"/>
<rect x="490.3" y="1077.03" width="4.3" height="5.04" fill="#FCD5B4"/>
<rect x="506.2" y="1077.03" width="4.8" height="5.04" fill="#FCD5B4"/>
<rect x="477.2" y="1082.07" width="8.2" height="5.04" fill="#FCD5B4"/>
<rect x="488.3" y="1082.07" width="6.8" height="5.04" fill="#FCD5B4"/>
<rect x="505.8" y="1082.07" width="2.3" height="5.04" fill="#FCD5B4"/>
<rect x="508.1" y="1082.07" width="2.4" height="5.04" fill="#F79646"/>
<rect x="492.2" y="1097.2" width="1.4" height="5.04" fill="#FCD5B4"/>
<rect x="478.2" y="1102.24" width="4.3" height="5.04" fill="#F79646"/>
<rect x="482.5" y="1102.24" width="2.5" height="5.04" fill="#FCD5B4"/>
<rect x="488.8" y="1102.24" width="1.9" height="5.04" fill="#FCD5B4"/>
<rect x="490.7" y="1102.24" width="3.2" height="5.04" fill="#F79646"/>
<rect x="507.2" y="1102.24" width="1.9" height="5.04" fill="#FCD5B4"/>
<rect x="476.5" y="1107.28" width="5.5" height="5.04" fill="#FCD5B4"/>
<rect x="491.2" y="1107.28" width="2.7" height="5.04" fill="#FCD5B4"/>
<rect x="499.9" y="1107.28" width="1.5" height="5.04" fill="#FCD5B4"/>
<rect x="517.9" y="986.3" width="1.9" height="5.04" fill="#FCD5B4"/>
<rect x="519.8" y="986.3" width="2.4" height="5.04" fill="#F79646"/>
<rect x="522.2" y="986.3" width="3.4" height="5.04" fill="#FCD5B4"/>
<rect x="515" y="991.34" width="1.9" height="5.04" fill="#F79646"/>
<rect x="516.9" y="991.34" width="11.1" height="5.04" fill="#FCD5B4"/>
<rect x="524.7" y="996.38" width="3.3" height="5.04" fill="#FCD5B4"/>
<rect x="557.5" y="996.38" width="1.9" height="5.04" fill="#FCD5B4"/>
<rect x="515" y="1001.42" width="11.6" height="5.04" fill="#FCD5B4"/>
<rect x="526.6" y="1001.42" width="1.9" height="5.04" fill="#F79646"/>
<rect x="539.1" y="1001.42" width="2" height="5.04" fill="#FCD5B4"/>
<rect x="515" y="1006.46" width="2" height="5.04" fill="#F79646"/>
<rect x="517" y="1006.46" width="13.5" height="5.04" fill="#FCD5B4"/>
<rect x="515" y="1011.5" width="3.9" height="5.04" fill="#F79646"/>
<rect x="518.9" y="1011.5" width="11.6" height="5.04" fill="#FCD5B4"/>
<rect x="539.1" y="1011.5" width="2" height="5.04" fill="#FCD5B4"/>
<rect x="557.5" y="1011.5" width="2.4" height="5.04" fill="#FCD5B4"/>
<rect x="515" y="1016.54" width="2.4" height="5.04" fill="#F79646"/>
<rect x="527.1" y="1016.54" width="2.2" height="5.04" fill="#F79646"/>
<rect x="537.2" y="1016.54" width="3.4" height="5.04" fill="#FCD5B4"/>
<rect x="555.1" y="1016.54" width="2.4" height="5.04" fill="#FCD5B4"/>
<rect x="567.6" y="1016.54" width="2" height="5.04" fill="#FCD5B4"/>
<rect x="515" y="1021.59" width="2" height="5.04" fill="#FCD5B4"/>
<rect x="518.4" y="1021.59" width="2.4" height="5.04" fill="#F79646"/>
<rect x="520.8" y="1021.59" width="8.7" height="5.04" fill="#FCD5B4"/>
<rect x="537.2" y="1021.59" width="3.4" height="5.04" fill="#FCD5B4"/>
<rect x="550.2" y="1021.59" width="2" height="5.04" fill="#FCD5B4"/>
<rect x="559.4" y="1021.59" width="2.4" height="5.04" fill="#FCD5B4"/>
<rect x="515" y="1026.63" width="6.8" height="5.04" fill="#F79646"/>
<rect x="521.8" y="1026.63" width="7.2" height="5.04" fill="#FCD5B4"/>
<rect x="515" y="1031.67" width="5.3" height="5.04" fill="#F79646"/>
<rect x="520.3" y="1031.67" width="10.2" height="5.04" fill="#FCD5B4"/>
<rect x="540.6" y="1031.67" width="1" height="5.04" fill="#FCD5B4"/>
<rect x="553.1" y="1031.67" width="6.8" height="5.04" fill="#FCD5B4"/>
<rect x="515" y="1036.71" width="2" height="5.04" fill="#F79646"/>
<rect x="517" y="1036.71" width="12" height="5.04" fill="#FCD5B4"/>
<rect x="537.7" y="1036.71" width="2.4" height="5.04" fill="#FCD5B4"/>
<rect x="540.1" y="1036.71" width="1.9" height="5.04" fill="#F79646"/>
<rect x="552.2" y="1036.71" width="2.4" height="5.04" fill="#FCD5B4"/>
<rect x="557.5" y="1036.71" width="2.9" height="5.04" fill="#FCD5B4"/>
<rect x="515" y="1041.75" width="7.7" height="5.04" fill="#FCD5B4"/>
<rect x="538.7" y="1041.75" width="2.4" height="5.04" fill="#FCD5B4"/>
<rect x="565.2" y="1041.75" width="4.4" height="5.04" fill="#FCD5B4"/>
<rect x="517.4" y="1046.79" width="3.4" height="5.04" fill="#F79646"/>
<rect x="520.8" y="1046.79" width="10.2" height="5.04" fill="#FCD5B4"/>
<rect x="515" y="1051.83" width="7.2" height="5.04" fill="#FCD5B4"/>
<rect x="553.6" y="1051.83" width="1.5" height="5.04" fill="#FCD5B4"/>
<rect x="515" y="1056.87" width="6.8" height="5.04" fill="#FCD5B4"/>
<rect x="537.7" y="1056.87" width="4.8" height="5.04" fill="#FCD5B4"/>
<rect x="555.6" y="1056.87" width="3.8" height="5.04" fill="#FCD5B4"/>
<rect x="534.3" y="1061.91" width="2.9" height="5.04" fill="#FCD5B4"/>
<rect x="537.2" y="1061.91" width="5.8" height="5.04" fill="#F79646"/>
<rect x="543" y="1061.91" width="3.9" height="5.04" fill="#FCD5B4"/>
<rect x="552.2" y="1061.91" width="6.3" height="5.04" fill="#FCD5B4"/>
<rect x="569.1" y="1061.91" width="2.4" height="5.04" fill="#F79646"/>
<rect x="571.5" y="1061.91" width="15.2" height="5.04" fill="#FCD5B4"/>
<rect x="592.9" y="1061.91" width="4.9" height="5.04" fill="#FCD5B4"/>
<rect x="515" y="1066.95" width="4.8" height="5.04" fill="#FCD5B4"/>
<rect x="528.5" y="1066.95" width="2.4" height="5.04" fill="#FCD5B4"/>
<rect x="515" y="1071.99" width="5.8" height="15.12" fill="#FCD5B4"/>
<rect x="534.8" y="1082.07" width="3.9" height="5.04" fill="#FCD5B4"/>
<rect x="538.7" y="1082.07" width="2.4" height="5.04" fill="#F79646"/>
<rect x="541.1" y="1082.07" width="1.9" height="5.04" fill="#FCD5B4"/>
<rect x="553.6" y="1082.07" width="2" height="5.04" fill="#FCD5B4"/>
<rect x="593.2" y="1082.07" width="2.7" height="5.04" fill="#FCD5B4"/>
<rect x="632.4" y="1016.54" width="1" height="5.04" fill="#FCD5B4"/>
<rect x="661" y="1082.07" width="1.7" height="5.04" fill="#C5D9F1"/>
<rect x="660.8" y="1107.28" width="1.9" height="5.04" fill="#C5D9F1"/>
<line x1="369.5" y1="991.34" x2="665.1" y2="991.34" stroke="rgba(200,200,200,0.35)" stroke-width="0.8"/>
<line x1="369.5" y1="996.38" x2="665.1" y2="996.38" stroke="rgba(200,200,200,0.35)" stroke-width="0.8"/>
<line x1="369.5" y1="1001.42" x2="665.1" y2="1001.42" stroke="rgba(200,200,200,0.35)" stroke-width="0.8"/>
<line x1="369.5" y1="1006.46" x2="665.1" y2="1006.46" stroke="rgba(200,200,200,0.35)" stroke-width="0.8"/>
<line x1="369.5" y1="1011.5" x2="665.1" y2="1011.5" stroke="rgba(200,200,200,0.35)" stroke-width="0.8"/>
<line x1="369.5" y1="1016.54" x2="665.1" y2="1016.54" stroke="rgba(200,200,200,0.35)" stroke-width="0.8"/>
<line x1="369.5" y1="1021.59" x2="665.1" y2="1021.59" stroke="rgba(200,200,200,0.35)" stroke-width="0.8"/>
<line x1="369.5" y1="1026.63" x2="665.1" y2="1026.63" stroke="rgba(200,200,200,0.35)" stroke-width="0.8"/>
<line x1="369.5" y1="1031.67" x2="665.1" y2="1031.67" stroke="rgba(200,200,200,0.35)" stroke-width="0.8"/>
<line x1="369.5" y1="1036.71" x2="665.1" y2="1036.71" stroke="rgba(200,200,200,0.35)" stroke-width="0.8"/>
<line x1="369.5" y1="1041.75" x2="665.1" y2="1041.75" stroke="rgba(200,200,200,0.35)" stroke-width="0.8"/>
<line x1="369.5" y1="1046.79" x2="665.1" y2="1046.79" stroke="rgba(200,200,200,0.35)" stroke-width="0.8"/>
<line x1="369.5" y1="1051.83" x2="665.1" y2="1051.83" stroke="rgba(200,200,200,0.35)" stroke-width="0.8"/>
<line x1="369.5" y1="1056.87" x2="665.1" y2="1056.87" stroke="rgba(200,200,200,0.35)" stroke-width="0.8"/>
<line x1="369.5" y1="1061.91" x2="665.1" y2="1061.91" stroke="rgba(200,200,200,0.35)" stroke-width="0.8"/>
<line x1="369.5" y1="1066.95" x2="665.1" y2="1066.95" stroke="rgba(200,200,200,0.35)" stroke-width="0.8"/>
<line x1="369.5" y1="1071.99" x2="665.1" y2="1071.99" stroke="rgba(200,200,200,0.35)" stroke-width="0.8"/>
<line x1="369.5" y1="1077.03" x2="665.1" y2="1077.03" stroke="rgba(200,200,200,0.35)" stroke-width="0.8"/>
<line x1="369.5" y1="1082.07" x2="665.1" y2="1082.07" stroke="rgba(200,200,200,0.35)" stroke-width="0.8"/>
<line x1="369.5" y1="1087.11" x2="665.1" y2="1087.11" stroke="rgba(200,200,200,0.35)" stroke-width="0.8"/>
<line x1="369.5" y1="1092.16" x2="665.1" y2="1092.16" stroke="rgba(200,200,200,0.35)" stroke-width="0.8"/>
<line x1="369.5" y1="1097.2" x2="665.1" y2="1097.2" stroke="rgba(200,200,200,0.35)" stroke-width="0.8"/>
<line x1="369.5" y1="1102.24" x2="665.1" y2="1102.24" stroke="rgba(200,200,200,0.35)" stroke-width="0.8"/>
<line x1="369.5" y1="1107.28" x2="665.1" y2="1107.28" stroke="rgba(200,200,200,0.35)" stroke-width="0.8"/>
<line x1="369.5" y1="1112.32" x2="665.1" y2="1112.32" stroke="rgba(200,200,200,0.35)" stroke-width="0.8"/>
<line x1="369.5" y1="1117.36" x2="665.1" y2="1117.36" stroke="rgba(200,200,200,0.35)" stroke-width="0.8"/>
<line x1="399.07" y1="986.3" x2="399.07" y2="1122.4" stroke="#d6d6d6" stroke-width="1"/>
<line x1="428.64" y1="986.3" x2="428.64" y2="1122.4" stroke="#777" stroke-width="1.0"/>
<line x1="458.21" y1="986.3" x2="458.21" y2="1122.4" stroke="#d6d6d6" stroke-width="1"/>
<line x1="487.78" y1="986.3" x2="487.78" y2="1122.4" stroke="#777" stroke-width="1.0"/>
<line x1="517.35" y1="986.3" x2="517.35" y2="1122.4" stroke="#d6d6d6" stroke-width="1"/>
<line x1="546.92" y1="986.3" x2="546.92" y2="1122.4" stroke="#777" stroke-width="1.0"/>
<line x1="576.49" y1="986.3" x2="576.49" y2="1122.4" stroke="#d6d6d6" stroke-width="1"/>
<line x1="606.06" y1="986.3" x2="606.06" y2="1122.4" stroke="#777" stroke-width="1.0"/>
<line x1="635.63" y1="986.3" x2="635.63" y2="1122.4" stroke="#d6d6d6" stroke-width="1"/>
<rect x="473.05" y="991.49" width="10.82" height="4.74" fill="none" stroke="#4a4a4a" stroke-width="1.3" rx="0.6"/>
<rect x="518" y="1001.57" width="10.53" height="4.74" fill="none" stroke="#4a4a4a" stroke-width="1.3" rx="0.6"/>
<rect x="473.05" y="1011.65" width="10.82" height="9.78" fill="none" stroke="#4a4a4a" stroke-width="1.3" rx="0.6"/>
<rect x="473.05" y="1031.82" width="10.82" height="9.78" fill="none" stroke="#4a4a4a" stroke-width="1.3" rx="0.6"/>
<rect x="544.32" y="1036.86" width="10.82" height="4.74" fill="none" stroke="#4a4a4a" stroke-width="1.3" rx="0.6"/>
<rect x="428.7" y="1046.94" width="10.82" height="4.74" fill="none" stroke="#4a4a4a" stroke-width="1.3" rx="0.6"/>
<rect x="447.03" y="1046.94" width="10.53" height="4.74" fill="none" stroke="#4a4a4a" stroke-width="1.3" rx="0.6"/>
<rect x="473.05" y="1057.02" width="10.82" height="4.74" fill="none" stroke="#4a4a4a" stroke-width="1.3" rx="0.6"/>
<rect x="544.32" y="1057.02" width="10.82" height="9.78" fill="none" stroke="#4a4a4a" stroke-width="1.3" rx="0.6"/>
<rect x="428.7" y="1067.1" width="10.82" height="9.78" fill="none" stroke="#4a4a4a" stroke-width="1.3" rx="0.6"/>
<rect x="447.03" y="1067.1" width="10.53" height="9.78" fill="none" stroke="#4a4a4a" stroke-width="1.3" rx="0.6"/>
<rect x="518" y="1011.65" width="10.53" height="75.31" fill="none" stroke="#4a4a4a" stroke-width="1.3" rx="0.6"/>
<rect x="544.32" y="1077.18" width="10.82" height="9.78" fill="none" stroke="#4a4a4a" stroke-width="1.3" rx="0.6"/>
<rect x="428.7" y="1092.31" width="10.82" height="4.74" fill="none" stroke="#4a4a4a" stroke-width="1.3" rx="0.6"/>
<rect x="518" y="1092.31" width="10.53" height="19.86" fill="none" stroke="#4a4a4a" stroke-width="1.3" rx="0.6"/>
<line x1="369.5" y1="986.3" x2="369.5" y2="1122.4" stroke="#555" stroke-width="1.2"/>
<text x="368.7" y="990.32" font-size="4.4" font-weight="bold" text-anchor="end" fill="#333">Fp1</text>
<text x="368.7" y="995.36" font-size="4.4" font-weight="bold" text-anchor="end" fill="#333">Fp2</text>
<text x="368.7" y="1000.4" font-size="4.4" font-weight="bold" text-anchor="end" fill="#333">F7</text>
<text x="368.7" y="1005.44" font-size="4.4" font-weight="bold" text-anchor="end" fill="#333">F3</text>
<text x="368.7" y="1010.48" font-size="4.4" font-weight="bold" text-anchor="end" fill="#333">Fz</text>
<text x="368.7" y="1015.52" font-size="4.4" font-weight="bold" text-anchor="end" fill="#333">F4</text>
<text x="368.7" y="1020.56" font-size="4.4" font-weight="bold" text-anchor="end" fill="#333">F8</text>
<text x="368.7" y="1025.61" font-size="4.4" font-weight="bold" text-anchor="end" fill="#333">FC5</text>
<text x="368.7" y="1030.65" font-size="4.4" font-weight="bold" text-anchor="end" fill="#333">FC1</text>
<text x="368.7" y="1035.69" font-size="4.4" font-weight="bold" text-anchor="end" fill="#333">FC2</text>
<text x="368.7" y="1040.73" font-size="4.4" font-weight="bold" text-anchor="end" fill="#333">FC6</text>
<text x="368.7" y="1045.77" font-size="4.4" font-weight="bold" text-anchor="end" fill="#333">T7</text>
<text x="368.7" y="1050.81" font-size="4.4" font-weight="bold" text-anchor="end" fill="#333">C3</text>
<text x="368.7" y="1055.85" font-size="4.4" font-weight="bold" text-anchor="end" fill="#333">Cz</text>
<text x="368.7" y="1060.89" font-size="4.4" font-weight="bold" text-anchor="end" fill="#333">C4</text>
<text x="368.7" y="1065.93" font-size="4.4" font-weight="bold" text-anchor="end" fill="#333">T8</text>
<text x="368.7" y="1070.97" font-size="4.4" font-weight="bold" text-anchor="end" fill="#333">CP5</text>
<text x="368.7" y="1076.01" font-size="4.4" font-weight="bold" text-anchor="end" fill="#333">CP1</text>
<text x="368.7" y="1081.05" font-size="4.4" font-weight="bold" text-anchor="end" fill="#333">CP2</text>
<text x="368.7" y="1086.09" font-size="4.4" font-weight="bold" text-anchor="end" fill="#333">CP6</text>
<text x="368.7" y="1091.14" font-size="4.4" font-weight="bold" text-anchor="end" fill="#333">P7</text>
<text x="368.7" y="1096.18" font-size="4.4" font-weight="bold" text-anchor="end" fill="#333">P3</text>
<text x="368.7" y="1101.22" font-size="4.4" font-weight="bold" text-anchor="end" fill="#333">Pz</text>
<text x="368.7" y="1106.26" font-size="4.4" font-weight="bold" text-anchor="end" fill="#333">P4</text>
<text x="368.7" y="1111.3" font-size="4.4" font-weight="bold" text-anchor="end" fill="#333">P8</text>
<text x="368.7" y="1116.34" font-size="4.4" font-weight="bold" text-anchor="end" fill="#333">O1</text>
<text x="368.7" y="1121.38" font-size="4.4" font-weight="bold" text-anchor="end" fill="#333">O2</text>
<rect x="360.9" y="986.3" width="304.2" height="136.1" fill="none" stroke="#858585" stroke-width="1.4" rx="1.0"/>
<text x="674.2" y="429.9" font-size="12" fill="#333">Positive correlations</text>
<text x="674.2" y="499" font-size="12" fill="#333">Negative correlations</text>
<rect x="676.1" y="437.9" width="31.3" height="9.8" fill="#E46C0A"/>
<text x="710.6" y="447.4" font-size="12" fill="#333"><tspan font-style="italic">p</tspan> &lt; .01</text>
<rect x="676.1" y="458.3" width="31.3" height="9.8" fill="#FAC090"/>
<text x="710.6" y="467.8" font-size="12" fill="#333"><tspan font-style="italic">p</tspan> &lt; .05</text>
<rect x="676.1" y="508" width="31.3" height="9.8" fill="#0070C0"/>
<text x="710.6" y="517.5" font-size="12" fill="#333"><tspan font-style="italic">p</tspan> &lt; .01</text>
<rect x="676.1" y="528" width="31.3" height="9.8" fill="#00B0F0"/>
<text x="710.6" y="537.5" font-size="12" fill="#333"><tspan font-style="italic">p</tspan> &lt; .05</text>
<text x="48.09" y="1138.6" font-size="17" letter-spacing="0.9" fill="#000" stroke="#000" stroke-width="0.3">[ms]</text>
<text x="117.45" y="1139.5" font-size="17.5" letter-spacing="0.4" fill="#000" stroke="#000" stroke-width="0.3" text-anchor="middle">200</text>
<text x="177.95" y="1139.5" font-size="17.5" letter-spacing="0.4" fill="#000" stroke="#000" stroke-width="0.3" text-anchor="middle">400</text>
<text x="234.6" y="1139.5" font-size="17.5" letter-spacing="0.4" fill="#000" stroke="#000" stroke-width="0.3" text-anchor="middle">600</text>
<text x="296.75" y="1139.5" font-size="17.5" letter-spacing="0.4" fill="#000" stroke="#000" stroke-width="0.3" text-anchor="middle">800</text>
<text x="358.69" y="1138.6" font-size="17" letter-spacing="0.9" fill="#000" stroke="#000" stroke-width="0.3">[ms]</text>
<text x="427.25" y="1139.5" font-size="17.5" letter-spacing="0.4" fill="#000" stroke="#000" stroke-width="0.3" text-anchor="middle">200</text>
<text x="486.95" y="1139.5" font-size="17.5" letter-spacing="0.4" fill="#000" stroke="#000" stroke-width="0.3" text-anchor="middle">400</text>
<text x="544.75" y="1139.5" font-size="17.5" letter-spacing="0.4" fill="#000" stroke="#000" stroke-width="0.3" text-anchor="middle">600</text>
<text x="606.4" y="1139.5" font-size="17.5" letter-spacing="0.4" fill="#000" stroke="#000" stroke-width="0.3" text-anchor="middle">800</text>
</svg>
</body></html>
